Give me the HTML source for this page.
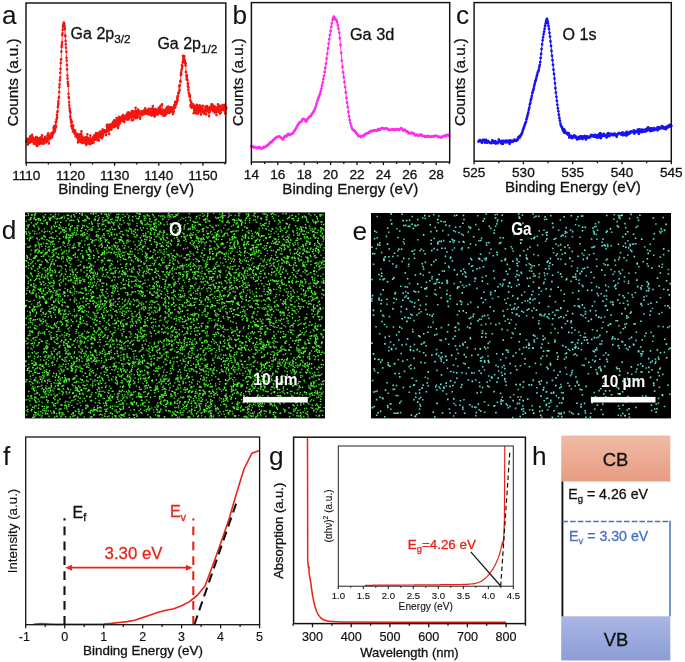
<!DOCTYPE html>
<html lang="en"><head><meta charset="utf-8"><title>Ga2O3 XPS, EDS mapping, valence band and optical band gap</title>
<style>html,body{margin:0;padding:0;background:#fff;overflow:hidden}svg{display:block}text{font-family:"Liberation Sans", Arial, Helvetica, sans-serif}</style></head><body>
<svg width="685" height="662" viewBox="0 0 685 662">
<rect width="685" height="662" fill="#fff"/>
<g id="panel-a">
<polyline points="26.3,141.3 26.5,142 26.7,140.6 27,139 27.2,140.1 27.4,138.8 27.6,141.4 27.8,144.6 28.1,140 28.3,139.7 28.5,142.4 28.7,142.1 28.9,141.5 29.2,138.9 29.4,141.1 29.6,142.9 29.8,137.8 30.1,140.1 30.3,136.4 30.5,138 30.7,136.6 30.9,140.6 31.2,138 31.4,141.8 31.6,141.6 31.8,140.7 32,134.9 32.3,139.8 32.5,141 32.7,141.4 32.9,137.3 33.1,139.9 33.4,138.7 33.6,139.1 33.8,143.7 34,139.1 34.2,141 34.5,143.3 34.7,139.6 34.9,140.8 35.1,141.3 35.4,141.2 35.6,137.9 35.8,141.2 36,144.4 36.2,137.1 36.5,143.1 36.7,141.2 36.9,139.3 37.1,145.9 37.3,142.8 37.6,137.9 37.8,141 38,142.3 38.2,140.4 38.4,142.5 38.7,140.6 38.9,142.4 39.1,144.3 39.3,139 39.5,141.2 39.8,139.5 40,141 40.2,137.7 40.4,139.1 40.6,140.1 40.9,142.8 41.1,143.4 41.3,137.2 41.5,138.5 41.8,142 42,135.4 42.2,139.2 42.4,140 42.6,143.4 42.9,141.9 43.1,139.3 43.3,139.2 43.5,139.4 43.7,143.8 44,138.9 44.2,139.2 44.4,140.7 44.6,139.5 44.8,139.2 45.1,136.9 45.3,139.6 45.5,138.4 45.7,142.4 45.9,141 46.2,139.3 46.4,140.9 46.6,138.3 46.8,141.7 47.1,139 47.3,140.3 47.5,135.6 47.7,139.5 47.9,134.4 48.2,133.4 48.4,137.6 48.6,136 48.8,138.5 49,143.5 49.3,135.8 49.5,136.1 49.7,138 49.9,138.5 50.1,136.7 50.4,136.5 50.6,138.5 50.8,137.9 51,133.8 51.2,136 51.5,136 51.7,133.1 51.9,136 52.1,133 52.3,137.1 52.6,134.9 52.8,134.3 53,132.3 53.2,133 53.5,128 53.7,129.6 53.9,132.7 54.1,126.2 54.3,132.6 54.6,125.8 54.8,131 55,126.4 55.2,129.3 55.4,126.9 55.7,122 55.9,127.3 56.1,126.5 56.3,121.7 56.5,119.8 56.8,118.5 57,115 57.2,117.8 57.4,112.2 57.6,111.2 57.9,107.3 58.1,105.3 58.3,101.4 58.5,103.8 58.8,98 59,97.1 59.2,92 59.4,87.3 59.6,84.4 59.9,80.3 60.1,77.5 60.3,72.8 60.5,68.9 60.7,63 61,59.8 61.2,59.3 61.4,51.6 61.6,46.9 61.8,44.8 62.1,42.4 62.3,35 62.5,33.3 62.7,29.8 62.9,26 63.2,26.9 63.4,24.5 63.6,23.7 63.8,22.5 64,24.1 64.3,23.9 64.5,25.9 64.7,26.8 64.9,29.1 65.2,35.2 65.4,36.2 65.6,40.9 65.8,44.3 66,47.8 66.3,51.8 66.5,57.7 66.7,60.5 66.9,65 67.1,69.4 67.4,75.5 67.6,78.6 67.8,82 68,84 68.2,86 68.5,93.8 68.7,97.1 68.9,98 69.1,102.3 69.3,105.6 69.6,108.3 69.8,111 70,110.3 70.2,116.7 70.4,112.6 70.7,119.1 70.9,120 71.1,122.4 71.3,126.1 71.6,126.6 71.8,121.8 72,121.6 72.2,128.5 72.4,125.2 72.7,128.4 72.9,131.2 73.1,126 73.3,125.6 73.5,131.9 73.8,131.9 74,131.7 74.2,132.9 74.4,131.2 74.6,130 74.9,133.7 75.1,132.1 75.3,130.8 75.5,136.3 75.7,135.2 76,136.6 76.2,133.5 76.4,134.5 76.6,133.9 76.9,134.4 77.1,137.3 77.3,135.1 77.5,138.1 77.7,138.2 78,142.5 78.2,134.3 78.4,140 78.6,137.8 78.8,138.1 79.1,134.7 79.3,137.3 79.5,140.4 79.7,138.4 79.9,139 80.2,138.2 80.4,141.8 80.6,139 80.8,133.7 81,137.6 81.3,134.5 81.5,131.4 81.7,138.2 81.9,142.9 82.1,139.8 82.4,136.8 82.6,137.5 82.8,142.7 83,140.3 83.3,140.1 83.5,139.9 83.7,140.2 83.9,142.2 84.1,141.6 84.4,140.8 84.6,137.7 84.8,141.7 85,138.7 85.2,143.2 85.5,137.4 85.7,140.2 85.9,140.6 86.1,137.3 86.3,145 86.6,144.3 86.8,139.6 87,142.7 87.2,141.7 87.4,134.3 87.7,141.4 87.9,140.6 88.1,141 88.3,138 88.6,140 88.8,140.2 89,143.6 89.2,141.4 89.4,140.5 89.7,144.2 89.9,139 90.1,139.3 90.3,135.6 90.5,144 90.8,142.4 91,142.2 91.2,141.5 91.4,140 91.6,140.1 91.9,138.8 92.1,138.8 92.3,139.4 92.5,142.9 92.7,140.4 93,138.7 93.2,137.3 93.4,137 93.6,142.5 93.8,139.6 94.1,138.3 94.3,137.2 94.5,135.1 94.7,137.6 95,139.8 95.2,136.5 95.4,136.8 95.6,136.7 95.8,137.4 96.1,133 96.3,136.3 96.5,134.6 96.7,138.8 96.9,134.6 97.2,137.8 97.4,140 97.6,135.3 97.8,134.5 98,136.3 98.3,135.7 98.5,133.1 98.7,136.6 98.9,140.4 99.1,134.5 99.4,134.5 99.6,132.3 99.8,135.6 100,131.5 100.3,131.7 100.5,137.5 100.7,131.9 100.9,136.7 101.1,137.7 101.4,134.4 101.6,135 101.8,138.3 102,132.8 102.2,131.6 102.5,129.6 102.7,132.9 102.9,136.4 103.1,134.9 103.3,130 103.6,130.1 103.8,130.8 104,132.6 104.2,131.2 104.4,132.1 104.7,132.2 104.9,130.5 105.1,131 105.3,131.5 105.5,130.6 105.8,131.9 106,135.1 106.2,131.8 106.4,130.3 106.7,125.8 106.9,130.8 107.1,124.8 107.3,126 107.5,131.5 107.8,131 108,128.7 108.2,124.7 108.4,127.9 108.6,126.9 108.9,130.1 109.1,134 109.3,128.7 109.5,126.1 109.7,125 110,127.6 110.2,127.1 110.4,124.5 110.6,127.5 110.8,124.2 111.1,129.7 111.3,129.4 111.5,129.3 111.7,125.3 112,127.6 112.2,125.8 112.4,125 112.6,124.9 112.8,122.4 113.1,121.9 113.3,127.3 113.5,124.7 113.7,125.5 113.9,127.3 114.2,120.3 114.4,122.5 114.6,124.8 114.8,125.1 115,123 115.3,126.4 115.5,124.2 115.7,120.5 115.9,121 116.1,125.2 116.4,124.2 116.6,118.1 116.8,126.1 117,124 117.2,125.8 117.5,121.3 117.7,121.3 117.9,119.1 118.1,128.1 118.4,121.2 118.6,125.5 118.8,119.7 119,121.6 119.2,116.9 119.5,120 119.7,123.2 119.9,117.5 120.1,123.2 120.3,121.2 120.6,117.6 120.8,118.8 121,118.8 121.2,119.7 121.4,118.4 121.7,117.5 121.9,118.7 122.1,116.8 122.3,116 122.5,119 122.8,121.2 123,115.1 123.2,118.8 123.4,117.1 123.7,116.2 123.9,120.6 124.1,117.1 124.3,122.1 124.5,116.3 124.8,119.1 125,117.5 125.2,116.1 125.4,119.3 125.6,117.4 125.9,119.2 126.1,117.5 126.3,114.8 126.5,117.2 126.7,117.5 127,119.6 127.2,114.9 127.4,117 127.6,112.7 127.8,118.5 128.1,114.1 128.3,112.2 128.5,116.5 128.7,119.4 128.9,112.7 129.2,113.7 129.4,114.5 129.6,113.5 129.8,117.2 130.1,114.1 130.3,114.3 130.5,117.5 130.7,114.1 130.9,117 131.2,113.4 131.4,112.7 131.6,111.1 131.8,120.3 132,114.8 132.3,116.1 132.5,115.4 132.7,115.8 132.9,115.5 133.1,120.1 133.4,112.6 133.6,111.3 133.8,112.6 134,111.8 134.2,116.9 134.5,117 134.7,112.5 134.9,111.4 135.1,114 135.4,118.3 135.6,107.7 135.8,116.1 136,112 136.2,117.3 136.5,111.9 136.7,113.9 136.9,110.8 137.1,112.1 137.3,117.9 137.6,116.5 137.8,113.4 138,112.2 138.2,109.6 138.4,113.3 138.7,114.2 138.9,114 139.1,113.9 139.3,111.3 139.5,113.9 139.8,114 140,117.3 140.2,118.7 140.4,113.6 140.6,112 140.9,113.7 141.1,112.4 141.3,112 141.5,113.7 141.8,111.2 142,115.3 142.2,113.5 142.4,114.3 142.6,113.2 142.9,111.8 143.1,111.2 143.3,113 143.5,112.2 143.7,114.1 144,113.5 144.2,110.1 144.4,113.6 144.6,110.1 144.8,111.9 145.1,112.6 145.3,108.2 145.5,113.6 145.7,113.7 145.9,112.9 146.2,112.2 146.4,112.3 146.6,110.8 146.8,112.5 147.1,111.8 147.3,113.4 147.5,110.1 147.7,113.7 147.9,113.4 148.2,112.7 148.4,111.9 148.6,114.4 148.8,108.8 149,114.1 149.3,113.5 149.5,113.6 149.7,113.8 149.9,111.2 150.1,112.1 150.4,114.4 150.6,113.8 150.8,113.2 151,108.9 151.2,114 151.5,115.6 151.7,115.1 151.9,113.2 152.1,108.7 152.3,114.9 152.6,112.1 152.8,106.1 153,113.4 153.2,108.7 153.5,109.2 153.7,110.8 153.9,115.5 154.1,111.4 154.3,113 154.6,116.6 154.8,116.2 155,111.9 155.2,111.6 155.4,109 155.7,110.4 155.9,113.2 156.1,113.1 156.3,112.3 156.5,114.5 156.8,110.1 157,111.8 157.2,113.8 157.4,113.4 157.6,114.6 157.9,112.8 158.1,111.1 158.3,112.7 158.5,109.3 158.7,107.7 159,113.2 159.2,111.6 159.4,112.4 159.6,107.4 159.9,110.7 160.1,110.1 160.3,109.4 160.5,105.9 160.7,110.7 161,113.7 161.2,112.4 161.4,109.9 161.6,111.3 161.8,113.2 162.1,104.4 162.3,111 162.5,112.6 162.7,112.9 162.9,115.4 163.2,114 163.4,111.9 163.6,111.9 163.8,113 164,109.7 164.3,110.9 164.5,113.2 164.7,115.8 164.9,110.5 165.2,110.7 165.4,111.3 165.6,114.1 165.8,110.7 166,114.4 166.3,108.3 166.5,110.2 166.7,110.1 166.9,112.5 167.1,113.1 167.4,106.7 167.6,108.1 167.8,111.2 168,108.7 168.2,106.5 168.5,112.8 168.7,111.4 168.9,111.3 169.1,108.9 169.3,112.6 169.6,109.4 169.8,112.6 170,107.6 170.2,107.7 170.4,110.2 170.7,107.9 170.9,111.3 171.1,110.2 171.3,107.2 171.6,109.5 171.8,108.4 172,111.4 172.2,107.5 172.4,107.8 172.7,111.8 172.9,114.1 173.1,113.4 173.3,108.4 173.5,108.6 173.8,111.6 174,107.3 174.2,105 174.4,107.4 174.6,107.9 174.9,104.4 175.1,102.1 175.3,102.1 175.5,106.8 175.7,102.8 176,103.8 176.2,104 176.4,104.3 176.6,101.3 176.9,102.5 177.1,98.4 177.3,98.8 177.5,96.3 177.7,100.2 178,96.4 178.2,93.6 178.4,93.2 178.6,92.2 178.8,92.9 179.1,86.2 179.3,85.9 179.5,85.8 179.7,90.4 179.9,85.2 180.2,81.1 180.4,80.9 180.6,81.8 180.8,75.1 181,72.9 181.3,74.2 181.5,70.8 181.7,69.3 181.9,65.2 182.1,68.2 182.4,66.3 182.6,62.7 182.8,61.7 183,55.7 183.3,60 183.5,58 183.7,59.1 183.9,59.7 184.1,58.2 184.4,56.3 184.6,61.1 184.8,60.1 185,62.3 185.2,63.2 185.5,65.4 185.7,63.3 185.9,72.1 186.1,72.1 186.3,75.8 186.6,79.5 186.8,77.4 187,75.4 187.2,79.2 187.4,80.3 187.7,83.6 187.9,86.5 188.1,83.6 188.3,90.3 188.6,87.6 188.8,93.1 189,93.5 189.2,94.3 189.4,96 189.7,96 189.9,96.9 190.1,95.3 190.3,100.1 190.5,105.4 190.8,106.5 191,105.6 191.2,104.8 191.4,102.1 191.6,107.8 191.9,104.7 192.1,105.1 192.3,105 192.5,106.3 192.7,105.4 193,106.6 193.2,104.4 193.4,106.4 193.6,113.2 193.8,107.7 194.1,107.5 194.3,109.6 194.5,110.2 194.7,105.9 195,108.2 195.2,111.2 195.4,109.7 195.6,109.5 195.8,113.1 196.1,107.7 196.3,109.7 196.5,108.3 196.7,113.4 196.9,104.9 197.2,108.2 197.4,108.6 197.6,111.6 197.8,111.5 198,113.6 198.3,106.2 198.5,112.1 198.7,109.5 198.9,108.6 199.1,111.7 199.4,108.1 199.6,105.3 199.8,109.5 200,106.8 200.3,108.9 200.5,111.5 200.7,111.4 200.9,114.6 201.1,110.1 201.4,106.8 201.6,108.8 201.8,108.4 202,107.6 202.2,111.8 202.5,109.1 202.7,105.7 202.9,112.4 203.1,110.4 203.3,111.5 203.6,110.9 203.8,112.2 204,110.7 204.2,113.7 204.4,111.6 204.7,111.5 204.9,111.5 205.1,106.9 205.3,110.1 205.5,109.8 205.8,110.9 206,107 206.2,114.4 206.4,110.6 206.7,107.3 206.9,106 207.1,109.5 207.3,109.9 207.5,108.3 207.8,110.3 208,108.5 208.2,111.4 208.4,108.2 208.6,109.9 208.9,112.4 209.1,116.3 209.3,107.3 209.5,108.6 209.7,107.7 210,111.7 210.2,106.8 210.4,108.4 210.6,109.5 210.8,107.1 211.1,107.2 211.3,108.3 211.5,104.2 211.7,105.8 212,108.4 212.2,109.8 212.4,108.9 212.6,104.9 212.8,108.2 213.1,111.3 213.3,110.6 213.5,109 213.7,107 213.9,110.7 214.2,107.7 214.4,106.2 214.6,107.1 214.8,112.7 215,109.6 215.3,111.9 215.5,107.8 215.7,111.3 215.9,107.4 216.1,108.5 216.4,115.1 216.6,110.7 216.8,107.5 217,108.5 217.2,109.5 217.5,111.7 217.7,107.4 217.9,104.3 218.1,107.9 218.4,108.6 218.6,108.8 218.8,111.8 219,109.3 219.2,110.5 219.5,105.7 219.7,110.6 219.9,113.6 220.1,110.3 220.3,108.9 220.6,108.7 220.8,112.7 221,105.9 221.2,107.9 221.4,109.3 221.7,110 221.9,107 222.1,108.9 222.3,107.4 222.5,108.3 222.8,107.7 223,105.1 223.2,107.9 223.4,110.1 223.7,105.5 223.9,107.3 224.1,109.5 224.3,105.1 224.5,108.3 224.8,105.1 225,110.6 225.2,113.5 225.4,112.7 225.6,107.1 225.9,109.5 226.1,107.9 226.3,107.8" fill="none" stroke="#f4150f" stroke-width="0.8" stroke-linejoin="round"/>
<path d="M26.3 141.3h0M26.5 142h0M26.7 140.6h0M27 139h0M27.2 140.1h0M27.4 138.8h0M27.6 141.4h0M27.8 144.6h0M28.1 140h0M28.3 139.7h0M28.5 142.4h0M28.7 142.1h0M28.9 141.5h0M29.2 138.9h0M29.4 141.1h0M29.6 142.9h0M29.8 137.8h0M30.1 140.1h0M30.3 136.4h0M30.5 138h0M30.7 136.6h0M30.9 140.6h0M31.2 138h0M31.4 141.8h0M31.6 141.6h0M31.8 140.7h0M32 134.9h0M32.3 139.8h0M32.5 141h0M32.7 141.4h0M32.9 137.3h0M33.1 139.9h0M33.4 138.7h0M33.6 139.1h0M33.8 143.7h0M34 139.1h0M34.2 141h0M34.5 143.3h0M34.7 139.6h0M34.9 140.8h0M35.1 141.3h0M35.4 141.2h0M35.6 137.9h0M35.8 141.2h0M36 144.4h0M36.2 137.1h0M36.5 143.1h0M36.7 141.2h0M36.9 139.3h0M37.1 145.9h0M37.3 142.8h0M37.6 137.9h0M37.8 141h0M38 142.3h0M38.2 140.4h0M38.4 142.5h0M38.7 140.6h0M38.9 142.4h0M39.1 144.3h0M39.3 139h0M39.5 141.2h0M39.8 139.5h0M40 141h0M40.2 137.7h0M40.4 139.1h0M40.6 140.1h0M40.9 142.8h0M41.1 143.4h0M41.3 137.2h0M41.5 138.5h0M41.8 142h0M42 135.4h0M42.2 139.2h0M42.4 140h0M42.6 143.4h0M42.9 141.9h0M43.1 139.3h0M43.3 139.2h0M43.5 139.4h0M43.7 143.8h0M44 138.9h0M44.2 139.2h0M44.4 140.7h0M44.6 139.5h0M44.8 139.2h0M45.1 136.9h0M45.3 139.6h0M45.5 138.4h0M45.7 142.4h0M45.9 141h0M46.2 139.3h0M46.4 140.9h0M46.6 138.3h0M46.8 141.7h0M47.1 139h0M47.3 140.3h0M47.5 135.6h0M47.7 139.5h0M47.9 134.4h0M48.2 133.4h0M48.4 137.6h0M48.6 136h0M48.8 138.5h0M49 143.5h0M49.3 135.8h0M49.5 136.1h0M49.7 138h0M49.9 138.5h0M50.1 136.7h0M50.4 136.5h0M50.6 138.5h0M50.8 137.9h0M51 133.8h0M51.2 136h0M51.5 136h0M51.7 133.1h0M51.9 136h0M52.1 133h0M52.3 137.1h0M52.6 134.9h0M52.8 134.3h0M53 132.3h0M53.2 133h0M53.5 128h0M53.7 129.6h0M53.9 132.7h0M54.1 126.2h0M54.3 132.6h0M54.6 125.8h0M54.8 131h0M55 126.4h0M55.2 129.3h0M55.4 126.9h0M55.7 122h0M55.9 127.3h0M56.1 126.5h0M56.3 121.7h0M56.5 119.8h0M56.8 118.5h0M57 115h0M57.2 117.8h0M57.4 112.2h0M57.6 111.2h0M57.9 107.3h0M58.1 105.3h0M58.3 101.4h0M58.5 103.8h0M58.8 98h0M59 97.1h0M59.2 92h0M59.4 87.3h0M59.6 84.4h0M59.9 80.3h0M60.1 77.5h0M60.3 72.8h0M60.5 68.9h0M60.7 63h0M61 59.8h0M61.2 59.3h0M61.4 51.6h0M61.6 46.9h0M61.8 44.8h0M62.1 42.4h0M62.3 35h0M62.5 33.3h0M62.7 29.8h0M62.9 26h0M63.2 26.9h0M63.4 24.5h0M63.6 23.7h0M63.8 22.5h0M64 24.1h0M64.3 23.9h0M64.5 25.9h0M64.7 26.8h0M64.9 29.1h0M65.2 35.2h0M65.4 36.2h0M65.6 40.9h0M65.8 44.3h0M66 47.8h0M66.3 51.8h0M66.5 57.7h0M66.7 60.5h0M66.9 65h0M67.1 69.4h0M67.4 75.5h0M67.6 78.6h0M67.8 82h0M68 84h0M68.2 86h0M68.5 93.8h0M68.7 97.1h0M68.9 98h0M69.1 102.3h0M69.3 105.6h0M69.6 108.3h0M69.8 111h0M70 110.3h0M70.2 116.7h0M70.4 112.6h0M70.7 119.1h0M70.9 120h0M71.1 122.4h0M71.3 126.1h0M71.6 126.6h0M71.8 121.8h0M72 121.6h0M72.2 128.5h0M72.4 125.2h0M72.7 128.4h0M72.9 131.2h0M73.1 126h0M73.3 125.6h0M73.5 131.9h0M73.8 131.9h0M74 131.7h0M74.2 132.9h0M74.4 131.2h0M74.6 130h0M74.9 133.7h0M75.1 132.1h0M75.3 130.8h0M75.5 136.3h0M75.7 135.2h0M76 136.6h0M76.2 133.5h0M76.4 134.5h0M76.6 133.9h0M76.9 134.4h0M77.1 137.3h0M77.3 135.1h0M77.5 138.1h0M77.7 138.2h0M78 142.5h0M78.2 134.3h0M78.4 140h0M78.6 137.8h0M78.8 138.1h0M79.1 134.7h0M79.3 137.3h0M79.5 140.4h0M79.7 138.4h0M79.9 139h0M80.2 138.2h0M80.4 141.8h0M80.6 139h0M80.8 133.7h0M81 137.6h0M81.3 134.5h0M81.5 131.4h0M81.7 138.2h0M81.9 142.9h0M82.1 139.8h0M82.4 136.8h0M82.6 137.5h0M82.8 142.7h0M83 140.3h0M83.3 140.1h0M83.5 139.9h0M83.7 140.2h0M83.9 142.2h0M84.1 141.6h0M84.4 140.8h0M84.6 137.7h0M84.8 141.7h0M85 138.7h0M85.2 143.2h0M85.5 137.4h0M85.7 140.2h0M85.9 140.6h0M86.1 137.3h0M86.3 145h0M86.6 144.3h0M86.8 139.6h0M87 142.7h0M87.2 141.7h0M87.4 134.3h0M87.7 141.4h0M87.9 140.6h0M88.1 141h0M88.3 138h0M88.6 140h0M88.8 140.2h0M89 143.6h0M89.2 141.4h0M89.4 140.5h0M89.7 144.2h0M89.9 139h0M90.1 139.3h0M90.3 135.6h0M90.5 144h0M90.8 142.4h0M91 142.2h0M91.2 141.5h0M91.4 140h0M91.6 140.1h0M91.9 138.8h0M92.1 138.8h0M92.3 139.4h0M92.5 142.9h0M92.7 140.4h0M93 138.7h0M93.2 137.3h0M93.4 137h0M93.6 142.5h0M93.8 139.6h0M94.1 138.3h0M94.3 137.2h0M94.5 135.1h0M94.7 137.6h0M95 139.8h0M95.2 136.5h0M95.4 136.8h0M95.6 136.7h0M95.8 137.4h0M96.1 133h0M96.3 136.3h0M96.5 134.6h0M96.7 138.8h0M96.9 134.6h0M97.2 137.8h0M97.4 140h0M97.6 135.3h0M97.8 134.5h0M98 136.3h0M98.3 135.7h0M98.5 133.1h0M98.7 136.6h0M98.9 140.4h0M99.1 134.5h0M99.4 134.5h0M99.6 132.3h0M99.8 135.6h0M100 131.5h0M100.3 131.7h0M100.5 137.5h0M100.7 131.9h0M100.9 136.7h0M101.1 137.7h0M101.4 134.4h0M101.6 135h0M101.8 138.3h0M102 132.8h0M102.2 131.6h0M102.5 129.6h0M102.7 132.9h0M102.9 136.4h0M103.1 134.9h0M103.3 130h0M103.6 130.1h0M103.8 130.8h0M104 132.6h0M104.2 131.2h0M104.4 132.1h0M104.7 132.2h0M104.9 130.5h0M105.1 131h0M105.3 131.5h0M105.5 130.6h0M105.8 131.9h0M106 135.1h0M106.2 131.8h0M106.4 130.3h0M106.7 125.8h0M106.9 130.8h0M107.1 124.8h0M107.3 126h0M107.5 131.5h0M107.8 131h0M108 128.7h0M108.2 124.7h0M108.4 127.9h0M108.6 126.9h0M108.9 130.1h0M109.1 134h0M109.3 128.7h0M109.5 126.1h0M109.7 125h0M110 127.6h0M110.2 127.1h0M110.4 124.5h0M110.6 127.5h0M110.8 124.2h0M111.1 129.7h0M111.3 129.4h0M111.5 129.3h0M111.7 125.3h0M112 127.6h0M112.2 125.8h0M112.4 125h0M112.6 124.9h0M112.8 122.4h0M113.1 121.9h0M113.3 127.3h0M113.5 124.7h0M113.7 125.5h0M113.9 127.3h0M114.2 120.3h0M114.4 122.5h0M114.6 124.8h0M114.8 125.1h0M115 123h0M115.3 126.4h0M115.5 124.2h0M115.7 120.5h0M115.9 121h0M116.1 125.2h0M116.4 124.2h0M116.6 118.1h0M116.8 126.1h0M117 124h0M117.2 125.8h0M117.5 121.3h0M117.7 121.3h0M117.9 119.1h0M118.1 128.1h0M118.4 121.2h0M118.6 125.5h0M118.8 119.7h0M119 121.6h0M119.2 116.9h0M119.5 120h0M119.7 123.2h0M119.9 117.5h0M120.1 123.2h0M120.3 121.2h0M120.6 117.6h0M120.8 118.8h0M121 118.8h0M121.2 119.7h0M121.4 118.4h0M121.7 117.5h0M121.9 118.7h0M122.1 116.8h0M122.3 116h0M122.5 119h0M122.8 121.2h0M123 115.1h0M123.2 118.8h0M123.4 117.1h0M123.7 116.2h0M123.9 120.6h0M124.1 117.1h0M124.3 122.1h0M124.5 116.3h0M124.8 119.1h0M125 117.5h0M125.2 116.1h0M125.4 119.3h0M125.6 117.4h0M125.9 119.2h0M126.1 117.5h0M126.3 114.8h0M126.5 117.2h0M126.7 117.5h0M127 119.6h0M127.2 114.9h0M127.4 117h0M127.6 112.7h0M127.8 118.5h0M128.1 114.1h0M128.3 112.2h0M128.5 116.5h0M128.7 119.4h0M128.9 112.7h0M129.2 113.7h0M129.4 114.5h0M129.6 113.5h0M129.8 117.2h0M130.1 114.1h0M130.3 114.3h0M130.5 117.5h0M130.7 114.1h0M130.9 117h0M131.2 113.4h0M131.4 112.7h0M131.6 111.1h0M131.8 120.3h0M132 114.8h0M132.3 116.1h0M132.5 115.4h0M132.7 115.8h0M132.9 115.5h0M133.1 120.1h0M133.4 112.6h0M133.6 111.3h0M133.8 112.6h0M134 111.8h0M134.2 116.9h0M134.5 117h0M134.7 112.5h0M134.9 111.4h0M135.1 114h0M135.4 118.3h0M135.6 107.7h0M135.8 116.1h0M136 112h0M136.2 117.3h0M136.5 111.9h0M136.7 113.9h0M136.9 110.8h0M137.1 112.1h0M137.3 117.9h0M137.6 116.5h0M137.8 113.4h0M138 112.2h0M138.2 109.6h0M138.4 113.3h0M138.7 114.2h0M138.9 114h0M139.1 113.9h0M139.3 111.3h0M139.5 113.9h0M139.8 114h0M140 117.3h0M140.2 118.7h0M140.4 113.6h0M140.6 112h0M140.9 113.7h0M141.1 112.4h0M141.3 112h0M141.5 113.7h0M141.8 111.2h0M142 115.3h0M142.2 113.5h0M142.4 114.3h0M142.6 113.2h0M142.9 111.8h0M143.1 111.2h0M143.3 113h0M143.5 112.2h0M143.7 114.1h0M144 113.5h0M144.2 110.1h0M144.4 113.6h0M144.6 110.1h0M144.8 111.9h0M145.1 112.6h0M145.3 108.2h0M145.5 113.6h0M145.7 113.7h0M145.9 112.9h0M146.2 112.2h0M146.4 112.3h0M146.6 110.8h0M146.8 112.5h0M147.1 111.8h0M147.3 113.4h0M147.5 110.1h0M147.7 113.7h0M147.9 113.4h0M148.2 112.7h0M148.4 111.9h0M148.6 114.4h0M148.8 108.8h0M149 114.1h0M149.3 113.5h0M149.5 113.6h0M149.7 113.8h0M149.9 111.2h0M150.1 112.1h0M150.4 114.4h0M150.6 113.8h0M150.8 113.2h0M151 108.9h0M151.2 114h0M151.5 115.6h0M151.7 115.1h0M151.9 113.2h0M152.1 108.7h0M152.3 114.9h0M152.6 112.1h0M152.8 106.1h0M153 113.4h0M153.2 108.7h0M153.5 109.2h0M153.7 110.8h0M153.9 115.5h0M154.1 111.4h0M154.3 113h0M154.6 116.6h0M154.8 116.2h0M155 111.9h0M155.2 111.6h0M155.4 109h0M155.7 110.4h0M155.9 113.2h0M156.1 113.1h0M156.3 112.3h0M156.5 114.5h0M156.8 110.1h0M157 111.8h0M157.2 113.8h0M157.4 113.4h0M157.6 114.6h0M157.9 112.8h0M158.1 111.1h0M158.3 112.7h0M158.5 109.3h0M158.7 107.7h0M159 113.2h0M159.2 111.6h0M159.4 112.4h0M159.6 107.4h0M159.9 110.7h0M160.1 110.1h0M160.3 109.4h0M160.5 105.9h0M160.7 110.7h0M161 113.7h0M161.2 112.4h0M161.4 109.9h0M161.6 111.3h0M161.8 113.2h0M162.1 104.4h0M162.3 111h0M162.5 112.6h0M162.7 112.9h0M162.9 115.4h0M163.2 114h0M163.4 111.9h0M163.6 111.9h0M163.8 113h0M164 109.7h0M164.3 110.9h0M164.5 113.2h0M164.7 115.8h0M164.9 110.5h0M165.2 110.7h0M165.4 111.3h0M165.6 114.1h0M165.8 110.7h0M166 114.4h0M166.3 108.3h0M166.5 110.2h0M166.7 110.1h0M166.9 112.5h0M167.1 113.1h0M167.4 106.7h0M167.6 108.1h0M167.8 111.2h0M168 108.7h0M168.2 106.5h0M168.5 112.8h0M168.7 111.4h0M168.9 111.3h0M169.1 108.9h0M169.3 112.6h0M169.6 109.4h0M169.8 112.6h0M170 107.6h0M170.2 107.7h0M170.4 110.2h0M170.7 107.9h0M170.9 111.3h0M171.1 110.2h0M171.3 107.2h0M171.6 109.5h0M171.8 108.4h0M172 111.4h0M172.2 107.5h0M172.4 107.8h0M172.7 111.8h0M172.9 114.1h0M173.1 113.4h0M173.3 108.4h0M173.5 108.6h0M173.8 111.6h0M174 107.3h0M174.2 105h0M174.4 107.4h0M174.6 107.9h0M174.9 104.4h0M175.1 102.1h0M175.3 102.1h0M175.5 106.8h0M175.7 102.8h0M176 103.8h0M176.2 104h0M176.4 104.3h0M176.6 101.3h0M176.9 102.5h0M177.1 98.4h0M177.3 98.8h0M177.5 96.3h0M177.7 100.2h0M178 96.4h0M178.2 93.6h0M178.4 93.2h0M178.6 92.2h0M178.8 92.9h0M179.1 86.2h0M179.3 85.9h0M179.5 85.8h0M179.7 90.4h0M179.9 85.2h0M180.2 81.1h0M180.4 80.9h0M180.6 81.8h0M180.8 75.1h0M181 72.9h0M181.3 74.2h0M181.5 70.8h0M181.7 69.3h0M181.9 65.2h0M182.1 68.2h0M182.4 66.3h0M182.6 62.7h0M182.8 61.7h0M183 55.7h0M183.3 60h0M183.5 58h0M183.7 59.1h0M183.9 59.7h0M184.1 58.2h0M184.4 56.3h0M184.6 61.1h0M184.8 60.1h0M185 62.3h0M185.2 63.2h0M185.5 65.4h0M185.7 63.3h0M185.9 72.1h0M186.1 72.1h0M186.3 75.8h0M186.6 79.5h0M186.8 77.4h0M187 75.4h0M187.2 79.2h0M187.4 80.3h0M187.7 83.6h0M187.9 86.5h0M188.1 83.6h0M188.3 90.3h0M188.6 87.6h0M188.8 93.1h0M189 93.5h0M189.2 94.3h0M189.4 96h0M189.7 96h0M189.9 96.9h0M190.1 95.3h0M190.3 100.1h0M190.5 105.4h0M190.8 106.5h0M191 105.6h0M191.2 104.8h0M191.4 102.1h0M191.6 107.8h0M191.9 104.7h0M192.1 105.1h0M192.3 105h0M192.5 106.3h0M192.7 105.4h0M193 106.6h0M193.2 104.4h0M193.4 106.4h0M193.6 113.2h0M193.8 107.7h0M194.1 107.5h0M194.3 109.6h0M194.5 110.2h0M194.7 105.9h0M195 108.2h0M195.2 111.2h0M195.4 109.7h0M195.6 109.5h0M195.8 113.1h0M196.1 107.7h0M196.3 109.7h0M196.5 108.3h0M196.7 113.4h0M196.9 104.9h0M197.2 108.2h0M197.4 108.6h0M197.6 111.6h0M197.8 111.5h0M198 113.6h0M198.3 106.2h0M198.5 112.1h0M198.7 109.5h0M198.9 108.6h0M199.1 111.7h0M199.4 108.1h0M199.6 105.3h0M199.8 109.5h0M200 106.8h0M200.3 108.9h0M200.5 111.5h0M200.7 111.4h0M200.9 114.6h0M201.1 110.1h0M201.4 106.8h0M201.6 108.8h0M201.8 108.4h0M202 107.6h0M202.2 111.8h0M202.5 109.1h0M202.7 105.7h0M202.9 112.4h0M203.1 110.4h0M203.3 111.5h0M203.6 110.9h0M203.8 112.2h0M204 110.7h0M204.2 113.7h0M204.4 111.6h0M204.7 111.5h0M204.9 111.5h0M205.1 106.9h0M205.3 110.1h0M205.5 109.8h0M205.8 110.9h0M206 107h0M206.2 114.4h0M206.4 110.6h0M206.7 107.3h0M206.9 106h0M207.1 109.5h0M207.3 109.9h0M207.5 108.3h0M207.8 110.3h0M208 108.5h0M208.2 111.4h0M208.4 108.2h0M208.6 109.9h0M208.9 112.4h0M209.1 116.3h0M209.3 107.3h0M209.5 108.6h0M209.7 107.7h0M210 111.7h0M210.2 106.8h0M210.4 108.4h0M210.6 109.5h0M210.8 107.1h0M211.1 107.2h0M211.3 108.3h0M211.5 104.2h0M211.7 105.8h0M212 108.4h0M212.2 109.8h0M212.4 108.9h0M212.6 104.9h0M212.8 108.2h0M213.1 111.3h0M213.3 110.6h0M213.5 109h0M213.7 107h0M213.9 110.7h0M214.2 107.7h0M214.4 106.2h0M214.6 107.1h0M214.8 112.7h0M215 109.6h0M215.3 111.9h0M215.5 107.8h0M215.7 111.3h0M215.9 107.4h0M216.1 108.5h0M216.4 115.1h0M216.6 110.7h0M216.8 107.5h0M217 108.5h0M217.2 109.5h0M217.5 111.7h0M217.7 107.4h0M217.9 104.3h0M218.1 107.9h0M218.4 108.6h0M218.6 108.8h0M218.8 111.8h0M219 109.3h0M219.2 110.5h0M219.5 105.7h0M219.7 110.6h0M219.9 113.6h0M220.1 110.3h0M220.3 108.9h0M220.6 108.7h0M220.8 112.7h0M221 105.9h0M221.2 107.9h0M221.4 109.3h0M221.7 110h0M221.9 107h0M222.1 108.9h0M222.3 107.4h0M222.5 108.3h0M222.8 107.7h0M223 105.1h0M223.2 107.9h0M223.4 110.1h0M223.7 105.5h0M223.9 107.3h0M224.1 109.5h0M224.3 105.1h0M224.5 108.3h0M224.8 105.1h0M225 110.6h0M225.2 113.5h0M225.4 112.7h0M225.6 107.1h0M225.9 109.5h0M226.1 107.9h0M226.3 107.8h0" stroke="#f4150f" stroke-width="2.6" stroke-linecap="round" fill="none"/>
<rect x="26" y="3" width="199.8" height="159.6" fill="none" stroke="#111" stroke-width="1.45"/>
<path d="M26.3 162.6v3.1M70.5 162.6v3.1M114.6 162.6v3.1M158.8 162.6v3.1M202.9 162.6v3.1" stroke="#111" stroke-width="1.3" fill="none"/>
<path d="M48.4 162.6v2M92.5 162.6v2M136.7 162.6v2M180.8 162.6v2M225 162.6v2" stroke="#111" stroke-width="1.3" fill="none"/>
<text x="26.3" y="179.7" font-size="13.6" text-anchor="middle" fill="#111" stroke="#111" stroke-width="0.3">1110</text>
<text x="70.5" y="179.7" font-size="13.6" text-anchor="middle" fill="#111" stroke="#111" stroke-width="0.3">1120</text>
<text x="114.6" y="179.7" font-size="13.6" text-anchor="middle" fill="#111" stroke="#111" stroke-width="0.3">1130</text>
<text x="158.8" y="179.7" font-size="13.6" text-anchor="middle" fill="#111" stroke="#111" stroke-width="0.3">1140</text>
<text x="202.9" y="179.7" font-size="13.6" text-anchor="middle" fill="#111" stroke="#111" stroke-width="0.3">1150</text>
<text x="126.2" y="193.8" font-size="15.2" text-anchor="middle" fill="#111" stroke="#111" stroke-width="0.3">Binding Energy (eV)</text>
<text transform="translate(17.8 82.3) rotate(-90)" font-size="15.2" text-anchor="middle" fill="#111" stroke="#111" stroke-width="0.3">Counts (a.u.)</text>
<text x="70.6" y="38.6" font-size="16" text-anchor="start" fill="#111" stroke="#111" stroke-width="0.3">Ga 2p<tspan font-size="11.8" dy="4.2">3/2</tspan></text>
<text x="157.4" y="49" font-size="16" text-anchor="start" fill="#111" stroke="#111" stroke-width="0.3">Ga 2p<tspan font-size="11.8" dy="4.2">1/2</tspan></text>
<text x="2.1" y="24.3" font-size="26.2" text-anchor="start" fill="#111" stroke="#111" stroke-width="0.05">a</text>
</g>
<g id="panel-b">
<polyline points="251.4,146.2 252.1,146.5 252.7,146.4 253.4,147.3 254,147.4 254.7,147.3 255.4,147.1 256,147.6 256.7,148 257.3,148 258,147.8 258.7,147.1 259.3,147.1 260,147.8 260.6,148.6 261.3,148.3 262,148.4 262.6,148.3 263.3,147.7 263.9,147 264.6,147.3 265.3,146.9 265.9,146.7 266.6,146 267.2,145.5 267.9,145 268.6,144.8 269.2,144 269.9,142.6 270.5,142.3 271.2,142.4 271.9,141.7 272.5,140.8 273.2,140.2 273.8,139.6 274.5,138.9 275.2,138.3 275.8,137.8 276.5,137.2 277.1,136.9 277.8,136.9 278.5,136.7 279.1,136.4 279.8,136.6 280.4,137 281.1,137.8 281.8,138.5 282.4,139.2 283.1,139.3 283.7,138 284.4,137 285.1,136 285.7,136.3 286.4,136.5 287,135.7 287.7,134.3 288.4,133.9 289,134.7 289.7,135.1 290.3,134.6 291,134.2 291.7,133.9 292.3,133.6 293,133.3 293.6,132.1 294.3,131.2 295,129.8 295.6,129.2 296.3,128 296.9,126.7 297.6,125.4 298.3,124.3 298.9,123.5 299.6,122.4 300.2,122.1 300.9,121.8 301.6,121.2 302.2,119.8 302.9,119.1 303.5,119 304.2,119.3 304.9,119.7 305.5,121.1 306.2,121.5 306.8,120.4 307.5,119.1 308.2,118.3 308.8,117.4 309.5,117 310.1,116.3 310.8,115.9 311.5,114.7 312.1,113.9 312.8,113 313.4,111.9 314.1,110.8 314.8,109.2 315.4,107.7 316.1,105.6 316.7,103.4 317.4,100.9 318.1,99 318.7,97.4 319.4,95.7 320,93.7 320.7,91.2 321.4,88.7 322,85.7 322.7,82.7 323.3,79.2 324,75.8 324.7,71.9 325.3,68 326,63.6 326.6,58.7 327.3,53.6 328,48.5 328.6,43.6 329.3,39.1 329.9,34.9 330.6,30.9 331.3,26.7 331.9,23.3 332.6,19.9 333.2,17.9 333.9,16.6 334.6,17.6 335.2,19.2 335.9,19.8 336.5,20.1 337.2,22.3 337.9,25.3 338.5,28.7 339.2,32.6 339.8,38.2 340.5,44.9 341.2,52.8 341.8,60.6 342.5,67 343.1,72.3 343.8,77.3 344.5,82.2 345.1,87.1 345.8,92.5 346.4,98 347.1,102.7 347.8,107.1 348.4,111.9 349.1,116.5 349.7,120.2 350.4,123.1 351.1,125.3 351.7,127.6 352.4,129.2 353,129.8 353.7,130.1 354.4,130.8 355,131.2 355.7,132.2 356.3,132.9 357,134 357.7,134.9 358.3,136.1 359,136.2 359.6,136.2 360.3,136.6 361,137 361.6,136.3 362.3,135.9 362.9,135.7 363.6,136 364.3,135.3 364.9,134.6 365.6,133.8 366.2,133.8 366.9,133.5 367.6,133.2 368.2,132.9 368.9,132.9 369.5,132 370.2,131.5 370.9,130.9 371.5,131.3 372.2,131.2 372.8,130.9 373.5,130.3 374.2,130.3 374.8,130.6 375.5,130.3 376.1,130.3 376.8,130.8 377.5,130.4 378.1,129.2 378.8,129.2 379.4,130 380.1,129.7 380.8,128.8 381.4,128.3 382.1,128.2 382.7,128.2 383.4,128.7 384.1,128.8 384.7,128.8 385.4,128.3 386,128.4 386.7,128.5 387.4,128.8 388,129.3 388.7,129.8 389.3,130 390,129.9 390.7,129.8 391.3,129.6 392,129.4 392.6,129.7 393.3,129.5 394,129.9 394.6,129.9 395.3,129.9 395.9,129.3 396.6,129.1 397.3,129.4 397.9,129.4 398.6,129.9 399.2,129.8 399.9,129.1 400.6,128.4 401.2,128.2 401.9,128.8 402.5,129.6 403.2,130.6 403.9,130.3 404.5,129.7 405.2,130.2 405.8,131.2 406.5,131.4 407.2,131.4 407.8,132.5 408.5,133.3 409.1,133.3 409.8,133 410.5,133.1 411.1,133.2 411.8,133 412.4,133 413.1,133.3 413.8,133.7 414.4,134 415.1,135.3 415.7,135.4 416.4,135.2 417.1,134.7 417.7,135.2 418.4,135.7 419,135.8 419.7,135.4 420.4,134.7 421,134.6 421.7,135.2 422.3,136 423,136.1 423.7,135.9 424.3,136.1 425,136.8 425.6,136.9 426.3,136.8 427,136.2 427.6,135.9 428.3,136.6 428.9,136.7 429.6,136.6 430.3,136.3 430.9,136.9 431.6,136.6 432.2,136.4 432.9,136.6 433.6,136.7 434.2,136.1 434.9,135.8 435.5,135.7 436.2,136 436.9,136.1 437.5,136.6 438.2,137.1 438.8,136.8 439.5,136.8 440.2,136.9 440.8,137.4 441.5,137.6 442.1,137.1 442.8,136.5 443.5,136.3 444.1,136 444.8,135.9 445.4,135.6 446.1,135.8 446.8,135.2 447.4,134.9 448.1,135 448.7,135.9 449.4,136.3" fill="none" stroke="#ff2aee" stroke-width="1.0" stroke-linejoin="round"/>
<path d="M251.4 146.2h0M252.1 146.5h0M252.7 146.4h0M253.4 147.3h0M254 147.4h0M254.7 147.3h0M255.4 147.1h0M256 147.6h0M256.7 148h0M257.3 148h0M258 147.8h0M258.7 147.1h0M259.3 147.1h0M260 147.8h0M260.6 148.6h0M261.3 148.3h0M262 148.4h0M262.6 148.3h0M263.3 147.7h0M263.9 147h0M264.6 147.3h0M265.3 146.9h0M265.9 146.7h0M266.6 146h0M267.2 145.5h0M267.9 145h0M268.6 144.8h0M269.2 144h0M269.9 142.6h0M270.5 142.3h0M271.2 142.4h0M271.9 141.7h0M272.5 140.8h0M273.2 140.2h0M273.8 139.6h0M274.5 138.9h0M275.2 138.3h0M275.8 137.8h0M276.5 137.2h0M277.1 136.9h0M277.8 136.9h0M278.5 136.7h0M279.1 136.4h0M279.8 136.6h0M280.4 137h0M281.1 137.8h0M281.8 138.5h0M282.4 139.2h0M283.1 139.3h0M283.7 138h0M284.4 137h0M285.1 136h0M285.7 136.3h0M286.4 136.5h0M287 135.7h0M287.7 134.3h0M288.4 133.9h0M289 134.7h0M289.7 135.1h0M290.3 134.6h0M291 134.2h0M291.7 133.9h0M292.3 133.6h0M293 133.3h0M293.6 132.1h0M294.3 131.2h0M295 129.8h0M295.6 129.2h0M296.3 128h0M296.9 126.7h0M297.6 125.4h0M298.3 124.3h0M298.9 123.5h0M299.6 122.4h0M300.2 122.1h0M300.9 121.8h0M301.6 121.2h0M302.2 119.8h0M302.9 119.1h0M303.5 119h0M304.2 119.3h0M304.9 119.7h0M305.5 121.1h0M306.2 121.5h0M306.8 120.4h0M307.5 119.1h0M308.2 118.3h0M308.8 117.4h0M309.5 117h0M310.1 116.3h0M310.8 115.9h0M311.5 114.7h0M312.1 113.9h0M312.8 113h0M313.4 111.9h0M314.1 110.8h0M314.8 109.2h0M315.4 107.7h0M316.1 105.6h0M316.7 103.4h0M317.4 100.9h0M318.1 99h0M318.7 97.4h0M319.4 95.7h0M320 93.7h0M320.7 91.2h0M321.4 88.7h0M322 85.7h0M322.7 82.7h0M323.3 79.2h0M324 75.8h0M324.7 71.9h0M325.3 68h0M326 63.6h0M326.6 58.7h0M327.3 53.6h0M328 48.5h0M328.6 43.6h0M329.3 39.1h0M329.9 34.9h0M330.6 30.9h0M331.3 26.7h0M331.9 23.3h0M332.6 19.9h0M333.2 17.9h0M333.9 16.6h0M334.6 17.6h0M335.2 19.2h0M335.9 19.8h0M336.5 20.1h0M337.2 22.3h0M337.9 25.3h0M338.5 28.7h0M339.2 32.6h0M339.8 38.2h0M340.5 44.9h0M341.2 52.8h0M341.8 60.6h0M342.5 67h0M343.1 72.3h0M343.8 77.3h0M344.5 82.2h0M345.1 87.1h0M345.8 92.5h0M346.4 98h0M347.1 102.7h0M347.8 107.1h0M348.4 111.9h0M349.1 116.5h0M349.7 120.2h0M350.4 123.1h0M351.1 125.3h0M351.7 127.6h0M352.4 129.2h0M353 129.8h0M353.7 130.1h0M354.4 130.8h0M355 131.2h0M355.7 132.2h0M356.3 132.9h0M357 134h0M357.7 134.9h0M358.3 136.1h0M359 136.2h0M359.6 136.2h0M360.3 136.6h0M361 137h0M361.6 136.3h0M362.3 135.9h0M362.9 135.7h0M363.6 136h0M364.3 135.3h0M364.9 134.6h0M365.6 133.8h0M366.2 133.8h0M366.9 133.5h0M367.6 133.2h0M368.2 132.9h0M368.9 132.9h0M369.5 132h0M370.2 131.5h0M370.9 130.9h0M371.5 131.3h0M372.2 131.2h0M372.8 130.9h0M373.5 130.3h0M374.2 130.3h0M374.8 130.6h0M375.5 130.3h0M376.1 130.3h0M376.8 130.8h0M377.5 130.4h0M378.1 129.2h0M378.8 129.2h0M379.4 130h0M380.1 129.7h0M380.8 128.8h0M381.4 128.3h0M382.1 128.2h0M382.7 128.2h0M383.4 128.7h0M384.1 128.8h0M384.7 128.8h0M385.4 128.3h0M386 128.4h0M386.7 128.5h0M387.4 128.8h0M388 129.3h0M388.7 129.8h0M389.3 130h0M390 129.9h0M390.7 129.8h0M391.3 129.6h0M392 129.4h0M392.6 129.7h0M393.3 129.5h0M394 129.9h0M394.6 129.9h0M395.3 129.9h0M395.9 129.3h0M396.6 129.1h0M397.3 129.4h0M397.9 129.4h0M398.6 129.9h0M399.2 129.8h0M399.9 129.1h0M400.6 128.4h0M401.2 128.2h0M401.9 128.8h0M402.5 129.6h0M403.2 130.6h0M403.9 130.3h0M404.5 129.7h0M405.2 130.2h0M405.8 131.2h0M406.5 131.4h0M407.2 131.4h0M407.8 132.5h0M408.5 133.3h0M409.1 133.3h0M409.8 133h0M410.5 133.1h0M411.1 133.2h0M411.8 133h0M412.4 133h0M413.1 133.3h0M413.8 133.7h0M414.4 134h0M415.1 135.3h0M415.7 135.4h0M416.4 135.2h0M417.1 134.7h0M417.7 135.2h0M418.4 135.7h0M419 135.8h0M419.7 135.4h0M420.4 134.7h0M421 134.6h0M421.7 135.2h0M422.3 136h0M423 136.1h0M423.7 135.9h0M424.3 136.1h0M425 136.8h0M425.6 136.9h0M426.3 136.8h0M427 136.2h0M427.6 135.9h0M428.3 136.6h0M428.9 136.7h0M429.6 136.6h0M430.3 136.3h0M430.9 136.9h0M431.6 136.6h0M432.2 136.4h0M432.9 136.6h0M433.6 136.7h0M434.2 136.1h0M434.9 135.8h0M435.5 135.7h0M436.2 136h0M436.9 136.1h0M437.5 136.6h0M438.2 137.1h0M438.8 136.8h0M439.5 136.8h0M440.2 136.9h0M440.8 137.4h0M441.5 137.6h0M442.1 137.1h0M442.8 136.5h0M443.5 136.3h0M444.1 136h0M444.8 135.9h0M445.4 135.6h0M446.1 135.8h0M446.8 135.2h0M447.4 134.9h0M448.1 135h0M448.7 135.9h0M449.4 136.3h0" stroke="#ff2aee" stroke-width="2.8" stroke-linecap="round" fill="none"/>
<rect x="251.4" y="2.6" width="198.3" height="159.4" fill="none" stroke="#111" stroke-width="1.45"/>
<path d="M251.4 162v3.1M277.8 162v3.1M304.2 162v3.1M330.6 162v3.1M357 162v3.1M383.4 162v3.1M409.8 162v3.1M436.2 162v3.1" stroke="#111" stroke-width="1.3" fill="none"/>
<path d="M264.6 162v2M291 162v2M317.4 162v2M343.8 162v2M370.2 162v2M396.6 162v2M423 162v2M449.4 162v2" stroke="#111" stroke-width="1.3" fill="none"/>
<text x="251.4" y="178.6" font-size="13.6" text-anchor="middle" fill="#111" stroke="#111" stroke-width="0.3">14</text>
<text x="277.8" y="178.6" font-size="13.6" text-anchor="middle" fill="#111" stroke="#111" stroke-width="0.3">16</text>
<text x="304.2" y="178.6" font-size="13.6" text-anchor="middle" fill="#111" stroke="#111" stroke-width="0.3">18</text>
<text x="330.6" y="178.6" font-size="13.6" text-anchor="middle" fill="#111" stroke="#111" stroke-width="0.3">20</text>
<text x="357" y="178.6" font-size="13.6" text-anchor="middle" fill="#111" stroke="#111" stroke-width="0.3">22</text>
<text x="383.4" y="178.6" font-size="13.6" text-anchor="middle" fill="#111" stroke="#111" stroke-width="0.3">24</text>
<text x="409.8" y="178.6" font-size="13.6" text-anchor="middle" fill="#111" stroke="#111" stroke-width="0.3">26</text>
<text x="436.2" y="178.6" font-size="13.6" text-anchor="middle" fill="#111" stroke="#111" stroke-width="0.3">28</text>
<text x="350.3" y="194.2" font-size="15.2" text-anchor="middle" fill="#111" stroke="#111" stroke-width="0.3">Binding Energy (eV)</text>
<text transform="translate(242.7 82) rotate(-90)" font-size="15.2" text-anchor="middle" fill="#111" stroke="#111" stroke-width="0.3">Counts (a.u.)</text>
<text x="349.9" y="40" font-size="16.3" text-anchor="start" fill="#111" stroke="#111" stroke-width="0.3">Ga 3d</text>
<text x="232.4" y="24.3" font-size="26.2" text-anchor="start" fill="#111" stroke="#111" stroke-width="0.05">b</text>
</g>
<g id="panel-c">
<polyline points="478.5,141.6 479,140.7 479.5,140.6 480,140.1 480.5,141.3 481,140.7 481.5,141.6 482,142.7 482.5,141.1 483,139.8 483.5,140.4 484,139.9 484.5,140.2 484.9,142.6 485.4,141.6 485.9,140 486.4,142.1 486.9,142.7 487.4,141.2 487.9,140.9 488.4,141.3 488.9,141.9 489.4,142.3 489.9,142.9 490.4,142.9 490.9,142.9 491.4,143.2 491.8,142.5 492.3,140.4 492.8,141.8 493.3,142.3 493.8,141.6 494.3,142.9 494.8,141.7 495.3,141.2 495.8,143.5 496.3,142.8 496.8,142.4 497.3,143.1 497.8,143.2 498.3,142.5 498.7,139.7 499.2,141.5 499.7,141.7 500.2,141.2 500.7,142.3 501.2,143.3 501.7,141.6 502.2,141 502.7,143.9 503.2,141.5 503.7,140.8 504.2,142.1 504.7,142.2 505.2,141.1 505.7,142.4 506.1,141.2 506.6,140.7 507.1,141.7 507.6,142.2 508.1,140.8 508.6,141.6 509.1,141.2 509.6,143.8 510.1,140.5 510.6,142.3 511.1,140.9 511.6,140.8 512.1,141.4 512.6,141.5 513,141.7 513.5,140.8 514,139.8 514.5,139.8 515,140.5 515.5,140.4 516,140.9 516.5,139.9 517,140.1 517.5,140.1 518,138.7 518.5,137.2 519,137 519.5,136.4 519.9,137.4 520.4,135.4 520.9,135.6 521.4,134.2 521.9,133.5 522.4,131.9 522.9,130.1 523.4,128.7 523.9,127.5 524.4,126.1 524.9,124.5 525.4,123.2 525.9,122.2 526.4,119.5 526.9,118.4 527.3,116.2 527.8,114.4 528.3,112.4 528.8,109.8 529.3,107.7 529.8,104.7 530.3,103 530.8,100.2 531.3,98.3 531.8,96.1 532.3,93.2 532.8,91.7 533.3,89.9 533.8,88.3 534.2,85.9 534.7,83.9 535.2,81.5 535.7,80.5 536.2,78.7 536.7,76.4 537.2,74.7 537.7,72.6 538.2,71.6 538.7,70.1 539.2,67.4 539.7,65.2 540.2,62.1 540.7,58 541.1,54 541.6,49.1 542.1,44.3 542.6,40.3 543.1,37.3 543.6,34.3 544.1,31.7 544.6,28.8 545.1,25.9 545.6,23.6 546.1,21.2 546.6,19.3 547.1,18.9 547.6,21.2 548,23.1 548.5,25.9 549,29 549.5,32.8 550,36.7 550.5,41.5 551,45.9 551.5,50.9 552,55.8 552.5,60.2 553,64.8 553.5,69.7 554,74 554.5,78.6 555,83.3 555.4,88.2 555.9,92.7 556.4,96.8 556.9,100.8 557.4,104.8 557.9,108.3 558.4,111.3 558.9,114.7 559.4,118 559.9,120.7 560.4,123.6 560.9,125.6 561.4,126.6 561.9,127 562.3,128.7 562.8,129.9 563.3,131 563.8,129.1 564.3,132.7 564.8,130.5 565.3,132.3 565.8,133 566.3,133.3 566.8,133.3 567.3,133 567.8,134.6 568.3,134.2 568.8,133.3 569.2,137.4 569.7,136.2 570.2,137.3 570.7,135.6 571.2,137.6 571.7,138 572.2,138.2 572.7,137.1 573.2,136.2 573.7,137.2 574.2,135.3 574.7,135.8 575.2,137.6 575.7,136.5 576.2,137.4 576.6,137.4 577.1,139.4 577.6,138.8 578.1,137.5 578.6,138.8 579.1,136.8 579.6,137.3 580.1,138.5 580.6,136.4 581.1,137.3 581.6,136.3 582.1,137.6 582.6,139.1 583.1,136.7 583.5,137.6 584,136.5 584.5,136.2 585,136.1 585.5,138.6 586,139.4 586.5,137.5 587,136.4 587.5,137.6 588,136.6 588.5,137.6 589,137.1 589.5,137 590,137.3 590.4,136.1 590.9,136.2 591.4,134.9 591.9,136.1 592.4,135.1 592.9,136.3 593.4,135.5 593.9,136.4 594.4,136.7 594.9,134.9 595.4,135.4 595.9,135.2 596.4,136.8 596.9,137.7 597.3,136.8 597.8,135.6 598.3,137.3 598.8,134.4 599.3,137.2 599.8,135.1 600.3,133.1 600.8,138.2 601.3,137.1 601.8,134.6 602.3,135.7 602.8,135.3 603.3,135.6 603.8,134 604.3,134.7 604.7,135.8 605.2,135.5 605.7,136.4 606.2,135.3 606.7,137.4 607.2,134.4 607.7,135.3 608.2,133.2 608.7,133.8 609.2,136.2 609.7,134 610.2,135.4 610.7,134.8 611.2,133.8 611.6,134.4 612.1,134.2 612.6,134.2 613.1,135.3 613.6,135.2 614.1,134 614.6,133.6 615.1,134.7 615.6,134.3 616.1,135.3 616.6,136.8 617.1,135.1 617.6,134.2 618.1,134 618.5,133.3 619,133.2 619.5,133.1 620,133.6 620.5,133.5 621,134.5 621.5,133.4 622,133.5 622.5,132.5 623,135.1 623.5,134 624,135.1 624.5,134.1 625,134.7 625.5,133 625.9,133.8 626.4,135.5 626.9,131.9 627.4,134 627.9,134.4 628.4,133.1 628.9,133.4 629.4,133.7 629.9,131.9 630.4,132.8 630.9,131.5 631.4,131.6 631.9,131.6 632.4,131.9 632.8,132.1 633.3,132.3 633.8,130.5 634.3,133.6 634.8,132.8 635.3,132.3 635.8,131.2 636.3,131.4 636.8,131.9 637.3,131.7 637.8,129.7 638.3,131.9 638.8,133.8 639.3,129.3 639.7,131.9 640.2,131.2 640.7,130.7 641.2,132 641.7,129.6 642.2,130.8 642.7,131.9 643.2,130.3 643.7,130 644.2,130.4 644.7,129.8 645.2,131.7 645.7,129.3 646.2,130.9 646.6,128.8 647.1,130.5 647.6,129.7 648.1,127.3 648.6,129.7 649.1,128.6 649.6,129.1 650.1,131 650.6,128.4 651.1,128.4 651.6,130.7 652.1,129.3 652.6,130.6 653.1,129.4 653.6,128.2 654,128.9 654.5,130 655,129.7 655.5,128.7 656,128.7 656.5,128.5 657,128 657.5,130.3 658,128.4 658.5,127.2 659,127.8 659.5,128.9 660,128.7 660.5,127.9 660.9,127.3 661.4,127.9 661.9,126.2 662.4,126.5 662.9,128.4 663.4,127.1 663.9,127.9 664.4,128.6 664.9,128 665.4,127.3 665.9,129.2 666.4,127.8 666.9,126.7 667.4,127.7 667.8,127.3 668.3,126 668.8,126.8 669.3,126.5 669.8,124.8 670.3,126.4 670.8,126.2 671.3,126" fill="none" stroke="#1712f2" stroke-width="1.0" stroke-linejoin="round"/>
<path d="M478.5 141.6h0M479 140.7h0M479.5 140.6h0M480 140.1h0M480.5 141.3h0M481 140.7h0M481.5 141.6h0M482 142.7h0M482.5 141.1h0M483 139.8h0M483.5 140.4h0M484 139.9h0M484.5 140.2h0M484.9 142.6h0M485.4 141.6h0M485.9 140h0M486.4 142.1h0M486.9 142.7h0M487.4 141.2h0M487.9 140.9h0M488.4 141.3h0M488.9 141.9h0M489.4 142.3h0M489.9 142.9h0M490.4 142.9h0M490.9 142.9h0M491.4 143.2h0M491.8 142.5h0M492.3 140.4h0M492.8 141.8h0M493.3 142.3h0M493.8 141.6h0M494.3 142.9h0M494.8 141.7h0M495.3 141.2h0M495.8 143.5h0M496.3 142.8h0M496.8 142.4h0M497.3 143.1h0M497.8 143.2h0M498.3 142.5h0M498.7 139.7h0M499.2 141.5h0M499.7 141.7h0M500.2 141.2h0M500.7 142.3h0M501.2 143.3h0M501.7 141.6h0M502.2 141h0M502.7 143.9h0M503.2 141.5h0M503.7 140.8h0M504.2 142.1h0M504.7 142.2h0M505.2 141.1h0M505.7 142.4h0M506.1 141.2h0M506.6 140.7h0M507.1 141.7h0M507.6 142.2h0M508.1 140.8h0M508.6 141.6h0M509.1 141.2h0M509.6 143.8h0M510.1 140.5h0M510.6 142.3h0M511.1 140.9h0M511.6 140.8h0M512.1 141.4h0M512.6 141.5h0M513 141.7h0M513.5 140.8h0M514 139.8h0M514.5 139.8h0M515 140.5h0M515.5 140.4h0M516 140.9h0M516.5 139.9h0M517 140.1h0M517.5 140.1h0M518 138.7h0M518.5 137.2h0M519 137h0M519.5 136.4h0M519.9 137.4h0M520.4 135.4h0M520.9 135.6h0M521.4 134.2h0M521.9 133.5h0M522.4 131.9h0M522.9 130.1h0M523.4 128.7h0M523.9 127.5h0M524.4 126.1h0M524.9 124.5h0M525.4 123.2h0M525.9 122.2h0M526.4 119.5h0M526.9 118.4h0M527.3 116.2h0M527.8 114.4h0M528.3 112.4h0M528.8 109.8h0M529.3 107.7h0M529.8 104.7h0M530.3 103h0M530.8 100.2h0M531.3 98.3h0M531.8 96.1h0M532.3 93.2h0M532.8 91.7h0M533.3 89.9h0M533.8 88.3h0M534.2 85.9h0M534.7 83.9h0M535.2 81.5h0M535.7 80.5h0M536.2 78.7h0M536.7 76.4h0M537.2 74.7h0M537.7 72.6h0M538.2 71.6h0M538.7 70.1h0M539.2 67.4h0M539.7 65.2h0M540.2 62.1h0M540.7 58h0M541.1 54h0M541.6 49.1h0M542.1 44.3h0M542.6 40.3h0M543.1 37.3h0M543.6 34.3h0M544.1 31.7h0M544.6 28.8h0M545.1 25.9h0M545.6 23.6h0M546.1 21.2h0M546.6 19.3h0M547.1 18.9h0M547.6 21.2h0M548 23.1h0M548.5 25.9h0M549 29h0M549.5 32.8h0M550 36.7h0M550.5 41.5h0M551 45.9h0M551.5 50.9h0M552 55.8h0M552.5 60.2h0M553 64.8h0M553.5 69.7h0M554 74h0M554.5 78.6h0M555 83.3h0M555.4 88.2h0M555.9 92.7h0M556.4 96.8h0M556.9 100.8h0M557.4 104.8h0M557.9 108.3h0M558.4 111.3h0M558.9 114.7h0M559.4 118h0M559.9 120.7h0M560.4 123.6h0M560.9 125.6h0M561.4 126.6h0M561.9 127h0M562.3 128.7h0M562.8 129.9h0M563.3 131h0M563.8 129.1h0M564.3 132.7h0M564.8 130.5h0M565.3 132.3h0M565.8 133h0M566.3 133.3h0M566.8 133.3h0M567.3 133h0M567.8 134.6h0M568.3 134.2h0M568.8 133.3h0M569.2 137.4h0M569.7 136.2h0M570.2 137.3h0M570.7 135.6h0M571.2 137.6h0M571.7 138h0M572.2 138.2h0M572.7 137.1h0M573.2 136.2h0M573.7 137.2h0M574.2 135.3h0M574.7 135.8h0M575.2 137.6h0M575.7 136.5h0M576.2 137.4h0M576.6 137.4h0M577.1 139.4h0M577.6 138.8h0M578.1 137.5h0M578.6 138.8h0M579.1 136.8h0M579.6 137.3h0M580.1 138.5h0M580.6 136.4h0M581.1 137.3h0M581.6 136.3h0M582.1 137.6h0M582.6 139.1h0M583.1 136.7h0M583.5 137.6h0M584 136.5h0M584.5 136.2h0M585 136.1h0M585.5 138.6h0M586 139.4h0M586.5 137.5h0M587 136.4h0M587.5 137.6h0M588 136.6h0M588.5 137.6h0M589 137.1h0M589.5 137h0M590 137.3h0M590.4 136.1h0M590.9 136.2h0M591.4 134.9h0M591.9 136.1h0M592.4 135.1h0M592.9 136.3h0M593.4 135.5h0M593.9 136.4h0M594.4 136.7h0M594.9 134.9h0M595.4 135.4h0M595.9 135.2h0M596.4 136.8h0M596.9 137.7h0M597.3 136.8h0M597.8 135.6h0M598.3 137.3h0M598.8 134.4h0M599.3 137.2h0M599.8 135.1h0M600.3 133.1h0M600.8 138.2h0M601.3 137.1h0M601.8 134.6h0M602.3 135.7h0M602.8 135.3h0M603.3 135.6h0M603.8 134h0M604.3 134.7h0M604.7 135.8h0M605.2 135.5h0M605.7 136.4h0M606.2 135.3h0M606.7 137.4h0M607.2 134.4h0M607.7 135.3h0M608.2 133.2h0M608.7 133.8h0M609.2 136.2h0M609.7 134h0M610.2 135.4h0M610.7 134.8h0M611.2 133.8h0M611.6 134.4h0M612.1 134.2h0M612.6 134.2h0M613.1 135.3h0M613.6 135.2h0M614.1 134h0M614.6 133.6h0M615.1 134.7h0M615.6 134.3h0M616.1 135.3h0M616.6 136.8h0M617.1 135.1h0M617.6 134.2h0M618.1 134h0M618.5 133.3h0M619 133.2h0M619.5 133.1h0M620 133.6h0M620.5 133.5h0M621 134.5h0M621.5 133.4h0M622 133.5h0M622.5 132.5h0M623 135.1h0M623.5 134h0M624 135.1h0M624.5 134.1h0M625 134.7h0M625.5 133h0M625.9 133.8h0M626.4 135.5h0M626.9 131.9h0M627.4 134h0M627.9 134.4h0M628.4 133.1h0M628.9 133.4h0M629.4 133.7h0M629.9 131.9h0M630.4 132.8h0M630.9 131.5h0M631.4 131.6h0M631.9 131.6h0M632.4 131.9h0M632.8 132.1h0M633.3 132.3h0M633.8 130.5h0M634.3 133.6h0M634.8 132.8h0M635.3 132.3h0M635.8 131.2h0M636.3 131.4h0M636.8 131.9h0M637.3 131.7h0M637.8 129.7h0M638.3 131.9h0M638.8 133.8h0M639.3 129.3h0M639.7 131.9h0M640.2 131.2h0M640.7 130.7h0M641.2 132h0M641.7 129.6h0M642.2 130.8h0M642.7 131.9h0M643.2 130.3h0M643.7 130h0M644.2 130.4h0M644.7 129.8h0M645.2 131.7h0M645.7 129.3h0M646.2 130.9h0M646.6 128.8h0M647.1 130.5h0M647.6 129.7h0M648.1 127.3h0M648.6 129.7h0M649.1 128.6h0M649.6 129.1h0M650.1 131h0M650.6 128.4h0M651.1 128.4h0M651.6 130.7h0M652.1 129.3h0M652.6 130.6h0M653.1 129.4h0M653.6 128.2h0M654 128.9h0M654.5 130h0M655 129.7h0M655.5 128.7h0M656 128.7h0M656.5 128.5h0M657 128h0M657.5 130.3h0M658 128.4h0M658.5 127.2h0M659 127.8h0M659.5 128.9h0M660 128.7h0M660.5 127.9h0M660.9 127.3h0M661.4 127.9h0M661.9 126.2h0M662.4 126.5h0M662.9 128.4h0M663.4 127.1h0M663.9 127.9h0M664.4 128.6h0M664.9 128h0M665.4 127.3h0M665.9 129.2h0M666.4 127.8h0M666.9 126.7h0M667.4 127.7h0M667.8 127.3h0M668.3 126h0M668.8 126.8h0M669.3 126.5h0M669.8 124.8h0M670.3 126.4h0M670.8 126.2h0M671.3 126h0" stroke="#1712f2" stroke-width="2.8" stroke-linecap="round" fill="none"/>
<rect x="474.1" y="2.6" width="197.2" height="158.6" fill="none" stroke="#111" stroke-width="1.45"/>
<path d="M474.1 161.2v3.1M523.4 161.2v3.1M572.7 161.2v3.1M622 161.2v3.1M671.3 161.2v3.1" stroke="#111" stroke-width="1.3" fill="none"/>
<path d="M498.8 161.2v2M548 161.2v2M597.4 161.2v2M646.6 161.2v2" stroke="#111" stroke-width="1.3" fill="none"/>
<text x="474.1" y="176.7" font-size="13.6" text-anchor="middle" fill="#111" stroke="#111" stroke-width="0.3">525</text>
<text x="523.4" y="176.7" font-size="13.6" text-anchor="middle" fill="#111" stroke="#111" stroke-width="0.3">530</text>
<text x="572.7" y="176.7" font-size="13.6" text-anchor="middle" fill="#111" stroke="#111" stroke-width="0.3">535</text>
<text x="622" y="176.7" font-size="13.6" text-anchor="middle" fill="#111" stroke="#111" stroke-width="0.3">540</text>
<text x="671.3" y="176.7" font-size="13.6" text-anchor="middle" fill="#111" stroke="#111" stroke-width="0.3">545</text>
<text x="572.9" y="192.2" font-size="15.2" text-anchor="middle" fill="#111" stroke="#111" stroke-width="0.3">Binding Energy (eV)</text>
<text transform="translate(465.2 82) rotate(-90)" font-size="15.2" text-anchor="middle" fill="#111" stroke="#111" stroke-width="0.3">Counts (a.u.)</text>
<text x="562.6" y="40" font-size="16" text-anchor="start" fill="#111" stroke="#111" stroke-width="0.3">O 1s</text>
<text x="455.9" y="24.3" font-size="26.2" text-anchor="start" fill="#111" stroke="#111" stroke-width="0.05">c</text>
</g>
<g id="panel-d-map">
<rect x="25" y="212.4" width="300" height="206" fill="#000"/>
<path d="M110.8 213.1h0M239.8 213.1h0M202.4 213.2h0M76.3 213.3h0M213.7 213.4h0M178.2 213.5h0M286.3 213.6h0M228.8 213.7h0M285.6 213.9h0M263 214h0M298.6 214.2h0M273.9 214.2h0M127.2 214.3h0M219.8 214.4h0M58.6 214.5h0M321.3 214.7h0M85.2 214.9h0M275.9 214.9h0M322.8 214.9h0M323 214.9h0M34.6 215h0M147.7 215h0M177.5 215.2h0M200 215.2h0M310.9 215.4h0M68.6 215.4h0M253.4 215.5h0M235.3 215.5h0M109.3 215.7h0M158.9 215.7h0M71.4 215.8h0M147.4 215.8h0M164 215.9h0M229.3 216h0M143.6 216h0M149.2 216h0M304.4 216h0M64.1 216.1h0M278.6 216.1h0M197.5 216.1h0M53.4 216.2h0M160.7 216.2h0M43.2 216.2h0M221.4 216.2h0M145 216.3h0M71.1 216.4h0M247.6 216.6h0M305.8 216.6h0M87.3 216.7h0M266 216.7h0M175.6 216.8h0M255.3 216.8h0M164.5 216.9h0M53.1 217h0M171.2 217.1h0M215.5 217.2h0M220.3 217.2h0M228.2 217.3h0M185.7 217.4h0M289.3 217.5h0M48.7 217.6h0M79.3 217.6h0M218.3 217.7h0M164.7 217.8h0M257.6 217.9h0M190.8 218h0M246.4 218h0M43.9 218.1h0M207.3 218.1h0M182.1 218.1h0M144.4 218.2h0M216.5 218.3h0M183.8 218.5h0M39.4 218.5h0M136.6 218.5h0M195.9 218.6h0M205.5 218.7h0M38.3 218.7h0M162.5 218.9h0M56.8 219.2h0M150.3 219.2h0M95.3 219.2h0M49.5 219.3h0M35.6 219.5h0M168.3 219.6h0M180.6 219.6h0M255.5 219.7h0M156 219.7h0M155.9 219.8h0M312.4 219.9h0M154.8 219.9h0M267.2 219.9h0M132.3 219.9h0M94.1 220.1h0M253.7 220.2h0M71.4 220.2h0M105 220.2h0M95.2 220.2h0M236.8 220.3h0M234.9 220.3h0M241.6 220.3h0M185.7 220.5h0M298.3 220.5h0M40.5 220.5h0M294.3 220.6h0M294.2 220.6h0M222.9 220.6h0M43.9 220.7h0M66.3 220.8h0M155.2 220.8h0M178.6 220.9h0M84.4 221h0M104.2 221h0M132.8 221.3h0M108.9 221.7h0M142.1 221.7h0M151.6 221.8h0M102.8 221.8h0M206 222h0M257 222.1h0M226.8 222.3h0M47.5 222.4h0M60.6 222.6h0M249.5 222.6h0M112.6 222.8h0M124.1 222.8h0M31.3 222.8h0M237.4 222.8h0M108.6 223.3h0M128.1 223.4h0M136.9 223.4h0M89.3 223.6h0M99.8 223.6h0M127.4 223.6h0M260.5 223.7h0M55.4 223.7h0M269.3 223.8h0M35.4 223.9h0M278.5 224h0M47.4 224.3h0M321.6 224.4h0M121.5 224.6h0M59.3 224.6h0M29.2 224.8h0M181.2 224.9h0M68.7 225.2h0M238.4 225.2h0M28.3 225.3h0M218.3 225.3h0M101.9 225.3h0M155.9 225.4h0M27.3 225.4h0M264.5 225.5h0M78.5 225.8h0M118.1 225.8h0M77.1 225.9h0M149.8 226h0M86.7 226.2h0M231.6 226.4h0M268.2 226.4h0M184.1 226.6h0M38.1 226.6h0M238 226.6h0M238.2 226.6h0M156.6 226.8h0M118.7 226.8h0M34.3 226.9h0M60.8 227.1h0M285.5 227.2h0M302.9 227.2h0M111.7 227.2h0M289 227.3h0M184.3 227.4h0M156 227.5h0M152.7 227.6h0M63.2 227.6h0M194.6 227.7h0M51.5 227.8h0M320.8 227.8h0M65.9 227.8h0M91 227.9h0M276.2 227.9h0M223.6 228.1h0M190.4 228.2h0M309.9 228.2h0M272 228.5h0M119.6 228.5h0M171.6 228.5h0M61.3 228.6h0M266 228.7h0M104.4 228.8h0M65.9 228.8h0M195.3 228.9h0M203 228.9h0M321.3 229h0M98.1 229h0M150.7 229.1h0M131 229.3h0M278 229.3h0M192.8 229.5h0M114.6 229.5h0M299.4 229.5h0M62.4 229.6h0M38.9 229.6h0M227.4 229.9h0M313.4 230h0M323.9 230h0M126 230.1h0M221.1 230.1h0M296.9 230.4h0M74.3 230.4h0M318.2 230.5h0M131.8 230.6h0M106.7 230.7h0M203.3 230.7h0M248.8 230.8h0M259.2 230.9h0M238.4 230.9h0M62.7 230.9h0M233.9 231h0M81.5 231.1h0M56.1 231.1h0M206.5 231.1h0M235.7 231.1h0M232.6 231.3h0M131.6 231.4h0M34.9 231.5h0M98.1 231.5h0M276.2 231.5h0M44.7 231.6h0M230.7 231.7h0M45.3 231.8h0M231.2 231.9h0M247.2 231.9h0M96.3 232h0M161.4 232.4h0M198.3 232.4h0M182.5 232.5h0M193.2 232.6h0M215.1 232.6h0M297.5 232.6h0M44.3 232.6h0M111.7 232.8h0M248.6 232.8h0M110.9 232.8h0M286.1 232.8h0M308.3 232.8h0M39.7 233.1h0M274.4 233.1h0M225.9 233.1h0M72.1 233.2h0M297.2 233.3h0M158 233.6h0M322.2 233.7h0M36.9 233.8h0M271 233.9h0M183.7 234.1h0M150.4 234.2h0M278.1 234.3h0M268.7 234.3h0M302.7 234.3h0M233.9 234.4h0M111.5 234.4h0M77.9 234.4h0M203.7 234.5h0M122.4 234.5h0M212.1 234.5h0M193 234.7h0M154.1 234.7h0M89.2 234.9h0M190.9 235h0M116.9 235.2h0M111.7 235.2h0M192.4 235.2h0M227.9 235.3h0M203.6 235.3h0M145.4 235.5h0M137.1 235.7h0M283.1 235.7h0M157.4 235.8h0M264.3 235.9h0M141.8 235.9h0M219.6 235.9h0M128.2 236h0M224.1 236h0M186.2 236.1h0M214 236.2h0M143.8 236.2h0M218.8 236.2h0M56.8 236.2h0M307.2 236.4h0M134.4 236.5h0M253.9 236.7h0M120.7 236.7h0M196.8 236.8h0M66.3 236.9h0M88 236.9h0M232.6 237h0M135.9 237h0M159.1 237.1h0M260.5 237.1h0M159.5 237.1h0M177 237.2h0M72.5 237.2h0M67.5 237.4h0M286 237.4h0M41.9 237.5h0M69 237.5h0M98.1 237.5h0M243.6 237.6h0M232 237.6h0M306.7 237.6h0M203 237.7h0M235.1 237.7h0M236.3 237.7h0M207.3 237.8h0M265.5 237.9h0M150.1 238.1h0M86.4 238.2h0M115.7 238.3h0M305.1 238.3h0M274.2 238.4h0M31.1 238.4h0M197.5 238.4h0M308.3 238.5h0M100.1 238.6h0M160.4 238.6h0M161 238.9h0M298.9 239.1h0M105.1 239.2h0M68.7 239.3h0M290.5 239.4h0M44 239.4h0M146.1 239.5h0M260 239.6h0M200.8 239.6h0M146.8 239.7h0M216.3 239.7h0M39.3 239.7h0M107.2 239.7h0M121.5 239.8h0M128 240h0M229.7 240h0M141.4 240h0M277 240.1h0M285 240.1h0M92.4 240.3h0M106.1 240.4h0M68.6 240.4h0M263.7 240.4h0M81.8 240.5h0M237.2 240.5h0M165.7 240.5h0M94 240.5h0M29.3 240.7h0M255.3 240.7h0M101.1 240.7h0M101.4 240.8h0M85 241h0M259.7 241h0M323.2 241.2h0M186.3 241.2h0M235 241.3h0M255.6 241.3h0M211.4 241.5h0M168.7 241.7h0M50 241.7h0M203.1 241.7h0M58.6 241.7h0M119.5 241.8h0M92.4 242h0M306.9 242.1h0M294.9 242.1h0M215.3 242.1h0M91.6 242.2h0M231 242.4h0M295.1 242.4h0M168.1 243h0M222.1 243.1h0M102 243.1h0M204.8 243.2h0M271.6 243.3h0M198.4 243.5h0M160.3 243.6h0M47.8 243.7h0M306.7 243.9h0M25.9 244h0M41.1 244h0M78.6 244.1h0M50.6 244.2h0M260.8 244.2h0M295.5 244.3h0M277.7 244.4h0M256.9 244.4h0M84.6 244.5h0M141 244.6h0M156.4 244.8h0M298 244.9h0M69.9 244.9h0M284.1 244.9h0M78.6 245h0M258.5 245h0M205.2 245.1h0M193.6 245.3h0M314.6 245.3h0M63.4 245.4h0M286.8 245.4h0M305.6 245.4h0M177.3 245.4h0M67.6 245.4h0M180.5 245.5h0M125.1 245.5h0M281.4 245.6h0M264.5 245.7h0M73.3 245.7h0M316.8 245.8h0M122.6 245.9h0M162 246h0M30.4 246.2h0M79.4 246.3h0M41.7 246.4h0M238.9 246.6h0M168.2 246.7h0M194.6 246.8h0M35.4 246.8h0M49.4 246.8h0M60.8 246.9h0M128.7 247h0M89.2 247h0M288.8 247h0M115.3 247.1h0M256.1 247.2h0M320.2 247.3h0M284.4 247.3h0M48.1 247.3h0M256.6 247.3h0M257.4 247.3h0M29.1 247.4h0M68.9 247.7h0M187.6 247.7h0M298.9 247.8h0M57.9 247.8h0M39.3 247.9h0M224.1 247.9h0M106.6 247.9h0M245.2 247.9h0M73.3 248h0M124.8 248h0M204.3 248.3h0M251.6 248.4h0M185.5 248.4h0M217.5 248.5h0M147.6 248.5h0M112 248.8h0M250.5 248.8h0M55.1 248.9h0M45.5 249h0M37.2 249.2h0M141.4 249.2h0M317.6 249.3h0M303.2 249.4h0M215.7 249.5h0M49.2 249.5h0M298 249.6h0M310.5 249.6h0M118.2 249.8h0M112.4 249.9h0M277.4 249.9h0M303.1 250h0M159.4 250h0M61.3 250h0M160.6 250.1h0M69.5 250.2h0M137.8 250.2h0M31.5 250.3h0M104 250.4h0M323.2 250.4h0M202.6 250.4h0M93.3 250.6h0M43.1 250.7h0M273.3 250.7h0M228.8 250.8h0M313.4 250.9h0M318.1 250.9h0M260.5 251.1h0M68.5 251.1h0M212.3 251.2h0M307.7 251.6h0M125.9 251.7h0M166.5 251.9h0M254.7 251.9h0M69 252h0M130.3 252h0M91.2 252h0M226.6 252.1h0M196.7 252.1h0M309.2 252.2h0M161.1 252.3h0M116.1 252.4h0M252.8 252.4h0M307.1 252.5h0M35 252.5h0M145.4 252.5h0M247.2 252.6h0M62.7 252.6h0M299.9 252.7h0M296.6 252.8h0M63.7 252.8h0M75.6 253.1h0M138.3 253.2h0M290.5 253.2h0M191 253.3h0M114.2 253.3h0M75.2 253.5h0M163 253.5h0M267.4 253.6h0M313.4 253.6h0M66.8 253.7h0M254.1 253.7h0M228.5 253.7h0M46.8 253.8h0M62.1 253.9h0M121.4 253.9h0M147.2 254h0M224.2 254h0M142.3 254.1h0M155.6 254.3h0M164.3 254.4h0M238.9 254.6h0M252.7 254.6h0M250.6 254.7h0M167.4 254.8h0M254.8 254.9h0M101 255h0M193.7 255.1h0M124.4 255.1h0M117.7 255.1h0M321 255.2h0M134.6 255.2h0M169.3 255.3h0M203.8 255.5h0M240.7 255.5h0M259.1 255.5h0M271.6 255.6h0M43.7 255.7h0M94.4 255.8h0M152.7 255.9h0M36.1 256h0M34.7 256.1h0M53.4 256.1h0M228.3 256.1h0M179.7 256.2h0M89.9 256.2h0M48.8 256.3h0M289.2 256.5h0M135.3 256.5h0M62.5 256.6h0M301.5 256.8h0M63.1 256.8h0M175.8 257h0M89.5 257h0M305.9 257.2h0M277.8 257.2h0M247.6 257.6h0M69.2 257.6h0M172.2 257.6h0M229.1 257.6h0M61.8 257.7h0M210.4 257.9h0M245.6 258h0M308 258h0M291.6 258.1h0M162.2 258.2h0M230.4 258.3h0M214 258.3h0M233.5 258.4h0M223.8 258.5h0M152.8 258.5h0M287.1 258.5h0M295.2 258.5h0M195.7 258.6h0M230.6 258.6h0M253.5 258.6h0M292.4 258.6h0M260.8 258.8h0M61.6 259.2h0M125.4 259.2h0M213.6 259.3h0M173.5 259.3h0M163.9 259.8h0M250.6 259.8h0M120.4 259.9h0M97.8 259.9h0M31.3 259.9h0M267.8 260h0M78.5 260h0M39.8 260.1h0M262.5 260.1h0M186.3 260.1h0M156.1 260.1h0M70.7 260.1h0M300.7 260.2h0M269.6 260.2h0M86.6 260.3h0M198.1 260.4h0M154.8 260.5h0M322.8 260.5h0M131.7 260.5h0M295.1 260.6h0M264.2 260.9h0M206.9 261h0M37.6 261.1h0M246.4 261.2h0M67.4 261.3h0M172.6 261.3h0M242.5 261.3h0M112.1 261.3h0M102.8 261.4h0M308.6 261.5h0M133.2 261.5h0M196.2 261.6h0M226.2 261.7h0M263.4 261.8h0M46.9 261.9h0M63.5 261.9h0M51.4 262h0M321.3 262.2h0M288.6 262.2h0M155.1 262.3h0M305.2 262.4h0M316.8 262.4h0M191 262.4h0M101.4 262.6h0M284.2 262.7h0M220.7 262.7h0M32 262.8h0M294.4 262.9h0M169.9 262.9h0M253 263h0M169.3 263.1h0M222.9 263.1h0M143.9 263.2h0M145 263.3h0M193.4 263.4h0M318.6 263.5h0M152.2 263.6h0M35.5 263.6h0M278.5 264.1h0M317.6 264.1h0M182.5 264.1h0M104.7 264.2h0M70.8 264.3h0M120.8 264.3h0M50.7 264.3h0M40.4 264.4h0M112.1 264.5h0M91.6 264.7h0M266.6 264.8h0M251.8 265h0M40.9 265.1h0M218.1 265.1h0M193.5 265.2h0M65.5 265.2h0M264.2 265.5h0M150.7 265.5h0M184.5 265.5h0M195.5 265.5h0M110.5 265.5h0M78.9 265.6h0M166.5 265.6h0M90.5 265.6h0M291.1 265.6h0M198.8 265.6h0M77.9 265.7h0M296.6 265.8h0M183 265.8h0M200.8 265.8h0M320.1 265.8h0M180.2 265.9h0M59.9 266h0M278.3 266.1h0M214.3 266.1h0M193 266.2h0M319 266.3h0M263.3 266.4h0M33.2 266.5h0M274.6 266.6h0M196.9 266.6h0M165.5 266.7h0M187 266.9h0M256.1 267.1h0M228 267.1h0M103.3 267.1h0M147.1 267.2h0M253.8 267.3h0M199.5 267.3h0M167.9 267.3h0M293.3 267.4h0M324.1 267.5h0M178 267.6h0M44.8 267.6h0M265.2 267.7h0M246.8 267.9h0M83.7 268h0M61.9 268h0M229.7 268h0M242.8 268h0M142.3 268.1h0M102.6 268.1h0M275.7 268.1h0M293.1 268.2h0M28.4 268.2h0M100.7 268.3h0M248.8 268.3h0M257.6 268.6h0M102.3 268.6h0M42.8 268.7h0M243.1 268.7h0M126.5 268.8h0M147.2 268.8h0M230.2 268.9h0M149 269.2h0M171.5 269.5h0M99.2 269.5h0M111.4 269.5h0M198.4 269.6h0M81.1 269.7h0M319.1 269.8h0M69.8 270h0M245.4 270h0M90.8 270.2h0M220.6 270.2h0M280 270.4h0M109.9 270.4h0M131.6 270.4h0M140.1 270.5h0M60.9 270.5h0M277.1 270.6h0M49.6 270.7h0M122.7 270.7h0M307 270.8h0M172.7 270.8h0M52.5 270.8h0M81 270.8h0M252.9 270.8h0M226 270.8h0M305.9 270.9h0M90.7 271h0M247.4 271h0M94.2 271.1h0M127.6 271.1h0M218.7 271.2h0M38.4 271.2h0M313.6 271.3h0M202 271.3h0M170.1 271.3h0M261 271.4h0M208.4 271.4h0M196 271.5h0M114.8 271.5h0M167.3 271.6h0M286.2 271.6h0M211.8 271.6h0M296 271.6h0M72.5 271.7h0M316.5 271.8h0M279.3 271.8h0M303.2 271.8h0M162.1 271.8h0M197.4 271.8h0M45.8 272h0M137.3 272h0M52.9 272.1h0M73.4 272.1h0M221.2 272.1h0M125.1 272.2h0M147.9 272.2h0M84.1 272.2h0M139.2 272.2h0M169.8 272.3h0M107.7 272.3h0M50.1 272.4h0M95.2 272.6h0M50 272.6h0M311 272.7h0M234 272.7h0M148.7 272.8h0M310.3 272.8h0M200.4 272.9h0M305.1 272.9h0M40 272.9h0M90.3 273.1h0M271.9 273.1h0M229.4 273.2h0M92.7 273.2h0M48.4 273.3h0M255.7 273.4h0M201.9 273.4h0M247.6 273.4h0M156.9 273.5h0M208.9 273.5h0M314.2 273.5h0M61.9 273.6h0M195.3 273.7h0M48.3 273.8h0M167.6 273.9h0M95.4 274h0M125.1 274.1h0M308.5 274.1h0M323.1 274.2h0M280 274.4h0M250 274.7h0M125.3 274.8h0M52 274.8h0M307.2 274.8h0M122.7 274.9h0M315.1 274.9h0M143.4 274.9h0M271.2 275h0M106.6 275.1h0M300.1 275.4h0M275.6 275.5h0M26.4 275.6h0M75.8 275.6h0M102.4 275.7h0M94 275.8h0M254 276h0M47.5 276h0M245.5 276.1h0M199.5 276.1h0M159.8 276.2h0M86.1 276.2h0M321 276.3h0M238.1 276.3h0M102.6 276.3h0M93.9 276.3h0M301.5 276.3h0M134 276.4h0M96.9 276.4h0M63.7 276.4h0M60.1 276.5h0M193.6 276.6h0M120.5 276.6h0M113.8 276.7h0M45.9 276.7h0M134.7 276.7h0M260.6 276.7h0M290.3 276.7h0M280.7 276.7h0M143.5 276.7h0M105.1 276.8h0M27.5 277h0M311.7 277.2h0M213 277.3h0M73.9 277.3h0M74.5 277.3h0M152.5 277.6h0M217.3 277.8h0M186.5 278h0M63.8 278.1h0M293.2 278.1h0M179.8 278.2h0M314.7 278.2h0M51.9 278.2h0M203.8 278.5h0M189.7 278.6h0M39.8 278.8h0M91.8 279h0M162.5 279.2h0M209.6 279.2h0M136.9 279.3h0M253.6 279.3h0M60.5 279.4h0M202.6 279.4h0M173.9 279.5h0M70.9 279.5h0M272.7 279.7h0M84.7 279.8h0M76.7 279.9h0M305.2 280h0M213.9 280.2h0M144.9 280.2h0M166.1 280.3h0M276.3 280.4h0M68.2 280.5h0M81.1 280.6h0M234.3 280.7h0M300.9 280.7h0M123 280.7h0M278.7 280.7h0M126.3 280.8h0M70.5 280.8h0M323.9 280.9h0M312.9 280.9h0M111.7 281.1h0M300.9 281.1h0M212.5 281.2h0M225.7 281.2h0M288.9 281.3h0M84.7 281.5h0M158 281.5h0M97.5 281.6h0M274.7 281.6h0M132 281.7h0M128.5 281.7h0M318.6 281.8h0M43 282h0M289.7 282.1h0M49.9 282.1h0M94.6 282.3h0M221.1 282.3h0M73.1 282.4h0M184.6 282.5h0M234.8 282.6h0M48.5 282.6h0M302.4 282.7h0M73.5 282.8h0M201.6 282.9h0M128.9 282.9h0M196 282.9h0M77.8 283.5h0M282 283.5h0M106.6 283.6h0M45.6 283.6h0M41.2 283.6h0M96.7 283.7h0M179.5 283.7h0M135.5 283.7h0M221.7 283.7h0M258.6 283.9h0M308.9 284h0M266 284.1h0M128.4 284.2h0M136.5 284.2h0M142.3 284.5h0M267.4 284.6h0M170.1 284.6h0M194.8 284.7h0M173.8 284.8h0M41 284.8h0M248 285h0M114.9 285h0M211.7 285h0M99.1 285.1h0M53.6 285.3h0M139.2 285.5h0M209 285.5h0M113.7 285.6h0M31.4 285.6h0M241.8 285.6h0M159.5 285.8h0M136.1 285.9h0M139.9 286h0M73.2 286h0M229.8 286h0M136.9 286.1h0M52.2 286.2h0M199.6 286.5h0M193 286.6h0M147.1 286.6h0M235.5 286.6h0M52.7 286.8h0M154.2 286.9h0M73.4 286.9h0M230.7 287h0M28.1 287h0M167.9 287.2h0M316.2 287.4h0M161.5 287.4h0M85.9 287.5h0M203.6 287.5h0M233.2 287.6h0M114.8 287.6h0M290.9 287.7h0M35.6 287.7h0M181.4 287.9h0M85 288h0M117.7 288h0M215.2 288h0M291.4 288.1h0M166 288.1h0M214.9 288.2h0M48.5 288.2h0M280.6 288.2h0M70.9 288.4h0M65.1 288.4h0M259.5 288.5h0M231.8 288.6h0M286.9 288.7h0M150.9 288.8h0M301.2 288.8h0M197.8 288.9h0M231.3 289.2h0M276.5 289.4h0M268.4 289.4h0M197.3 289.5h0M284.4 289.5h0M322.7 289.7h0M284.5 289.7h0M166.6 289.8h0M197.4 289.8h0M211.6 289.9h0M58.5 289.9h0M101 289.9h0M293.2 289.9h0M229.4 290h0M247.8 290.1h0M113.2 290.2h0M159.8 290.2h0M179.7 290.3h0M195.2 290.4h0M27.1 290.4h0M189.9 290.7h0M85.6 290.7h0M280.2 290.7h0M311.6 290.7h0M32.7 290.7h0M271.2 290.8h0M89.1 290.9h0M147.1 290.9h0M157.8 291h0M42.8 291.1h0M48.6 291.1h0M69.9 291.1h0M74.7 291.2h0M216.9 291.2h0M293.4 291.2h0M67.5 291.3h0M233.4 291.3h0M167.4 291.3h0M195.6 291.4h0M161.8 291.4h0M227.9 291.5h0M149.9 291.5h0M291 291.6h0M270.6 291.6h0M227.8 291.6h0M210.6 291.6h0M92.6 291.7h0M56.7 291.7h0M297.4 291.8h0M233.1 291.8h0M288.4 291.8h0M252.4 291.9h0M133.5 291.9h0M63.9 292.2h0M53.2 292.2h0M156.1 292.2h0M243.7 292.2h0M143.1 292.3h0M250.1 292.5h0M55.8 292.5h0M305.6 292.5h0M47 292.5h0M132.4 292.6h0M193.4 292.7h0M150.1 292.7h0M111.5 292.7h0M93.4 292.7h0M172.7 292.8h0M171.6 292.8h0M38.8 292.9h0M287.9 293h0M230.5 293.1h0M107.4 293.3h0M83.1 293.3h0M156 293.4h0M195.8 293.6h0M74.3 293.7h0M127.5 293.7h0M268.9 293.8h0M184.6 293.8h0M239.6 293.8h0M56.2 293.8h0M246.8 293.9h0M43 293.9h0M31.1 293.9h0M63.1 294h0M59.7 294h0M45.5 294.1h0M140.6 294.1h0M143.4 294.2h0M151.7 294.2h0M314.1 294.3h0M229.1 294.4h0M128.3 294.5h0M178.4 294.5h0M267.6 294.7h0M165.6 294.7h0M279.4 294.8h0M174.6 294.9h0M291.2 295.1h0M224.4 295.2h0M127.4 295.3h0M52.3 295.3h0M72.3 295.3h0M287.5 295.3h0M220 295.3h0M111.9 295.4h0M209.4 295.4h0M35.9 295.5h0M103.7 295.6h0M90.8 295.6h0M225.1 295.6h0M304.5 295.8h0M101.8 295.8h0M159.5 296h0M36 296h0M223.8 296.2h0M142.5 296.2h0M144.8 296.2h0M298.7 296.5h0M111.8 296.5h0M52.2 296.6h0M297.3 296.7h0M184 297h0M207.1 297.2h0M240.6 297.2h0M43.2 297.3h0M188.9 297.4h0M92.2 297.7h0M321.9 297.7h0M157.1 297.9h0M98.2 297.9h0M241.4 297.9h0M273.9 298h0M317.4 298h0M106.3 298.1h0M75 298.2h0M215.6 298.2h0M287.5 298.3h0M173 298.3h0M241.5 298.4h0M221.2 298.5h0M87.5 298.5h0M91 298.6h0M290.7 298.6h0M252 298.7h0M169.2 298.8h0M301.4 298.8h0M177.1 298.9h0M221.9 299h0M207.8 299.1h0M129.3 299.2h0M299.3 299.2h0M133.4 299.2h0M56 299.2h0M194.5 299.3h0M210 299.4h0M180 299.6h0M165.7 299.7h0M312.6 299.8h0M289.8 299.9h0M74.3 300h0M89.8 300h0M111 300h0M109.5 300.1h0M219.2 300.1h0M55.7 300.2h0M258.9 300.2h0M263.5 300.2h0M270.3 300.4h0M178.7 300.4h0M34.3 300.4h0M60.6 300.6h0M205.5 300.6h0M276.1 300.6h0M46.1 300.6h0M128.4 300.7h0M152.1 300.8h0M62.2 300.9h0M265.7 301h0M58.2 301h0M285.2 301.1h0M137.2 301.1h0M30.5 301.2h0M233.2 301.5h0M54.8 301.6h0M131 301.8h0M98.7 301.8h0M83 301.8h0M119.1 301.8h0M200.7 301.9h0M138.8 302h0M294.9 302h0M128 302h0M195.9 302.1h0M221.7 302.1h0M164.5 302.1h0M150.2 302.3h0M142 302.4h0M62.8 302.4h0M207.6 302.5h0M318.2 302.5h0M65.3 302.7h0M39.1 302.8h0M217.1 302.8h0M122.6 303h0M223.1 303h0M113.7 303.1h0M219.2 303.2h0M111.1 303.3h0M87.6 303.4h0M190.7 303.5h0M168.9 303.6h0M309.9 303.6h0M89 303.7h0M127.3 303.7h0M112.3 304h0M31.7 304.1h0M232.4 304.3h0M238.7 304.4h0M40.4 304.4h0M201 304.4h0M152 304.5h0M149.4 304.6h0M181.7 304.6h0M313.9 304.7h0M104.8 304.8h0M248.4 304.9h0M52.3 304.9h0M158.9 305h0M100 305h0M163.9 305.2h0M141.4 305.4h0M213.2 305.5h0M278.1 305.5h0M190.4 305.6h0M80.5 305.6h0M191.9 305.7h0M317.7 305.7h0M38.1 305.8h0M26.3 305.8h0M215.4 305.8h0M274.8 306h0M205.3 306.1h0M267.3 306.1h0M39.3 306.1h0M251.5 306.2h0M168.3 306.2h0M124 306.3h0M33.8 306.3h0M115.7 306.3h0M66.1 306.4h0M49.2 306.4h0M98.5 306.5h0M210.8 306.6h0M223.1 306.7h0M301.4 306.7h0M36.9 306.8h0M143 306.9h0M269.9 306.9h0M101.9 307.2h0M79.7 307.2h0M84.1 307.2h0M78.1 307.3h0M67.6 307.4h0M222.3 307.4h0M143.6 307.5h0M111 307.5h0M263.5 307.6h0M195.6 307.7h0M106.2 307.8h0M265.4 307.8h0M259.6 307.9h0M125.4 308h0M285.8 308h0M127.5 308h0M143.3 308h0M151 308.2h0M315.3 308.3h0M159.6 308.4h0M231.7 308.4h0M129.7 308.4h0M262.3 308.5h0M292.2 308.5h0M121.7 308.6h0M266.5 308.8h0M120.8 309h0M237.4 309.1h0M320.7 309.1h0M97.3 309.1h0M269.7 309.2h0M220.9 309.3h0M113.1 309.3h0M74.2 309.3h0M276.2 309.5h0M270 309.5h0M159.6 309.6h0M320.8 309.6h0M297.1 309.6h0M118.6 309.6h0M99 309.7h0M287.8 310h0M318.3 310h0M65.5 310h0M219.9 310.1h0M158.1 310.1h0M32.1 310.2h0M82.4 310.2h0M34.3 310.2h0M199.6 310.2h0M149.1 310.3h0M62.2 310.4h0M64.2 310.5h0M294.6 310.6h0M128.1 310.6h0M169.1 310.7h0M245.1 310.9h0M122.6 311h0M27.5 311.1h0M124.2 311.2h0M214.7 311.2h0M244.2 311.3h0M131 311.3h0M319.4 311.4h0M59.3 311.4h0M69.2 311.5h0M280.4 311.6h0M294.9 311.8h0M298.4 311.8h0M225.8 311.8h0M229.6 311.8h0M267 311.9h0M33.4 311.9h0M106.9 312h0M126.4 312h0M157.2 312h0M83 312.2h0M155.5 312.4h0M253.9 312.5h0M207.8 312.7h0M179.4 312.7h0M98.3 312.7h0M167.6 312.9h0M215.5 312.9h0M227.1 313h0M244.9 313h0M194.4 313.1h0M149.2 313.1h0M153.6 313.1h0M139 313.2h0M97.3 313.2h0M50.5 313.2h0M296.1 313.3h0M215.9 313.4h0M208.2 313.4h0M267.8 313.5h0M70.4 313.6h0M101.5 313.7h0M312.1 313.7h0M284.3 313.7h0M252.5 313.8h0M60.2 313.8h0M63.9 313.9h0M122.7 313.9h0M227.2 314h0M187.7 314.1h0M137.2 314.2h0M267.3 314.3h0M76.9 314.4h0M102 314.4h0M245.9 314.6h0M55.1 314.6h0M207.4 314.7h0M111 314.9h0M314.7 314.9h0M86.8 315h0M202.1 315h0M41.5 315.1h0M109 315.2h0M149.4 315.2h0M194.4 315.2h0M238.3 315.2h0M115.8 315.3h0M265.2 315.3h0M280.5 315.3h0M131.7 315.3h0M239.2 315.4h0M72.4 315.5h0M267.9 315.6h0M105.5 315.6h0M80.3 315.7h0M96 315.8h0M160.8 315.8h0M168.3 315.9h0M176.2 316.1h0M217.2 316.1h0M289.7 316.1h0M27.7 316.3h0M317.8 316.4h0M123.9 316.4h0M205.6 316.4h0M252.2 316.4h0M63.1 316.5h0M88.3 316.7h0M48.3 316.7h0M160.1 316.7h0M139.9 316.7h0M321.5 316.8h0M227.3 316.8h0M241.4 316.9h0M65.8 316.9h0M292.3 317.3h0M313.5 317.3h0M96.6 317.3h0M147.4 317.6h0M286.7 317.7h0M171.3 317.7h0M151.5 317.7h0M253 317.8h0M251.9 317.8h0M305.1 317.8h0M63.2 317.9h0M306.5 318h0M117.6 318.1h0M95 318.1h0M292.6 318.2h0M111.7 318.3h0M246.7 318.3h0M127.6 318.4h0M223.8 318.4h0M194 318.6h0M243.1 318.6h0M39.5 318.7h0M150.7 318.8h0M29.2 319h0M92.4 319.1h0M247.7 319.1h0M321.2 319.3h0M190.2 319.4h0M266.5 319.5h0M228.2 319.6h0M268.5 319.6h0M145.1 319.7h0M164.6 319.7h0M262.7 319.8h0M269.8 319.8h0M299.7 319.9h0M68.1 319.9h0M187.9 320h0M196.9 320.2h0M94.5 320.2h0M160.9 320.2h0M121.9 320.3h0M97.3 320.3h0M32.8 320.4h0M45.6 320.5h0M30.3 320.5h0M211.6 320.5h0M117.8 320.5h0M288.5 320.8h0M104.3 320.9h0M108.4 320.9h0M159.5 320.9h0M209.2 320.9h0M185.7 321.1h0M287.2 321.1h0M40.5 321.1h0M258.8 321.4h0M179.9 321.5h0M61.2 321.5h0M144.6 321.6h0M86.6 321.6h0M100.3 321.6h0M57.7 321.7h0M261.6 321.7h0M165.8 321.8h0M130.2 321.8h0M183.2 321.9h0M79.8 321.9h0M155.7 322h0M30.7 322.1h0M153 322.2h0M68.4 322.3h0M250.8 322.3h0M32 322.7h0M167.3 322.8h0M191 322.9h0M46.1 322.9h0M127 323h0M133.3 323h0M84.1 323.1h0M203.1 323.2h0M136.3 323.4h0M145 323.5h0M201.6 323.5h0M99.9 323.6h0M122.7 323.6h0M215.9 323.8h0M262 323.9h0M112.8 324h0M32.7 324.1h0M96.6 324.5h0M318.4 325h0M87 325h0M54.1 325h0M320.7 325.1h0M130.8 325.1h0M270 325.3h0M67.7 325.3h0M258.3 325.4h0M315.5 325.4h0M256.4 325.4h0M271.6 325.6h0M201.2 325.6h0M266.1 325.7h0M153.5 325.7h0M135.5 325.8h0M217.8 325.9h0M215.3 325.9h0M214.6 326h0M158.7 326.1h0M164.3 326.1h0M205.7 326.1h0M215.2 326.1h0M132.4 326.1h0M50.5 326.2h0M320.4 326.3h0M155.9 326.3h0M36.9 326.3h0M147.5 326.5h0M90.8 326.5h0M248.8 326.6h0M207.8 326.6h0M285.7 326.7h0M206.5 326.7h0M293.2 326.8h0M314.6 326.8h0M243.8 326.8h0M306.2 327.2h0M167.5 327.2h0M151.8 327.3h0M183.4 327.4h0M114.3 327.4h0M50.1 327.4h0M140.7 327.5h0M260.4 327.5h0M214.5 327.6h0M69.5 327.7h0M34.4 327.7h0M115.1 327.8h0M314.9 328h0M152.8 328h0M98.7 328h0M230.6 328h0M105.9 328.1h0M243.5 328.1h0M104.6 328.2h0M280.1 328.2h0M315.9 328.2h0M267.2 328.5h0M168.4 328.7h0M118.2 328.8h0M162 328.9h0M243.5 328.9h0M100.5 329.2h0M262.2 329.3h0M224.2 329.3h0M46.4 329.4h0M108.2 329.4h0M316.7 329.4h0M123.9 329.5h0M313.2 329.6h0M137.6 329.6h0M176.2 329.6h0M105.4 329.8h0M290 329.8h0M187.8 329.8h0M231.9 329.8h0M106.1 329.9h0M120.9 330h0M142.6 330.1h0M324.2 330.2h0M140.6 330.3h0M291.3 330.4h0M115.4 330.4h0M293.9 330.5h0M203.8 330.6h0M198.3 330.8h0M84.8 331.1h0M101.7 331.3h0M39.2 331.4h0M60.2 331.4h0M94.3 331.5h0M56.4 331.6h0M102.3 331.6h0M191.4 331.6h0M129.1 331.7h0M288.4 331.7h0M258.3 331.8h0M138.6 331.8h0M266.1 332h0M177.1 332.1h0M264.7 332.1h0M252.4 332.1h0M157.7 332.2h0M239.6 332.4h0M231.7 332.5h0M140.1 332.5h0M64.6 332.5h0M165.6 332.5h0M159 332.7h0M113.3 332.8h0M42.3 332.8h0M304.9 332.8h0M102.5 332.9h0M86.9 332.9h0M205.7 332.9h0M186.5 333.2h0M40.3 333.2h0M38.3 333.3h0M29.6 333.5h0M75.9 333.6h0M320.7 333.7h0M283.7 333.7h0M179 333.7h0M66.5 333.7h0M264.6 333.7h0M248.1 333.8h0M236.4 333.9h0M111.9 334h0M276.3 334.1h0M207.1 334.1h0M292.9 334.3h0M265.4 334.3h0M137.1 334.6h0M137.3 334.7h0M314.8 334.9h0M171 334.9h0M93.9 334.9h0M183.4 334.9h0M321.7 335h0M197 335.2h0M177.3 335.3h0M299.6 335.4h0M98.7 335.5h0M30.3 335.5h0M64.5 335.5h0M80.8 335.6h0M28.1 335.6h0M208.1 335.7h0M112.9 335.8h0M91.2 336h0M223.2 336h0M59.9 336h0M131.2 336.1h0M140.2 336.2h0M249.5 336.3h0M310.2 336.4h0M68.7 336.4h0M56.4 336.5h0M174.8 336.5h0M138.1 336.8h0M143.4 336.8h0M102.6 337.1h0M296.7 337.1h0M142.8 337.2h0M129.6 337.2h0M94.8 337.3h0M297.6 337.4h0M64.2 337.4h0M35.6 337.4h0M246.7 337.6h0M77.3 337.7h0M57.8 337.7h0M255.4 337.8h0M50.6 337.8h0M201.2 337.9h0M34.1 337.9h0M230.8 338.1h0M290.5 338.1h0M251.2 338.2h0M248.5 338.4h0M229.7 338.4h0M272.3 338.5h0M199.8 338.6h0M185.7 338.6h0M315.9 338.7h0M195.1 338.8h0M175.5 339h0M137.5 339h0M111.4 339.4h0M56.2 339.4h0M145.9 339.5h0M99.5 339.6h0M194.3 339.6h0M229.2 339.7h0M307.5 339.8h0M57.3 339.9h0M139.9 340h0M65.1 340h0M236.4 340.1h0M206.4 340.2h0M65.5 340.2h0M174.4 340.2h0M133.9 340.3h0M35.5 340.3h0M31.1 340.3h0M248.7 340.4h0M259.9 340.5h0M205.3 340.7h0M77.6 340.8h0M143.7 340.8h0M192.7 340.9h0M45.9 340.9h0M117 341.1h0M171.2 341.2h0M80.1 341.2h0M54.4 341.2h0M207.5 341.2h0M146.7 341.3h0M169.4 341.3h0M286.6 341.4h0M158.6 341.4h0M239.8 341.5h0M60.8 341.6h0M196.1 341.6h0M172.2 341.6h0M84.7 341.8h0M180 341.9h0M61.1 341.9h0M270.1 342.1h0M314.8 342.1h0M34.3 342.2h0M298.2 342.3h0M215.5 342.3h0M277.5 342.3h0M77 342.4h0M268.6 342.5h0M284.7 342.5h0M246 342.5h0M45.8 342.6h0M262.9 342.6h0M284.7 342.8h0M28.2 342.9h0M180 342.9h0M92.1 343h0M228.4 343.1h0M228.5 343.1h0M81.7 343.1h0M196.9 343.1h0M268.9 343.2h0M129.9 343.2h0M308.3 343.4h0M273.9 343.5h0M34.4 343.5h0M174 343.6h0M123.7 343.7h0M315.8 343.8h0M63.7 343.9h0M163.7 343.9h0M114.1 343.9h0M80.3 344h0M49.2 344.1h0M264 344.2h0M106.8 344.2h0M166.5 344.3h0M73.4 344.3h0M195.3 344.3h0M228.5 344.3h0M262 344.4h0M257.8 344.4h0M38.4 344.5h0M235.8 344.5h0M117.7 344.5h0M112.8 344.5h0M119.5 344.6h0M184.5 344.9h0M172.2 345h0M298.1 345.2h0M178.4 345.2h0M166.9 345.3h0M33 345.3h0M229.3 345.4h0M235.4 345.4h0M266.4 345.4h0M158.1 345.4h0M254.8 345.6h0M210.8 345.6h0M240.3 345.6h0M60.2 345.8h0M104.1 346h0M125.2 346.1h0M59.4 346.1h0M223 346.2h0M69.8 346.2h0M85.5 346.2h0M155.9 346.3h0M99.7 346.3h0M157.2 346.4h0M185.8 346.5h0M172 346.5h0M269.4 346.7h0M155.8 346.8h0M163.3 347h0M33.7 347h0M303.6 347.2h0M46.9 347.2h0M142.3 347.2h0M121.6 347.2h0M321.2 347.2h0M79.1 347.3h0M117.1 347.3h0M70.3 347.3h0M176.7 347.4h0M231.3 347.4h0M296.7 347.5h0M45.4 347.5h0M270.8 347.6h0M27.8 347.7h0M47.5 347.7h0M219.1 347.8h0M312.8 347.8h0M227.2 347.9h0M264.2 347.9h0M121.5 348h0M159.4 348.1h0M238.7 348.2h0M30.9 348.3h0M208.1 348.4h0M226.7 348.4h0M149.7 348.5h0M305.3 348.5h0M193.6 348.6h0M239.1 348.6h0M159.7 348.7h0M121 348.7h0M281.1 348.7h0M80.9 348.8h0M143.2 348.8h0M165 348.9h0M298.8 349h0M146.5 349.1h0M316.2 349.2h0M65.9 349.3h0M184.4 349.3h0M239.8 349.3h0M181 349.3h0M56 349.3h0M179.5 349.4h0M55.2 349.4h0M32 349.4h0M251.6 349.5h0M163.5 349.6h0M263.9 349.8h0M284.6 349.8h0M261.1 349.9h0M299.4 349.9h0M54.4 350.1h0M95.6 350.2h0M197.4 350.2h0M241.3 350.3h0M104.1 350.3h0M300.4 350.3h0M191.8 350.3h0M277.2 350.4h0M152.5 350.5h0M216.5 350.6h0M147.2 350.7h0M298.7 350.7h0M297.2 350.8h0M174.8 351h0M117.2 351h0M230.3 351h0M148.8 351h0M209 351.2h0M156.4 351.3h0M314.8 351.4h0M45.2 351.4h0M273.4 351.6h0M167.4 351.6h0M34.6 351.8h0M74.4 351.8h0M278.8 352.1h0M121 352.1h0M166.5 352.1h0M299 352.2h0M105 352.2h0M95.9 352.3h0M165.5 352.3h0M215.8 352.4h0M111.5 352.5h0M58 352.5h0M234.8 352.6h0M241.1 352.7h0M157.4 352.7h0M43.8 352.7h0M96.1 352.8h0M188.7 352.9h0M109.4 352.9h0M206.1 353.1h0M85.5 353.2h0M28.5 353.2h0M74.3 353.3h0M160.3 353.4h0M59.5 353.4h0M51.6 353.6h0M81.3 353.6h0M188.2 353.7h0M211.8 353.7h0M276.3 353.8h0M253.6 353.9h0M160.3 353.9h0M148.6 353.9h0M133.6 354h0M182.4 354h0M267 354.1h0M84.9 354.1h0M109.5 354.3h0M68 354.3h0M205.7 354.3h0M166.1 354.5h0M124.3 354.5h0M220.8 354.5h0M52.3 354.5h0M299.4 354.5h0M57.3 354.7h0M99.3 354.8h0M200.4 354.8h0M143.7 354.9h0M188.7 355h0M86.4 355h0M48.1 355.1h0M143.9 355.1h0M127 355.5h0M88.5 355.5h0M241.4 355.7h0M50.5 355.7h0M191.5 355.7h0M229.8 355.7h0M141.5 355.7h0M45.9 355.9h0M184.5 356h0M48.7 356h0M117.9 356h0M38.4 356h0M34.7 356.2h0M149.4 356.2h0M30.2 356.2h0M136.4 356.2h0M79.6 356.3h0M198 356.3h0M218.7 356.4h0M252.7 356.6h0M300.2 356.7h0M309.3 356.8h0M196.4 356.9h0M74.3 357h0M233.4 357h0M197.9 357.1h0M168.5 357.3h0M215.2 357.3h0M71.3 357.4h0M294.1 357.5h0M174.5 357.5h0M261.7 357.5h0M190.8 357.6h0M299.4 357.6h0M28.9 357.6h0M190.9 357.7h0M223.3 357.7h0M254 357.7h0M177.2 357.7h0M270.4 357.8h0M297 357.8h0M97 357.8h0M120.6 357.9h0M123.3 357.9h0M86.8 358h0M190.1 358.1h0M226.8 358.2h0M249.6 358.3h0M293.9 358.4h0M82.1 358.6h0M112 358.6h0M34.5 358.7h0M114.6 358.9h0M91.3 358.9h0M165.7 359h0M213.1 359h0M183 359.1h0M282.4 359.3h0M62.2 359.4h0M46.6 359.4h0M108.5 359.6h0M287.4 359.7h0M139.1 359.7h0M196.3 359.8h0M249 359.9h0M65.4 359.9h0M164.9 359.9h0M40.6 360h0M240.1 360.1h0M87.9 360.1h0M89.3 360.2h0M63.7 360.3h0M204 360.3h0M212.7 360.3h0M227.4 360.4h0M255.4 360.4h0M198.4 360.6h0M167.2 360.6h0M48.6 360.6h0M76.9 360.7h0M101.6 360.8h0M213.4 360.8h0M26.1 360.8h0M190.2 360.9h0M66.7 361.2h0M86.6 361.2h0M302.7 361.3h0M64.7 361.4h0M225.1 361.5h0M229.5 361.5h0M73.6 361.7h0M140.7 361.7h0M76 361.7h0M52.8 361.8h0M34.1 362h0M116 362.2h0M163.6 362.3h0M235 362.5h0M237.4 362.7h0M119 362.7h0M101 362.9h0M134.4 362.9h0M288 363h0M169.8 363h0M238 363h0M52.7 363.1h0M309.6 363.4h0M289.7 363.4h0M31.7 363.5h0M202 363.5h0M182 363.6h0M148.9 363.7h0M130.1 363.8h0M260.5 364h0M129.3 364h0M123.6 364.1h0M125.1 364.1h0M36.6 364.2h0M46.1 364.2h0M272 364.2h0M138.3 364.2h0M140 364.3h0M173.3 364.3h0M134 364.3h0M305.4 364.3h0M241.8 364.4h0M289.5 364.4h0M197.9 364.4h0M36.4 364.6h0M227.9 364.7h0M150.6 364.8h0M291.9 364.8h0M86.7 364.9h0M165.6 364.9h0M151 364.9h0M249.1 364.9h0M114.4 364.9h0M59.4 364.9h0M290.9 365.1h0M261.6 365.3h0M33.8 365.4h0M187.4 365.5h0M306.7 365.6h0M42.5 365.6h0M302.7 365.7h0M104.5 365.7h0M296 365.7h0M228.6 365.8h0M306.2 365.8h0M103 365.8h0M299 365.9h0M145.1 365.9h0M178.3 365.9h0M76.6 366h0M26 366.2h0M278.8 366.2h0M48.9 366.3h0M114 366.3h0M284.4 366.3h0M252 366.3h0M288.8 366.4h0M134.8 366.4h0M185.2 366.8h0M305.3 367h0M71 367h0M196 367.1h0M32.7 367.1h0M285.1 367.1h0M29.1 367.1h0M314.6 367.2h0M297.7 367.3h0M107.1 367.4h0M78.8 367.5h0M247.1 367.5h0M115.9 367.6h0M247 367.7h0M319.7 367.7h0M148.8 367.8h0M147.7 368h0M155.8 368.2h0M244.8 368.3h0M118.2 368.5h0M311.5 368.6h0M120.5 368.7h0M138.5 368.7h0M191.2 368.7h0M203.6 369h0M158.5 369h0M209 369h0M82.9 369h0M76.5 369.1h0M115.7 369.1h0M106.6 369.3h0M193.4 369.4h0M202.3 369.5h0M64.1 369.7h0M238.1 369.7h0M257.1 369.7h0M127.2 369.9h0M164.3 369.9h0M75.9 370h0M269.7 370.4h0M44.4 370.4h0M153.8 370.4h0M89.4 370.4h0M127.2 370.5h0M80.4 370.7h0M130.8 370.7h0M264.9 370.7h0M76 370.8h0M290.4 370.9h0M190.9 370.9h0M293 370.9h0M139.9 370.9h0M58.9 371h0M193.7 371h0M284.9 371.1h0M296.3 371.1h0M45.8 371.1h0M155.1 371.2h0M140.5 371.2h0M131.5 371.2h0M189.4 371.3h0M136.9 371.3h0M72 371.3h0M91.1 371.5h0M259.5 371.5h0M263 371.7h0M275.9 371.7h0M121.6 371.7h0M223.3 371.9h0M307.7 372h0M204.4 372h0M318.5 372.1h0M296.9 372.1h0M212.9 372.2h0M62.2 372.2h0M277.5 372.3h0M91.9 372.4h0M314.8 372.4h0M196.8 372.7h0M291.7 372.8h0M257.3 372.8h0M29.1 373h0M312.8 373.1h0M226.7 373.3h0M262 373.3h0M257.2 373.3h0M170.1 373.7h0M295 373.7h0M237 373.8h0M32.8 373.9h0M60 374h0M153.6 374.1h0M131.6 374.1h0M314.8 374.1h0M232 374.1h0M247.2 374.1h0M294.6 374.3h0M96.3 374.5h0M148.1 374.6h0M254.9 374.7h0M134.3 374.7h0M144.7 374.9h0M129.9 374.9h0M180.6 375h0M44.2 375.1h0M90.1 375.3h0M163 375.3h0M47.4 375.3h0M242.9 375.4h0M107.9 375.5h0M177.5 375.5h0M316.9 375.7h0M269.7 375.7h0M83.3 375.8h0M158.6 375.8h0M302.5 376h0M76.8 376h0M165.1 376.1h0M264.4 376.2h0M271.4 376.3h0M129.6 376.7h0M215.7 376.7h0M113.1 376.9h0M265.6 377.1h0M140.7 377.1h0M115.6 377.1h0M313.7 377.1h0M203.7 377.1h0M108.5 377.2h0M98.9 377.2h0M255.7 377.3h0M229.3 377.4h0M101.5 377.7h0M135.1 378h0M146.9 378.1h0M254.4 378.1h0M43.6 378.3h0M185.5 378.3h0M231 378.3h0M74.4 378.4h0M270.9 378.5h0M245.9 378.5h0M73.4 378.6h0M30.7 378.9h0M318.5 378.9h0M160.9 379h0M184 379h0M59.2 379.1h0M276.4 379.1h0M90.8 379.2h0M163.9 379.3h0M49.2 379.4h0M90.2 379.4h0M255.1 379.6h0M94.9 379.6h0M211.8 379.6h0M228.6 379.8h0M235.7 379.9h0M26.3 380h0M111.7 380h0M41.9 380.1h0M282.6 380.1h0M160.6 380.2h0M60.6 380.4h0M266.5 380.5h0M82.4 380.5h0M225.9 380.5h0M274.6 380.8h0M209.4 380.8h0M102.9 380.8h0M164.7 380.9h0M69.2 381h0M161.1 381h0M95 381h0M177.7 381.1h0M29.9 381.2h0M197.8 381.2h0M248.5 381.2h0M76.6 381.3h0M265.5 381.4h0M144.4 381.4h0M63.7 381.6h0M247.4 381.6h0M262.6 381.6h0M299.5 381.6h0M233.6 381.8h0M266.4 381.8h0M265.9 381.9h0M279.8 381.9h0M304.8 381.9h0M152.5 381.9h0M78.8 382h0M263.6 382h0M134.9 382h0M159.6 382.1h0M117.3 382.2h0M31.9 382.2h0M191.6 382.3h0M64.1 382.4h0M183.2 382.5h0M81.3 382.6h0M280.1 382.7h0M310.8 382.7h0M185.8 382.7h0M39.4 382.9h0M254.5 382.9h0M60.5 383h0M105.6 383h0M100.1 383h0M115.3 383h0M161.7 383h0M192 383h0M134.7 383.2h0M204.2 383.3h0M146.5 383.4h0M226.8 383.5h0M105.2 383.6h0M143 383.6h0M157.2 383.6h0M117 383.6h0M128.9 383.7h0M133.5 383.9h0M266.3 384h0M241 384.2h0M205.6 384.3h0M219.4 384.3h0M280 384.4h0M273.8 384.5h0M208.4 384.5h0M72.3 384.5h0M252.4 384.6h0M286.5 384.7h0M130.3 384.7h0M189.6 384.7h0M280.4 384.8h0M295 384.8h0M90.6 384.9h0M30.8 384.9h0M251.6 385h0M242.6 385.1h0M42 385.3h0M293.9 385.4h0M85.6 385.6h0M155.8 385.7h0M251.4 385.8h0M145.1 385.8h0M129 385.9h0M163.5 386h0M46 386h0M41 386.1h0M199.7 386.2h0M75.3 386.2h0M194 386.2h0M231 386.3h0M109.4 386.3h0M204.7 386.4h0M212.1 386.4h0M261.5 386.4h0M38.9 386.6h0M273 386.7h0M209.9 386.8h0M240.9 386.8h0M232 386.8h0M209.9 386.9h0M314.5 386.9h0M92.5 387h0M149.6 387.1h0M271.5 387.2h0M199.3 387.3h0M156.3 387.4h0M180.6 387.8h0M298.9 388h0M309.8 388.1h0M32 388.3h0M49.9 388.3h0M165.1 388.5h0M178.6 388.7h0M42 388.8h0M85.5 389h0M186.5 389.1h0M320.5 389.2h0M187.2 389.2h0M231.2 389.2h0M278.9 389.2h0M99.5 389.2h0M157.7 389.3h0M287.3 389.3h0M44.2 389.4h0M186 389.4h0M297.9 389.6h0M162.3 389.7h0M223.3 389.8h0M88.8 389.8h0M297.5 389.9h0M212.6 389.9h0M196.1 389.9h0M252.8 389.9h0M51.9 390.1h0M283.6 390.3h0M75.2 390.4h0M226 390.5h0M108.4 390.5h0M109.3 390.6h0M263.8 390.8h0M185.8 390.8h0M36.3 390.9h0M251.3 390.9h0M48.1 391h0M53.4 391h0M113.2 391.1h0M171.6 391.1h0M119.8 391.2h0M290.3 391.2h0M209.6 391.2h0M103.1 391.3h0M101.1 391.4h0M50.5 391.4h0M257.6 391.5h0M188.6 391.6h0M282.2 391.6h0M124.1 391.6h0M267.1 391.7h0M121.2 391.8h0M231.6 391.9h0M189.4 391.9h0M237.4 391.9h0M323.1 392h0M304.7 392h0M192 392.2h0M283 392.3h0M104.7 392.3h0M280 392.4h0M92.1 392.5h0M44.2 392.5h0M69.3 392.7h0M107.9 392.8h0M49.4 392.8h0M139.5 392.9h0M214.1 393h0M127.9 393h0M138.5 393h0M277.7 393.1h0M165.2 393.2h0M211.4 393.2h0M82.5 393.2h0M317.7 393.2h0M297.3 393.2h0M205.1 393.3h0M99 393.3h0M63 393.4h0M195.2 393.4h0M59.4 393.4h0M236.8 393.5h0M36.6 393.5h0M177.9 393.6h0M243.6 393.6h0M310.6 393.7h0M66.9 393.7h0M46.7 394h0M306.7 394.1h0M233.2 394.1h0M114.5 394.1h0M290.8 394.1h0M240.9 394.2h0M98.7 394.2h0M140.9 394.2h0M54 394.2h0M299.7 394.3h0M99.7 394.3h0M164 394.5h0M133 394.6h0M240.1 394.6h0M122.4 394.6h0M214.7 394.6h0M140.6 394.6h0M317.8 394.8h0M124.8 394.8h0M62.4 394.8h0M198.8 394.9h0M175.3 395h0M130.5 395.2h0M76.7 395.2h0M262.8 395.3h0M162.1 395.5h0M75.9 395.6h0M279.1 395.7h0M118.4 395.7h0M107.5 396h0M122.6 396.1h0M260 396.2h0M187.7 396.2h0M310.1 396.3h0M198.8 396.3h0M244.3 396.3h0M109.9 396.4h0M257.1 396.4h0M41.9 396.6h0M190.5 396.8h0M31.2 396.9h0M129.9 397.1h0M244.6 397.2h0M41.4 397.2h0M140.4 397.3h0M40.9 397.5h0M214.2 397.6h0M42.9 397.6h0M182.3 397.8h0M308.6 397.8h0M219.5 397.8h0M262.6 398.2h0M30.2 398.5h0M179 398.5h0M103.3 398.6h0M198.9 398.6h0M226.8 398.6h0M221.4 398.7h0M290.7 398.7h0M231.1 398.8h0M267 398.9h0M231.2 398.9h0M247 399h0M110 399.2h0M75.3 399.5h0M284.2 399.5h0M28 399.6h0M34.4 399.6h0M311.7 399.8h0M206.2 400h0M293.3 400.1h0M199.2 400.1h0M219.5 400.1h0M73.2 400.3h0M164.3 400.3h0M142.2 400.4h0M246.9 400.4h0M306.9 400.4h0M90.4 400.4h0M313.7 400.5h0M90.7 400.7h0M71.6 400.7h0M107.2 400.7h0M197.5 400.9h0M124.8 401h0M223.4 401h0M177.3 401h0M167.7 401.2h0M39.1 401.2h0M191.9 401.2h0M82.5 401.2h0M200.6 401.2h0M106 401.2h0M65.9 401.3h0M299.1 401.3h0M39.3 401.5h0M179.6 401.5h0M210.8 401.6h0M68 401.8h0M184.6 401.8h0M58.5 402h0M242.7 402.1h0M249.3 402.1h0M42.2 402.5h0M170.7 402.5h0M131.4 402.5h0M279.4 402.5h0M98.5 402.6h0M307.6 402.7h0M239.6 402.8h0M79.9 402.8h0M95.4 402.8h0M303.6 403h0M175 403h0M278.8 403.1h0M143.3 403.1h0M257.8 403.2h0M232.3 403.2h0M269.9 403.2h0M103.5 403.3h0M179.4 403.3h0M196 403.3h0M122.3 403.3h0M132.4 403.5h0M201.1 403.6h0M210.9 403.8h0M264.4 403.8h0M53.4 404h0M126.7 404h0M303.7 404h0M77.2 404h0M271.5 404.2h0M170.7 404.3h0M223.7 404.3h0M161.6 404.3h0M119.8 404.3h0M236.5 404.4h0M187.5 404.5h0M270.8 404.8h0M132.9 404.8h0M274.3 404.8h0M270 405h0M140.7 405h0M220.6 405h0M30.6 405h0M255.8 405.1h0M249.2 405.1h0M163.6 405.2h0M315.6 405.2h0M260.7 405.3h0M53.8 405.4h0M237.8 405.4h0M62.2 405.4h0M71.9 405.4h0M209.9 405.6h0M80.7 405.6h0M252 405.9h0M226.9 406.1h0M34.5 406.2h0M110.7 406.2h0M191.6 406.3h0M114.9 406.3h0M263.2 406.4h0M117.1 406.5h0M211.1 406.5h0M118.1 406.5h0M165.3 406.6h0M233.4 406.7h0M259.2 406.7h0M46.6 406.8h0M236.9 406.9h0M200 407h0M226.2 407h0M234.6 407.3h0M318.3 407.3h0M323.8 407.4h0M86.1 407.4h0M176.8 407.4h0M238.3 407.5h0M252.3 407.6h0M209.6 407.7h0M123.3 407.7h0M183.6 407.8h0M178.7 407.8h0M311 407.8h0M66.8 407.8h0M194.9 407.9h0M238 408h0M151.8 408h0M215.6 408.2h0M306.6 408.2h0M318.6 408.2h0M304.5 408.4h0M86.1 408.4h0M107.7 408.4h0M295.6 408.6h0M46.8 408.7h0M216.5 408.8h0M149.9 408.8h0M59.8 409h0M140.7 409.3h0M293.6 409.3h0M31.4 409.3h0M237.1 409.3h0M78.2 409.3h0M122 409.4h0M259.5 409.4h0M66.9 409.4h0M149.5 409.5h0M96.6 409.6h0M59 409.7h0M146.3 409.8h0M300 409.9h0M153.5 409.9h0M285.6 410.1h0M227.2 410.1h0M205.6 410.1h0M130.6 410.1h0M304.7 410.1h0M227.7 410.2h0M261.5 410.2h0M295.1 410.3h0M144.3 410.4h0M96.7 410.4h0M225.7 410.4h0M180.1 410.4h0M242.8 410.5h0M203.9 410.5h0M243.7 410.6h0M199.7 410.6h0M189.7 410.7h0M48.4 410.7h0M210.6 410.8h0M216 410.8h0M265.1 410.8h0M211.8 410.9h0M323 411h0M206.6 411h0M50.7 411.2h0M99.2 411.3h0M204.4 411.3h0M146.3 411.4h0M320.1 411.5h0M232.2 411.5h0M75.9 411.6h0M191.5 411.7h0M78.3 411.8h0M316.3 411.8h0M274.5 412h0M248.7 412h0M154 412.1h0M60 412.3h0M180.7 412.3h0M88.6 412.3h0M187.7 412.4h0M110.8 412.6h0M53.6 412.7h0M247.3 412.7h0M54.5 412.8h0M250.3 413.1h0M281 413.1h0M141.9 413.2h0M51.6 413.3h0M63 413.3h0M201.1 413.3h0M110.2 413.3h0M297.2 413.4h0M253.7 413.5h0M45.5 413.6h0M73.3 413.8h0M264.4 413.9h0M221.2 413.9h0M136.5 414.1h0M71.5 414.2h0M100.4 414.2h0M228.9 414.3h0M100.9 414.4h0M136 414.6h0M93.9 414.8h0M63.9 414.8h0M40.7 414.9h0M99.5 414.9h0M248.7 414.9h0M293.1 414.9h0M60.1 415h0M102.3 415h0M213.5 415.1h0M181.3 415.1h0M36 415.1h0M75.3 415.1h0M158.4 415.2h0M210.6 415.3h0M316.1 415.5h0M238.6 415.6h0M159.4 415.6h0M296.7 415.7h0M250.3 415.8h0M260.9 415.8h0M300.5 416.2h0M56.3 416.2h0M137.1 416.2h0M245.8 416.2h0M124.3 416.3h0M274.7 416.3h0M104.7 416.4h0M159.1 416.7h0M164.5 416.7h0M244.3 416.8h0M179.5 416.9h0M211.7 417h0M91.7 417h0M112.4 417h0M307.9 417h0M84.3 417h0M41.3 417.1h0M247.7 417.1h0M90.2 417.3h0M301.4 417.4h0M189.8 417.5h0M151 417.6h0M102.3 417.6h0" stroke="#38c422" stroke-width="1.4" stroke-linecap="square" fill="none"/>
<path d="M137.7 213.2h0M137.1 213.3h0M96 213.5h0M207.7 213.5h0M28.3 213.6h0M90.9 213.6h0M254.5 213.6h0M79.7 213.8h0M238.9 213.8h0M189.4 213.9h0M283 213.9h0M309.2 214h0M93.3 214h0M139.4 214.2h0M246.4 214.2h0M108.8 214.2h0M266 214.2h0M93.4 214.3h0M118.6 214.3h0M123.2 214.4h0M106.4 214.4h0M116.8 214.6h0M32.2 214.6h0M50.9 214.6h0M147.2 214.7h0M176 214.8h0M315 214.8h0M169.6 214.9h0M222.3 214.9h0M35.1 214.9h0M204.2 215h0M168.2 215.2h0M230.9 215.2h0M28.5 215.3h0M68.3 215.3h0M67.1 215.3h0M168.2 215.4h0M153.4 215.6h0M223.2 215.6h0M254 215.9h0M162.2 216h0M248.3 216h0M135.7 216.1h0M86.6 216.1h0M289.8 216.1h0M295.7 216.2h0M107.6 216.4h0M202.9 216.4h0M302.7 216.6h0M95.7 216.6h0M272.3 216.6h0M132.6 216.6h0M132.9 216.8h0M167.9 216.9h0M118.3 217h0M71.3 217.1h0M222.4 217.1h0M34.5 217.2h0M188.8 217.3h0M117.9 217.5h0M266.9 217.6h0M118.1 217.6h0M122.7 217.6h0M306.2 217.6h0M288.8 217.8h0M302.4 217.8h0M61.6 217.9h0M64.5 217.9h0M139 217.9h0M145.8 218h0M87.2 218.1h0M199.5 218.1h0M246.5 218.1h0M54.9 218.1h0M169.8 218.1h0M222.7 218.5h0M67.8 218.5h0M38.2 218.6h0M149.5 218.6h0M287.5 218.7h0M118 218.8h0M298.5 218.8h0M238.5 218.9h0M120.6 218.9h0M68.6 218.9h0M94.8 218.9h0M50.1 219.2h0M30.7 219.3h0M163 219.5h0M232.4 219.6h0M35.8 219.6h0M102.5 219.7h0M98.5 219.8h0M205.1 220h0M207.9 220.1h0M144.2 220.1h0M219.9 220.2h0M50.1 220.2h0M129.5 220.2h0M144.8 220.3h0M239.7 220.3h0M107 220.4h0M73.8 220.5h0M249.5 220.5h0M312.8 220.6h0M78.6 220.7h0M117.2 220.7h0M227.9 220.7h0M306.8 220.8h0M26.3 221.1h0M209.5 221.2h0M149.6 221.3h0M193.1 221.4h0M279.9 221.4h0M221.9 221.4h0M158.6 221.5h0M321.1 221.7h0M269.3 221.8h0M91.5 221.9h0M167 221.9h0M111.6 222h0M256 222.1h0M57.6 222.1h0M205.7 222.1h0M107.9 222.2h0M234.5 222.3h0M114.5 222.4h0M46.6 222.5h0M194.2 222.5h0M280.1 222.6h0M147.5 222.9h0M229.3 222.9h0M245.4 223h0M266.2 223.1h0M154.2 223.3h0M91.9 223.3h0M236.9 223.4h0M286.4 223.4h0M113.7 223.5h0M42.7 223.6h0M241.7 223.7h0M46.8 223.8h0M130 223.9h0M69 224h0M119.7 224.1h0M102.5 224.2h0M198.7 224.2h0M36.4 224.2h0M92.3 224.3h0M198.6 224.3h0M147.1 224.3h0M103.6 224.3h0M170.2 224.4h0M148.8 224.4h0M289.6 224.5h0M145.2 224.7h0M263.3 224.7h0M262.9 224.7h0M154.2 224.7h0M200.6 224.7h0M164.1 224.8h0M113.7 224.9h0M241.5 225.2h0M233.4 225.2h0M33.5 225.3h0M195.2 225.4h0M82.6 225.4h0M263.8 225.4h0M216 225.5h0M34.4 225.6h0M53.9 225.6h0M261.3 225.7h0M28.2 225.8h0M60.2 225.9h0M216.2 225.9h0M98.3 226h0M295.7 226h0M288.6 226.1h0M192.3 226.1h0M309.6 226.2h0M178.2 226.3h0M194 226.6h0M51.5 226.8h0M300.6 226.8h0M237.3 226.9h0M212.1 226.9h0M192.3 227.1h0M238.4 227.3h0M176 227.6h0M77.3 227.6h0M175.8 227.6h0M288.5 227.7h0M207.9 227.8h0M143.4 227.8h0M192.9 227.9h0M119.3 228h0M246.6 228h0M140.4 228h0M151 228h0M247.5 228h0M77.2 228.1h0M262.8 228.1h0M297.2 228.2h0M315.4 228.3h0M301.3 228.3h0M129.4 228.3h0M284.8 228.5h0M284.2 228.5h0M147.3 228.6h0M77.4 228.9h0M188.5 228.9h0M92 228.9h0M51.8 229h0M299.3 229.1h0M266.4 229.1h0M150.2 229.1h0M130.2 229.2h0M280.8 229.3h0M272.7 229.3h0M99.7 229.3h0M155.2 229.5h0M89.4 229.5h0M214 229.6h0M85.8 229.6h0M155.3 229.7h0M102.7 229.8h0M91.1 229.9h0M173.9 230.2h0M141.7 230.2h0M242.5 230.3h0M310.9 230.4h0M197.1 230.4h0M156.4 230.4h0M321 230.5h0M301.8 230.5h0M151.4 230.5h0M126.7 230.5h0M282.4 230.6h0M302.4 230.7h0M64.2 230.7h0M170.8 230.8h0M80.8 230.8h0M32.8 230.9h0M42 231h0M251.4 231h0M109.1 231h0M47.5 231.1h0M87.7 231.1h0M280.3 231.2h0M160.2 231.3h0M271.2 231.3h0M301.2 231.5h0M122.1 231.6h0M231.7 231.8h0M180 231.9h0M221.5 232h0M159.6 232h0M28.7 232h0M306.9 232.1h0M255.3 232.2h0M286.1 232.4h0M154.5 232.7h0M150.4 232.8h0M178.1 232.9h0M26.3 232.9h0M210.6 232.9h0M257.9 233h0M76.2 233h0M322.3 233.1h0M145.8 233.2h0M30 233.3h0M249 233.3h0M87 233.4h0M299.8 233.4h0M190.9 233.4h0M83.2 233.4h0M207.2 233.4h0M50.9 233.5h0M59.6 233.5h0M108.3 233.5h0M227.2 233.5h0M208.5 233.5h0M258.9 233.6h0M252.3 233.6h0M34.6 233.7h0M72.4 233.8h0M143.3 233.8h0M256.6 233.9h0M207.6 233.9h0M305.3 234.1h0M133.8 234.1h0M159.4 234.1h0M150.8 234.3h0M217.8 234.4h0M303.5 234.5h0M114.4 234.5h0M134 234.6h0M81.7 234.7h0M68.6 234.7h0M195.9 234.7h0M73.5 234.8h0M84.9 234.8h0M216.5 234.8h0M123.4 234.8h0M136.9 234.8h0M29.1 234.9h0M66.6 234.9h0M80.7 234.9h0M289.3 234.9h0M76.1 235h0M68.6 235h0M293.8 235.1h0M127.3 235.1h0M297.7 235.1h0M145.5 235.2h0M104.3 235.2h0M163.2 235.2h0M320.5 235.4h0M84.3 235.4h0M98.7 235.5h0M216.3 235.6h0M263.2 235.7h0M71.9 235.8h0M245.5 235.8h0M252 235.8h0M143.6 235.9h0M82.7 235.9h0M321.1 235.9h0M97.2 236h0M109.4 236h0M222.9 236.1h0M222.6 236.3h0M96.2 236.3h0M278.6 236.6h0M181.5 236.7h0M197 236.7h0M63.5 236.7h0M232.5 236.7h0M234.6 236.7h0M149.5 236.8h0M270.5 236.8h0M282.2 236.8h0M146.1 236.9h0M206.6 236.9h0M208.9 236.9h0M216.8 236.9h0M307.3 237h0M162.8 237h0M45.3 237h0M32.8 237.1h0M248.3 237.1h0M65.7 237.3h0M214.7 237.4h0M86.8 237.4h0M167 237.4h0M176.7 237.5h0M101 237.6h0M185 237.7h0M30.1 237.7h0M51.9 237.8h0M207.8 237.8h0M49.8 237.8h0M36.8 237.9h0M214 237.9h0M315.1 238h0M167.5 238h0M251.8 238.1h0M174.4 238.1h0M196.7 238.1h0M196.6 238.1h0M198.8 238.2h0M310.6 238.2h0M100 238.4h0M55.4 238.4h0M252.1 238.5h0M233 238.7h0M203.5 238.7h0M114 238.7h0M37.2 238.8h0M216.2 238.8h0M229.9 238.9h0M87.8 238.9h0M323.7 239h0M87.3 239.1h0M185.7 239.3h0M204.2 239.4h0M274.9 239.4h0M278.5 239.4h0M201.8 239.5h0M163.9 239.8h0M287.6 239.8h0M120.4 239.8h0M119.5 240h0M242.1 240h0M105.9 240.2h0M297.5 240.3h0M290.9 240.4h0M296.1 240.4h0M196.1 240.6h0M256 240.8h0M122.3 240.8h0M210.2 240.8h0M69.5 240.8h0M130.1 240.9h0M138.7 240.9h0M200.9 241.1h0M214.3 241.2h0M100.1 241.4h0M145.2 241.6h0M63.5 241.7h0M154.9 241.7h0M123.2 241.7h0M279 241.8h0M154.6 241.9h0M133.9 241.9h0M68.9 241.9h0M194.3 242h0M38.1 242h0M199.5 242h0M247.4 242h0M108.2 242.2h0M275.8 242.3h0M227.3 242.4h0M162.8 242.5h0M297.7 242.9h0M275.1 243h0M109.3 243h0M126.6 243h0M117 243h0M274.8 243h0M230.3 243h0M267.7 243h0M43.3 243.1h0M273.7 243.2h0M145.4 243.4h0M159.7 243.4h0M46.5 243.4h0M68.2 243.5h0M80.1 243.5h0M305.8 243.7h0M178.4 243.7h0M309.9 243.7h0M157.4 243.8h0M223.4 243.9h0M38.7 243.9h0M79.3 244.1h0M282.6 244.1h0M319.7 244.1h0M39 244.2h0M89.3 244.3h0M248.7 244.3h0M74.2 244.3h0M54.1 244.3h0M276.1 244.3h0M101.6 244.3h0M321.9 244.3h0M222.7 244.4h0M192 244.6h0M177.9 244.7h0M284.6 244.7h0M221.1 244.9h0M178.2 244.9h0M35.4 245h0M171.2 245h0M253.6 245.1h0M139 245.2h0M156.7 245.2h0M234.2 245.4h0M36.2 245.5h0M284.5 245.5h0M283 245.5h0M266.6 245.6h0M303.2 245.7h0M99.2 245.7h0M244 245.7h0M115.4 246h0M229.9 246h0M143.2 246.2h0M163.3 246.4h0M30.2 246.5h0M45.6 246.5h0M65.3 246.6h0M301.3 246.6h0M137.1 246.8h0M256.5 247h0M27.3 247.1h0M117.3 247.1h0M28.1 247.1h0M225.2 247.1h0M253.3 247.2h0M156.5 247.3h0M101.9 247.3h0M75.2 247.4h0M235 247.4h0M255.2 247.4h0M142.6 247.5h0M60.2 247.5h0M262.9 247.7h0M324.2 247.9h0M195.4 248.1h0M108.9 248.1h0M316.3 248.2h0M239.7 248.3h0M307.4 248.3h0M245.2 248.4h0M285.2 248.6h0M131.3 248.6h0M300.1 248.8h0M96.4 248.9h0M253.7 248.9h0M183.4 249h0M295.7 249.1h0M304.3 249.2h0M294.8 249.2h0M135.1 249.2h0M256.2 249.5h0M78.7 249.6h0M106.7 249.6h0M277.7 249.7h0M279.1 250h0M35.2 250h0M259 250.2h0M36.4 250.2h0M38.9 250.2h0M258.7 250.2h0M78 250.4h0M271.3 250.5h0M155.1 250.6h0M66.3 250.8h0M289.8 250.9h0M306.4 250.9h0M245.3 250.9h0M130.2 251h0M35.8 251h0M53.6 251h0M35.2 251h0M253.8 251h0M281.5 251.1h0M232.1 251.2h0M304.7 251.2h0M319.2 251.2h0M64.2 251.3h0M256.7 251.3h0M120.1 251.5h0M132 251.6h0M276.3 251.6h0M209.7 251.7h0M39.2 251.9h0M164.3 251.9h0M108.7 252h0M306.9 252h0M118 252.1h0M122.8 252.1h0M158 252.1h0M197.5 252.2h0M219.8 252.2h0M86.9 252.2h0M47.2 252.3h0M241 252.4h0M256.2 252.5h0M42.3 252.6h0M124.2 252.6h0M45.7 252.6h0M41.1 252.7h0M38 252.7h0M52.3 252.7h0M201.6 252.8h0M221.7 252.9h0M218.2 253h0M98.4 253h0M40.8 253h0M303.4 253.1h0M202 253.1h0M222.4 253.2h0M260.9 253.2h0M201.9 253.3h0M56.1 253.3h0M102.2 253.4h0M248.9 253.6h0M255 253.6h0M212.5 253.7h0M80.6 253.7h0M62.1 253.8h0M45.6 253.8h0M171.2 253.8h0M299.2 253.9h0M118.6 253.9h0M280.4 253.9h0M193.2 253.9h0M102.4 254h0M130 254.1h0M53.6 254.2h0M58.4 254.3h0M44.6 254.3h0M104.2 254.4h0M30.7 254.5h0M87.5 254.6h0M115.8 254.7h0M101.7 254.7h0M119.8 254.8h0M186.6 255.2h0M315.1 255.5h0M244.5 255.7h0M233.9 255.7h0M265.4 255.7h0M181.4 255.9h0M36.8 256.1h0M43.2 256.2h0M225.2 256.2h0M35.8 256.3h0M41.3 256.4h0M119.7 256.4h0M134.3 256.4h0M52.3 256.4h0M258.1 256.4h0M310.8 256.5h0M82.9 256.7h0M98.8 256.8h0M169.3 256.9h0M287.4 256.9h0M164.9 257h0M159.2 257.1h0M75.3 257.2h0M292.4 257.2h0M283.9 257.2h0M77.6 257.3h0M120.7 257.3h0M316.7 257.4h0M35.3 257.4h0M50.8 257.5h0M271.3 257.6h0M130.8 257.6h0M202.9 257.6h0M128.7 257.7h0M323.7 257.7h0M307.5 257.9h0M315.3 257.9h0M150.5 258h0M285.2 258.1h0M220.2 258.1h0M63.4 258.1h0M33.6 258.1h0M27.2 258.2h0M146.1 258.2h0M294.9 258.5h0M212.7 258.8h0M135.4 258.8h0M232.2 259.1h0M66.7 259.1h0M308 259.1h0M29.6 259.2h0M264.6 259.2h0M125.1 259.4h0M52.9 259.5h0M193.4 259.6h0M125.9 259.6h0M45.5 259.6h0M66.8 259.7h0M275.1 259.8h0M187.4 259.8h0M203 259.9h0M301.5 260h0M244.4 260h0M110.1 260h0M282.2 260h0M108.3 260.1h0M147.1 260.1h0M186.4 260.1h0M102.6 260.2h0M138.1 260.3h0M137.4 260.3h0M26 260.6h0M55.8 260.7h0M283.4 260.8h0M269.7 261h0M146.2 261.1h0M177.7 261.2h0M32.9 261.3h0M231.5 261.3h0M287 261.3h0M324.2 261.3h0M248.5 261.5h0M117.7 261.5h0M198.5 261.5h0M81 261.7h0M41.9 261.7h0M239.7 261.8h0M307.4 261.9h0M319.8 261.9h0M284.9 262h0M95.1 262h0M266.2 262.1h0M206.6 262.4h0M322.8 262.5h0M48.1 262.6h0M274.1 262.8h0M178.8 263h0M53.9 263.1h0M282.1 263.2h0M88.8 263.3h0M230.3 263.3h0M270.3 263.4h0M240.9 263.4h0M314.8 263.4h0M111.4 263.8h0M273.3 263.8h0M51.7 263.8h0M30.6 263.8h0M159.4 263.9h0M54 264h0M267.2 264.2h0M289.3 264.2h0M144.1 264.3h0M247.9 264.4h0M186.4 264.5h0M54.3 264.5h0M310.9 264.6h0M306.6 264.6h0M80.3 264.7h0M303.5 264.8h0M206.3 264.9h0M194.3 264.9h0M160.7 265.2h0M289.6 265.2h0M169.6 265.2h0M259.5 265.3h0M168.2 265.4h0M296.1 265.5h0M249.4 265.5h0M110.4 265.6h0M33.2 265.7h0M223.9 265.7h0M258.5 265.7h0M66.2 265.8h0M50.5 265.8h0M181.4 265.8h0M91.8 265.9h0M235.1 266h0M219.1 266h0M57.6 266h0M138.3 266h0M93.6 266.1h0M239.1 266.3h0M303.8 266.3h0M125.8 266.3h0M281.5 266.3h0M217.1 266.4h0M270.1 266.4h0M89.6 266.4h0M230.8 266.5h0M254.1 266.6h0M190.4 266.6h0M319.4 266.7h0M70.3 266.7h0M109.4 266.9h0M166.4 266.9h0M305.2 266.9h0M177.6 267h0M280.3 267.2h0M86.7 267.2h0M205.2 267.3h0M182.9 267.5h0M49.6 267.5h0M103.1 267.5h0M321.9 267.6h0M215.3 267.6h0M314.7 267.7h0M115.3 267.8h0M39.6 267.8h0M31.2 268.1h0M113.3 268.1h0M91.2 268.2h0M215.2 268.2h0M283.6 268.2h0M256.6 268.3h0M172.4 268.4h0M91.4 268.4h0M167.1 268.5h0M50.3 268.5h0M198.7 268.6h0M125.8 268.6h0M229.4 268.8h0M131.9 268.8h0M280.5 268.9h0M155.4 268.9h0M76 269h0M31.8 269h0M238 269h0M176.3 269.1h0M183.1 269.3h0M47.7 269.3h0M72.1 269.4h0M139.1 269.4h0M65.5 269.5h0M129.7 269.5h0M249.3 269.5h0M283.2 269.6h0M102.1 269.6h0M191 269.7h0M50.4 269.8h0M305 269.8h0M299.4 269.9h0M152.3 269.9h0M206.9 270h0M276.7 270h0M263 270.3h0M87 270.4h0M52.2 270.6h0M102.7 270.6h0M47 270.7h0M314 270.7h0M115.8 270.7h0M247.4 270.7h0M156.2 270.8h0M72.2 270.9h0M210.1 271h0M298.3 271.1h0M306.6 271.2h0M122.7 271.3h0M186.4 271.4h0M274.6 271.4h0M55.4 271.4h0M188 271.5h0M215.2 271.5h0M66.4 271.6h0M229.1 271.8h0M184.2 271.9h0M252.6 272h0M198.6 272h0M132.7 272h0M273.7 272.3h0M155.2 272.3h0M166.5 272.4h0M59.5 272.4h0M244.5 272.4h0M186.4 272.5h0M239.9 272.6h0M55.2 272.6h0M278.7 272.6h0M292.3 272.6h0M93.1 272.7h0M180 272.7h0M169.1 272.7h0M143.3 272.8h0M115.2 272.8h0M235.4 272.9h0M30.7 272.9h0M119 272.9h0M228.8 273.1h0M297.2 273.4h0M229.8 273.4h0M260.9 273.6h0M47.6 273.7h0M195.4 273.7h0M138.3 273.8h0M38.4 273.8h0M149.9 273.9h0M31.4 273.9h0M241.8 273.9h0M276.5 274h0M241.8 274.1h0M42.2 274.1h0M42.2 274.2h0M205.4 274.2h0M31.1 274.3h0M103.3 274.3h0M70.5 274.3h0M97.2 274.6h0M186.7 274.7h0M45.7 274.9h0M168.7 275h0M50.5 275.2h0M158.5 275.3h0M243.1 275.3h0M247.9 275.4h0M219.6 275.4h0M39.1 275.8h0M56.6 275.9h0M41.5 276h0M130.5 276h0M201.7 276.1h0M173.5 276.1h0M280.6 276.4h0M50.9 276.4h0M166.2 276.5h0M131.7 276.6h0M90.4 276.7h0M182.8 276.8h0M67.6 276.8h0M76.6 276.9h0M115.3 277h0M212.6 277h0M258.3 277.2h0M136 277.3h0M220.3 277.3h0M284.9 277.4h0M251.1 277.5h0M296.1 277.5h0M166.8 277.5h0M195.3 277.6h0M80 277.7h0M244.1 277.8h0M246.3 277.8h0M44.8 278h0M263.7 278h0M192.9 278.2h0M47.7 278.2h0M28.4 278.2h0M289 278.3h0M74.7 278.3h0M77.9 278.5h0M211.2 278.5h0M65.4 278.7h0M76.7 278.8h0M323 278.8h0M153.2 278.8h0M65.9 278.8h0M200.3 278.9h0M123.3 278.9h0M196.7 279h0M304.5 279.2h0M211.4 279.2h0M83 279.2h0M312.6 279.2h0M98.1 279.3h0M163.7 279.4h0M228.9 279.4h0M152.9 279.5h0M100.4 279.7h0M237.6 279.8h0M148.2 279.9h0M114.7 279.9h0M63.2 279.9h0M228.5 279.9h0M71.4 280h0M165.9 280.1h0M112.3 280.2h0M79.6 280.2h0M236.7 280.2h0M183.6 280.2h0M270.7 280.3h0M242.4 280.4h0M292.6 280.4h0M314.7 280.5h0M256.9 280.6h0M68.8 280.7h0M261 280.7h0M138.5 280.9h0M80.9 280.9h0M77 281h0M317.4 281.1h0M205.2 281.1h0M229.7 281.1h0M136.2 281.1h0M178.2 281.2h0M296.6 281.2h0M83.7 281.2h0M268.3 281.3h0M207 281.4h0M239.6 281.4h0M276 281.5h0M277.7 281.5h0M140.7 281.5h0M28.6 281.5h0M131.3 281.5h0M188.7 281.6h0M318.1 281.6h0M305.9 281.7h0M156.3 281.7h0M201.1 281.8h0M302.1 281.9h0M43.7 282h0M203.3 282h0M321.5 282.1h0M288.6 282.2h0M175.2 282.3h0M90.6 282.4h0M231.4 282.6h0M51.9 282.6h0M88.6 282.7h0M207.3 282.7h0M227 282.8h0M324.2 282.9h0M248.1 282.9h0M317.3 283h0M323.3 283h0M219.6 283h0M145.3 283.1h0M310.6 283.1h0M154.4 283.2h0M174 283.2h0M103.7 283.3h0M316 283.3h0M244.3 283.3h0M102 283.3h0M75.3 283.4h0M175.9 283.5h0M284.2 284h0M117.3 284h0M276.6 284.1h0M156.3 284.2h0M243.3 284.2h0M213.3 284.2h0M300.2 284.3h0M65.7 284.3h0M168.5 284.5h0M315.9 284.6h0M170 284.6h0M204.9 284.8h0M43.9 284.8h0M31.1 284.8h0M106.7 284.8h0M31 285.3h0M302.2 285.4h0M36 285.5h0M47.9 285.6h0M153.3 285.7h0M113.1 285.9h0M129.5 285.9h0M138.4 286h0M110.9 286h0M173.9 286.1h0M33.4 286.1h0M134.6 286.1h0M88.8 286.1h0M182.6 286.2h0M303.4 286.3h0M242.5 286.3h0M154.1 286.4h0M51 286.4h0M153 286.5h0M310.1 286.6h0M159.3 286.7h0M140.6 286.7h0M215.1 286.8h0M236 286.8h0M236 286.8h0M222.3 286.9h0M113.1 286.9h0M309.2 287.2h0M225.8 287.2h0M247.3 287.3h0M91.9 287.3h0M114.6 287.4h0M229.5 287.7h0M45.8 287.7h0M34.2 287.8h0M208.7 287.8h0M224.7 287.9h0M142.2 288h0M154.4 288h0M96.8 288.1h0M193.6 288.1h0M233.5 288.2h0M198.9 288.3h0M210.5 288.3h0M310.6 288.4h0M190.4 288.4h0M309.2 288.4h0M223.8 288.5h0M182.8 288.5h0M218 288.5h0M164.3 288.5h0M112.9 288.5h0M85.2 288.6h0M125.2 288.6h0M40.6 288.7h0M201.9 288.8h0M43.6 288.9h0M74.7 289h0M85.8 289.1h0M157.7 289.2h0M273.7 289.3h0M225.2 289.3h0M243.2 289.5h0M303.4 289.8h0M270.4 289.9h0M100.7 289.9h0M86.4 290h0M103 290h0M39.7 290h0M115.3 290.1h0M39.7 290.2h0M308.3 290.2h0M269.8 290.3h0M323.8 290.4h0M181.1 290.7h0M29.5 290.8h0M34.8 290.9h0M141.1 291h0M207.4 291.1h0M167.6 291.1h0M51.3 291.2h0M40.8 291.3h0M175.2 291.4h0M139.5 291.5h0M70.2 291.5h0M311.4 291.5h0M105.9 291.6h0M263.9 291.6h0M135.3 291.7h0M214.9 291.7h0M286.1 291.8h0M64.1 291.8h0M76.9 291.8h0M314.7 292h0M268.6 292h0M235.2 292h0M101.8 292.2h0M29.9 292.2h0M256.2 292.3h0M102.3 292.5h0M311.6 292.6h0M125.7 292.6h0M294.4 292.7h0M32.8 292.8h0M65.1 292.9h0M72 292.9h0M41.8 293.3h0M200.1 293.3h0M82.5 293.4h0M88.2 293.5h0M113.2 293.6h0M26.5 293.7h0M161.1 293.7h0M305.3 293.8h0M197.3 293.9h0M290.9 294h0M253.1 294.1h0M190.8 294.3h0M36.3 294.3h0M102.8 294.4h0M276.3 294.4h0M212.2 294.4h0M58.4 294.8h0M190.2 294.9h0M200.3 295h0M55.9 295.2h0M99.6 295.5h0M174 295.6h0M283.2 295.6h0M145.2 295.6h0M184.8 295.6h0M256.7 295.7h0M68 295.7h0M235.8 295.8h0M157.9 295.9h0M108.1 296.1h0M311.5 296.1h0M180.5 296.2h0M240.5 296.2h0M167.4 296.2h0M293.6 296.4h0M214.5 296.4h0M227.8 296.6h0M242 296.6h0M292.4 296.6h0M310.4 296.6h0M206.7 296.7h0M158.3 296.9h0M36.5 297h0M308.5 297.1h0M245.9 297.1h0M156.1 297.2h0M51.9 297.3h0M165.5 297.6h0M200.5 297.6h0M312.8 297.7h0M92.4 297.9h0M100.4 297.9h0M212.8 297.9h0M105.7 297.9h0M206.7 297.9h0M316.5 298h0M97.2 298.1h0M39.9 298.1h0M269.2 298.1h0M43.4 298.2h0M83.3 298.3h0M298.6 298.3h0M315 298.4h0M190.6 298.6h0M80.8 298.7h0M86.1 298.8h0M164.5 298.8h0M58.3 298.9h0M267.1 298.9h0M48.3 298.9h0M50.6 299h0M44.6 299.1h0M122.4 299.2h0M269.6 299.4h0M187 299.6h0M125.5 299.7h0M137.7 299.8h0M280.7 299.8h0M208.6 299.8h0M173.5 299.8h0M219.6 299.9h0M136.3 300.1h0M217.5 300.1h0M296.8 300.1h0M186.9 300.2h0M101 300.2h0M100.9 300.4h0M257.8 300.4h0M246.3 300.5h0M249.9 300.6h0M134.5 300.8h0M256.1 300.9h0M291 301h0M110.2 301h0M261.3 301.1h0M92.7 301.2h0M187.4 301.2h0M90.7 301.2h0M124.6 301.2h0M283.6 301.2h0M248.4 301.3h0M104.7 301.3h0M303.2 301.3h0M165.3 301.4h0M257.5 301.5h0M153 301.5h0M28.8 301.6h0M115.4 301.7h0M146.2 301.7h0M74.3 301.7h0M241.7 301.8h0M45.3 301.9h0M274.6 302h0M210.4 302h0M155.2 302.1h0M285.6 302.1h0M106.3 302.2h0M94.8 302.2h0M274.2 302.2h0M153.1 302.3h0M222.8 302.3h0M194.1 302.4h0M45.7 302.8h0M201.1 302.8h0M79.5 302.9h0M236.5 303.1h0M237.8 303.1h0M285.1 303.2h0M173.7 303.2h0M46.4 303.4h0M282.4 303.4h0M298.8 303.5h0M129.7 303.6h0M255.6 303.8h0M102.7 303.8h0M222 303.9h0M76.6 303.9h0M100.6 303.9h0M237.5 304h0M143.6 304h0M37.3 304.1h0M157.9 304.1h0M190.5 304.2h0M311.1 304.3h0M203.3 304.4h0M98.1 304.4h0M265 304.4h0M285.9 304.4h0M290.4 304.5h0M179.8 304.5h0M199.4 304.6h0M277.1 304.6h0M258.4 304.7h0M191 304.8h0M258.1 304.8h0M239.1 305.2h0M189.8 305.2h0M187.7 305.4h0M207.4 305.4h0M214.6 305.6h0M317.2 305.7h0M224.5 305.9h0M226.1 305.9h0M166 305.9h0M278.6 306h0M277.1 306.1h0M55.1 306.1h0M83.5 306.2h0M95.3 306.2h0M67.7 306.2h0M298.5 306.3h0M77.6 306.4h0M165.5 306.4h0M99.5 306.5h0M207.2 306.5h0M268.4 306.7h0M136.6 306.7h0M299.8 306.7h0M294.9 306.7h0M145.2 306.8h0M119.8 306.8h0M159.9 306.9h0M122.6 307h0M53.8 307.1h0M29.6 307.1h0M178.9 307.1h0M271.4 307.1h0M89.3 307.2h0M68.5 307.3h0M307.8 307.4h0M95.6 307.4h0M222.6 307.7h0M34.4 307.7h0M210.6 307.9h0M127.1 308h0M156.2 308h0M53.2 308.1h0M323.2 308.1h0M141.5 308.3h0M205.2 308.5h0M104.8 308.5h0M59.3 308.6h0M225.7 308.7h0M42 308.8h0M141.8 308.8h0M230.3 308.9h0M272 309h0M320.2 309.2h0M218.3 309.3h0M168.9 309.3h0M204.9 309.4h0M169.5 309.4h0M58.6 309.5h0M55.3 309.7h0M271.7 309.7h0M35.1 309.7h0M243.5 309.9h0M139.6 309.9h0M53.9 309.9h0M233.4 310h0M60 310.1h0M103.9 310.1h0M292.4 310.4h0M270.4 310.5h0M79.4 310.5h0M58.7 310.5h0M106.6 310.6h0M116.4 310.6h0M293.6 310.8h0M96.8 310.9h0M204 311h0M74.4 311.1h0M128.8 311.1h0M48.4 311.3h0M267.7 311.3h0M114.8 311.3h0M58.9 311.3h0M32.6 311.4h0M273.7 311.5h0M86.7 311.6h0M180.5 311.6h0M82.9 311.8h0M116.5 311.9h0M253.9 311.9h0M88.7 312h0M151.9 312.1h0M93 312.1h0M283 312.2h0M83.6 312.3h0M103.9 312.3h0M139.4 312.3h0M117 312.4h0M53.6 312.5h0M202.6 312.6h0M283.3 312.7h0M227.1 312.7h0M122 312.8h0M284 312.8h0M289.2 313h0M93.9 313.1h0M178.7 313.1h0M253.7 313.2h0M170.5 313.7h0M94.9 313.8h0M43.3 313.8h0M150.2 314h0M217.2 314h0M306.9 314.1h0M195.3 314.1h0M191 314.6h0M198.5 314.6h0M63.8 314.7h0M237 314.8h0M218.7 314.9h0M257 314.9h0M205 314.9h0M192.3 315h0M198.7 315h0M284.2 315.2h0M136.3 315.7h0M74.8 315.7h0M76.7 315.7h0M244.5 315.7h0M94.7 315.9h0M35.3 316h0M245.1 316.4h0M169 316.5h0M223.4 316.5h0M252.1 316.6h0M66.7 316.6h0M145.4 316.6h0M132.5 316.6h0M82.5 316.7h0M318.8 316.8h0M133.8 316.9h0M313.1 316.9h0M223.1 316.9h0M140.1 317h0M271 317h0M75 317.1h0M180.7 317.3h0M187.7 317.4h0M322.4 317.5h0M99.8 317.6h0M80.6 317.8h0M164.5 317.9h0M275.4 318h0M164.8 318.1h0M30.6 318.2h0M26.3 318.2h0M104.4 318.3h0M174.7 318.4h0M80.7 318.6h0M287.1 318.6h0M132 318.7h0M196.7 319h0M267.8 319h0M260.2 319h0M174.1 319h0M269.4 319.1h0M43.1 319.2h0M283.6 319.2h0M197.2 319.3h0M95.3 319.4h0M92.8 319.4h0M305.1 319.6h0M242.4 319.7h0M33.7 319.7h0M270.4 319.7h0M124.2 319.9h0M246.8 320h0M39.9 320h0M109 320h0M214.5 320h0M278.6 320.1h0M131.9 320.1h0M276.3 320.5h0M298 320.6h0M247.4 320.7h0M176.7 320.9h0M168 320.9h0M176.4 320.9h0M41.4 321h0M45.2 321h0M246.9 321.1h0M253.3 321.3h0M67 321.5h0M99.6 321.5h0M184.7 321.7h0M269.4 321.7h0M132.4 321.8h0M116.2 321.9h0M182.5 321.9h0M309.9 322h0M145.1 322.2h0M80.3 322.2h0M275.8 322.2h0M120.6 322.2h0M233 322.2h0M140.5 322.3h0M106.8 322.5h0M136.6 322.5h0M61.9 322.6h0M116.3 322.6h0M28.8 322.6h0M93.8 322.7h0M236.2 323.2h0M273 323.2h0M263 323.3h0M288.2 323.3h0M81.8 323.4h0M270 323.4h0M293.9 323.5h0M315.4 323.6h0M186.8 323.7h0M274 323.7h0M281.8 323.8h0M80.2 323.9h0M85.7 323.9h0M47.6 323.9h0M125.9 324.1h0M62.6 324.2h0M87.6 324.2h0M175.8 324.2h0M304.3 324.3h0M299.2 324.4h0M54.8 324.4h0M254.8 324.7h0M26.1 324.7h0M312.1 324.8h0M78.6 324.8h0M39.7 325h0M163 325.1h0M311.3 325.1h0M146.5 325.4h0M248.8 325.4h0M61.5 325.4h0M298 325.4h0M46.4 325.5h0M257.4 325.5h0M35.2 325.6h0M254.9 325.6h0M55.7 325.6h0M143.7 325.6h0M278.4 325.6h0M118.3 325.7h0M255.5 325.7h0M55.7 325.8h0M159.3 325.8h0M265.2 325.9h0M223.4 325.9h0M124 325.9h0M317.5 326.2h0M48.3 326.2h0M273.2 326.4h0M257.1 326.6h0M189.9 326.7h0M315.2 326.7h0M220.9 326.8h0M290 326.9h0M56.6 327h0M130.7 327h0M195.8 327.2h0M106.1 327.3h0M277 327.4h0M199.4 327.5h0M28.3 327.5h0M51.7 327.6h0M197 327.8h0M141.9 327.9h0M184.8 328h0M53.5 328h0M166.1 328h0M99.3 328.1h0M93.5 328.1h0M206.1 328.3h0M170.5 328.4h0M194.6 328.6h0M68.1 328.7h0M122.7 329.1h0M174.5 329.2h0M47.1 329.4h0M219.1 329.4h0M58.6 329.5h0M227.8 329.6h0M76.7 329.8h0M179.4 329.8h0M225.8 329.9h0M237.2 329.9h0M323.4 330h0M291.9 330.1h0M94.3 330.5h0M143.1 330.7h0M197.1 330.7h0M144.8 330.7h0M202.2 330.9h0M300.4 331h0M97.4 331h0M235.4 331.1h0M69 331.1h0M202.2 331.2h0M159 331.2h0M240 331.4h0M278.2 331.5h0M172.1 331.5h0M223.6 331.6h0M110.4 331.7h0M31.3 331.7h0M76.2 331.7h0M207.3 331.8h0M130.5 331.9h0M161.9 332.1h0M290.6 332.2h0M310.5 332.3h0M114.7 332.5h0M239.3 332.5h0M140.6 332.5h0M96.3 332.6h0M302.3 332.6h0M215.8 332.8h0M38.6 332.9h0M250.8 333h0M205.4 333h0M43.1 333.1h0M261.2 333.3h0M82.6 333.4h0M155.7 333.6h0M122 333.8h0M67.8 333.8h0M199.5 333.9h0M167.9 334h0M141.6 334h0M112.5 334.1h0M98.9 334.2h0M321.7 334.3h0M82.1 334.4h0M221.6 334.6h0M285.8 334.8h0M69.6 334.8h0M146.2 334.8h0M214.4 334.8h0M299.2 334.8h0M62.1 334.8h0M265.4 334.9h0M100.6 335h0M29.1 335.3h0M233.2 335.5h0M237.7 335.6h0M143.2 335.7h0M79.2 335.8h0M206.5 335.9h0M51 335.9h0M311.5 336h0M315.9 336h0M229 336.3h0M246.3 336.3h0M82 336.4h0M274.3 336.4h0M144 336.4h0M282.7 336.8h0M103.6 336.8h0M177.5 336.8h0M317.4 336.9h0M82.6 336.9h0M175 337h0M84.3 337.3h0M126.7 337.5h0M323.1 337.5h0M107.4 337.5h0M185 337.6h0M85.1 338.2h0M33.3 338.3h0M272.6 338.3h0M290.6 338.4h0M57.4 338.4h0M141.6 338.4h0M275 338.5h0M28.4 339.1h0M116.4 339.2h0M315.9 339.2h0M261.1 339.2h0M190.2 339.3h0M234.7 339.4h0M237.6 339.4h0M299.2 339.4h0M231.5 339.5h0M249.7 339.5h0M300.6 339.7h0M168 339.8h0M224.6 339.9h0M296.9 340h0M200 340h0M94.9 340.2h0M80.9 340.2h0M120.1 340.4h0M116.8 340.5h0M166.8 340.5h0M74.6 340.7h0M169.1 340.8h0M292.7 340.8h0M143.6 340.9h0M168.8 340.9h0M295.8 340.9h0M47.4 340.9h0M127.6 340.9h0M214 341h0M295.5 341h0M41.4 341.2h0M163.8 341.2h0M105.7 341.4h0M109 341.5h0M249.6 341.5h0M171.9 341.5h0M126.1 341.6h0M220.4 341.6h0M68.5 341.7h0M261.3 341.8h0M120 341.8h0M275.8 341.8h0M211.6 341.8h0M82 341.8h0M112 341.9h0M63.6 341.9h0M158.5 341.9h0M68.3 342h0M304.9 342h0M121.8 342.2h0M64.1 342.3h0M321.6 342.4h0M273 342.4h0M100.2 342.4h0M130.6 342.4h0M285.2 342.5h0M191.9 342.6h0M216.5 342.6h0M242.9 342.7h0M308.8 342.7h0M253.2 342.8h0M124.7 342.8h0M158.5 342.8h0M220.3 342.9h0M202.4 342.9h0M149.9 342.9h0M314.6 343h0M196.5 343h0M285.7 343.2h0M220.6 343.3h0M228.7 343.3h0M46.9 343.4h0M242.1 343.4h0M58 343.5h0M294.6 343.6h0M214.2 343.6h0M67 343.8h0M191.8 344.2h0M107.7 344.3h0M189.5 344.4h0M289.3 344.6h0M186.8 344.7h0M171.7 344.8h0M217.5 344.8h0M209 345.1h0M245.3 345.1h0M121.4 345.1h0M298.4 345.1h0M63.8 345.3h0M228.7 345.3h0M46.7 345.4h0M240.3 345.4h0M229.7 345.7h0M202.4 345.7h0M265.1 345.7h0M127.9 345.8h0M46.2 346.2h0M219.3 346.3h0M263.5 346.6h0M155 346.7h0M183.8 346.7h0M313.2 346.8h0M156.2 346.9h0M207.7 346.9h0M289.9 347.1h0M254.8 347.2h0M319.5 347.2h0M91.5 347.2h0M109.6 347.2h0M241.5 347.2h0M256.9 347.3h0M59.1 347.3h0M302.8 347.5h0M280.7 347.5h0M192.4 347.7h0M180.5 347.7h0M121.2 347.8h0M91.4 347.9h0M306.6 347.9h0M122.7 348h0M260.8 348h0M87.6 348h0M114.4 348h0M244.6 348.2h0M303.5 348.2h0M47.2 348.3h0M190.8 348.3h0M210 348.3h0M301.9 348.4h0M129.4 348.4h0M192.2 348.4h0M200.8 348.6h0M206.7 348.6h0M241.3 348.8h0M46.6 348.8h0M172.6 348.8h0M149 348.8h0M44.1 348.8h0M200.3 348.9h0M44.6 349h0M238.8 349h0M103.3 349h0M245.8 349.1h0M255.4 349.1h0M284 349.3h0M152.6 349.3h0M171.2 349.4h0M282.2 349.4h0M248.5 349.5h0M122.9 349.6h0M141.6 349.6h0M82.1 349.6h0M317.2 349.8h0M180.6 350.1h0M94.7 350.1h0M245.7 350.3h0M157.4 350.3h0M259.1 350.4h0M68.1 350.4h0M157.3 350.5h0M192.2 350.5h0M210.6 350.5h0M231.3 350.5h0M249.8 350.6h0M316.3 350.7h0M135.5 350.7h0M319.1 350.8h0M311.5 350.9h0M95.7 351h0M140.5 351h0M279.4 351.1h0M82.3 351.3h0M219.5 351.3h0M54.2 351.4h0M109.9 351.4h0M86.3 351.5h0M117.3 351.5h0M45.6 351.6h0M66.7 351.8h0M59.6 351.8h0M304 351.8h0M304.8 351.8h0M272.1 351.9h0M90.4 351.9h0M139.1 351.9h0M79 352h0M99.7 352.1h0M319.5 352.3h0M317.6 352.3h0M322 352.4h0M167.9 352.4h0M38.2 352.6h0M309.9 352.6h0M274.4 352.9h0M277.5 352.9h0M256 353.1h0M324.3 353.1h0M180.1 353.2h0M192.1 353.2h0M83.9 353.3h0M301.5 353.4h0M102.5 353.5h0M65.7 353.6h0M102.3 353.6h0M285.6 353.7h0M290.9 353.7h0M70.4 353.9h0M309.8 353.9h0M36.8 353.9h0M164 353.9h0M127 354h0M105.9 354.2h0M198.6 354.2h0M255.1 354.2h0M52.1 354.2h0M270.7 354.4h0M92.5 354.6h0M264.5 354.7h0M274.3 354.8h0M69 354.9h0M90.8 354.9h0M277.6 354.9h0M121.1 355.1h0M215.7 355.1h0M96.8 355.1h0M273.5 355.5h0M197.4 355.7h0M273.7 355.9h0M118.6 355.9h0M162.2 355.9h0M60.2 356h0M231.1 356.1h0M152.4 356.1h0M84.6 356.2h0M141.7 356.3h0M118.4 356.3h0M71.1 356.4h0M230.6 356.5h0M44.8 356.5h0M166.7 356.5h0M104.9 356.6h0M309.4 356.6h0M40.4 356.6h0M134.1 356.8h0M49.2 356.8h0M315.7 356.8h0M124.1 356.9h0M303.3 356.9h0M196.1 357h0M307.5 357h0M263 357.1h0M128 357.1h0M188.2 357.2h0M177.6 357.3h0M81.3 357.3h0M45.1 357.4h0M161 357.5h0M76.7 357.7h0M77.1 358h0M217.6 358h0M130.4 358h0M204.5 358.1h0M234.6 358.1h0M219.3 358.2h0M172.5 358.2h0M95.2 358.2h0M101.6 358.2h0M72.1 358.2h0M91.2 358.3h0M275.8 358.3h0M185.9 358.4h0M154.4 358.5h0M57.5 358.8h0M309.3 358.8h0M124.2 358.9h0M221.2 358.9h0M134.4 358.9h0M202.1 359.1h0M165.2 359.2h0M137 359.3h0M221.3 359.3h0M62.1 359.5h0M205.7 359.7h0M86.9 359.8h0M234.9 359.8h0M183.8 359.9h0M94.7 359.9h0M157.4 360h0M43.9 360.2h0M96.8 360.2h0M292.5 360.2h0M128.8 360.2h0M144.4 360.3h0M31.8 360.6h0M87.7 360.8h0M106.2 360.8h0M272 360.8h0M139.5 360.9h0M235.2 361h0M144.6 361h0M170.3 361h0M79.2 361h0M56.8 361h0M273.4 361.1h0M96.7 361.1h0M245.2 361.2h0M283.5 361.3h0M183.2 361.3h0M225.1 361.4h0M197.7 361.5h0M185 361.5h0M293.4 361.5h0M92 361.7h0M151.4 361.8h0M97 361.8h0M177.1 361.8h0M135.4 361.9h0M138.3 361.9h0M174 362h0M279.9 362.1h0M289.9 362.3h0M135.7 362.4h0M302.7 362.4h0M104.3 362.5h0M257.6 362.5h0M139.4 362.6h0M170.4 362.7h0M133.3 362.8h0M296 362.8h0M307.3 362.9h0M282.3 363h0M261.2 363h0M214.3 363.2h0M266.9 363.3h0M142.7 363.3h0M147.4 363.3h0M285.4 363.5h0M88.2 363.5h0M71.6 363.5h0M305.4 363.5h0M113.8 363.6h0M114.4 363.7h0M68.3 363.9h0M277.8 363.9h0M95.3 363.9h0M150.9 364h0M151.1 364.1h0M48.3 364.1h0M207.6 364.2h0M242 364.2h0M166.5 364.2h0M224.8 364.3h0M250.9 364.3h0M65.8 364.3h0M122.2 364.3h0M28.7 364.4h0M265.3 364.5h0M261.9 364.6h0M224.4 364.6h0M263.2 364.7h0M153.8 364.7h0M284.9 364.8h0M196 364.8h0M73.3 364.8h0M307.7 364.9h0M34.4 364.9h0M206.3 364.9h0M185.8 364.9h0M39.6 365h0M35.1 365h0M196 365.1h0M42.7 365.3h0M190.9 365.4h0M151.3 365.7h0M233.4 365.8h0M268.9 365.9h0M238.9 366h0M62.1 366.1h0M115 366.2h0M269.9 366.3h0M207.3 366.3h0M123.2 366.3h0M42 366.3h0M206.2 366.5h0M261.3 366.7h0M172.7 366.9h0M77.8 366.9h0M232.6 367h0M65.6 367h0M162.2 367h0M59 367.1h0M110 367.2h0M205.2 367.4h0M214.6 367.4h0M86.5 367.4h0M132.4 367.4h0M105.7 367.4h0M88.8 367.5h0M37.5 367.5h0M227.1 367.6h0M184.6 367.7h0M43.8 367.8h0M226.8 367.8h0M80.8 368h0M37.3 368h0M308.5 368.1h0M157.1 368.3h0M159.9 368.3h0M231.5 368.3h0M207.2 368.4h0M28.5 368.4h0M311.6 368.5h0M210.7 368.6h0M97.5 368.6h0M172.5 368.6h0M261.8 368.6h0M35.7 368.7h0M105.7 368.7h0M67.1 368.7h0M199.6 368.8h0M71.7 368.8h0M81.7 368.8h0M188.9 368.9h0M256.3 368.9h0M90.8 369.3h0M131.7 369.3h0M317 369.3h0M301.8 369.4h0M137.5 369.4h0M46.6 369.6h0M107.6 369.6h0M210.7 369.6h0M173.2 369.6h0M248.2 369.6h0M124.6 369.7h0M292.7 369.8h0M201.5 369.8h0M120.5 369.8h0M235.9 369.9h0M261.3 369.9h0M121.4 370h0M241.1 370.1h0M72.5 370.2h0M294.4 370.3h0M307.9 370.4h0M233.9 370.4h0M212.2 370.6h0M156.7 370.6h0M92.7 370.7h0M228.6 370.7h0M49.5 370.7h0M170.7 370.9h0M80.5 370.9h0M195.4 371.1h0M156 371.1h0M221.9 371.2h0M141.9 371.3h0M157.7 371.3h0M63.6 371.3h0M125.5 371.4h0M104.2 371.7h0M46.6 371.7h0M82.2 371.8h0M180.6 372.2h0M163.6 372.2h0M125.8 372.2h0M44.5 372.2h0M35.8 372.3h0M75.2 372.3h0M105.9 372.4h0M167.2 372.4h0M300.8 372.4h0M42.5 372.4h0M300.2 372.5h0M35.8 372.6h0M295.5 372.7h0M148.3 372.7h0M47.9 372.7h0M309.9 372.7h0M93.6 373h0M147.2 373h0M306.3 373.1h0M48.9 373.1h0M89.7 373.3h0M229.9 373.3h0M199.8 373.3h0M171.6 373.3h0M110.4 373.4h0M239.7 373.4h0M273.2 373.6h0M187.7 373.6h0M230.8 373.8h0M321.6 374.3h0M206.2 374.3h0M159.3 374.4h0M263.8 374.5h0M255.6 374.5h0M137.6 374.6h0M118.2 374.8h0M122.7 374.8h0M140 374.8h0M89.4 375h0M272.6 375h0M313.6 375.1h0M143 375.2h0M42.9 375.2h0M166.1 375.2h0M318 375.2h0M33 375.4h0M143.1 375.4h0M320.2 375.4h0M229.2 375.5h0M211.8 375.5h0M138.9 375.5h0M95.4 375.7h0M121.5 375.8h0M201.4 375.8h0M287 375.8h0M258.5 375.8h0M76.1 375.8h0M283.9 376h0M252.9 376.1h0M52.8 376.2h0M99.8 376.3h0M261.7 376.4h0M263 376.5h0M86.8 376.6h0M127.2 376.6h0M43.9 376.6h0M246.8 376.7h0M39.9 376.8h0M192.1 376.9h0M121.6 376.9h0M162.3 376.9h0M127.5 376.9h0M288.6 377h0M189 377.2h0M116.3 377.3h0M300.7 377.4h0M256.9 377.5h0M64.9 377.6h0M97.7 377.7h0M250.3 377.7h0M74.9 377.8h0M206.6 377.8h0M130.2 377.9h0M263.6 377.9h0M35.7 377.9h0M116.3 378h0M292.1 378h0M245.7 378.2h0M188.2 378.3h0M102.3 378.4h0M65.7 378.5h0M123.9 378.7h0M163.8 378.8h0M181 378.8h0M125 378.8h0M295.7 378.9h0M60.5 378.9h0M204.4 378.9h0M111.5 378.9h0M229.8 379h0M130.8 379h0M200.7 379h0M80.5 379h0M42.2 379.1h0M72.5 379.1h0M68 379.1h0M169.2 379.2h0M165.4 379.2h0M218.1 379.2h0M34.7 379.4h0M115.7 379.5h0M271.8 379.5h0M156.3 379.7h0M178 379.7h0M232.8 379.7h0M276.7 379.7h0M69.4 379.8h0M145.2 379.9h0M260 379.9h0M204.2 379.9h0M82.1 380h0M202.7 380.1h0M126.2 380.1h0M66.1 380.2h0M243.1 380.4h0M34.7 380.4h0M258.9 380.5h0M34.1 380.5h0M133.3 380.6h0M271.8 380.6h0M290.1 380.7h0M35.7 380.8h0M206.1 380.8h0M66.7 380.8h0M47.8 380.9h0M316.2 380.9h0M44.7 381h0M128.9 381h0M286.1 381.1h0M37.9 381.1h0M183 381.2h0M162.7 381.3h0M45.2 381.3h0M167.8 381.4h0M164.1 381.5h0M88.1 381.5h0M300.1 381.7h0M269.9 381.7h0M189.5 381.8h0M26 381.8h0M281.9 381.8h0M127.4 381.8h0M29.4 381.9h0M64.5 382h0M246.9 382h0M138.4 382h0M41.7 382h0M158.8 382.1h0M283.4 382.1h0M314.3 382.3h0M74.2 382.6h0M121.1 382.6h0M147 382.6h0M260.7 382.9h0M286.6 382.9h0M174.8 382.9h0M92.9 383.1h0M56 383.1h0M292.2 383.1h0M239 383.2h0M98.4 383.3h0M58.1 383.3h0M101.6 383.4h0M59 383.7h0M210.7 383.7h0M233.6 383.7h0M288.6 383.7h0M273.5 383.7h0M59.4 383.8h0M161.2 384h0M323.3 384.1h0M128.8 384.2h0M204.2 384.3h0M225.5 384.3h0M236.1 384.4h0M318.9 384.5h0M98.8 384.5h0M321.7 384.5h0M87 384.5h0M178.7 384.6h0M237.4 384.7h0M95.5 385h0M310.9 385h0M83.2 385h0M297 385.1h0M58.1 385.2h0M242.3 385.2h0M63.7 385.4h0M129.2 385.6h0M73.2 385.6h0M312.8 385.7h0M264 385.7h0M51.3 385.8h0M215.6 385.9h0M173.4 386h0M237.8 386h0M293 386.1h0M255.4 386.1h0M236.7 386.1h0M136.5 386.1h0M61.9 386.3h0M55.4 386.3h0M33 386.4h0M191.2 386.4h0M120.3 386.6h0M200.7 386.8h0M145.1 386.8h0M210.8 386.8h0M177.6 387.1h0M51.6 387.1h0M271.9 387.2h0M300.1 387.3h0M105.5 387.3h0M35.1 387.5h0M79.9 387.5h0M150 387.5h0M309.1 387.7h0M98.5 387.8h0M254.8 387.9h0M155.3 387.9h0M218.9 387.9h0M231.6 387.9h0M321.4 388h0M75.4 388h0M42.5 388.1h0M157.9 388.1h0M33.3 388.1h0M157 388.2h0M110.9 388.2h0M254.2 388.2h0M48.2 388.3h0M283.2 388.4h0M59 388.4h0M86.4 388.4h0M54.3 388.5h0M58.7 388.8h0M33.6 388.8h0M277.3 388.9h0M145.2 388.9h0M250.4 389.1h0M219.9 389.2h0M177 389.3h0M166 389.4h0M46.8 389.6h0M279.6 389.6h0M277.5 389.6h0M81.3 389.6h0M59.8 389.7h0M176 389.9h0M70.5 389.9h0M76.4 390h0M88.7 390h0M81.1 390.1h0M169.3 390.1h0M154.5 390.2h0M155.7 390.2h0M151 390.3h0M190.1 390.4h0M128.6 390.5h0M34.4 390.7h0M315.4 390.9h0M317.2 391.1h0M97.9 391.1h0M265.8 391.2h0M43.5 391.2h0M192.8 391.2h0M78.2 391.3h0M291.8 391.4h0M231.7 391.4h0M268.1 391.5h0M248.2 391.5h0M99.7 391.6h0M135.5 391.6h0M129.4 391.7h0M126.5 391.7h0M145.2 391.7h0M209.6 391.7h0M249.2 391.8h0M191.4 392h0M213.2 392h0M216.8 392.1h0M143.7 392.1h0M237.2 392.2h0M188.4 392.2h0M174.2 392.2h0M133.7 392.2h0M63.1 392.2h0M69.5 392.3h0M319.9 392.4h0M185.1 392.4h0M274.4 392.6h0M300.5 392.6h0M241.3 392.6h0M314.7 392.6h0M73.3 392.7h0M175.3 392.8h0M131 392.9h0M37.7 393h0M148.7 393.2h0M197 393.2h0M322 393.3h0M119.1 393.3h0M316.2 393.3h0M311.3 393.4h0M271.3 393.5h0M174.6 393.5h0M199.6 393.5h0M210.6 393.6h0M138.9 393.6h0M284.5 393.8h0M79.8 394h0M321.5 394h0M226.1 394.1h0M205 394.1h0M309.5 394.3h0M91.3 394.5h0M138.7 394.5h0M39.5 394.7h0M258.1 394.7h0M128.1 394.9h0M241 395h0M101 395h0M312.4 395h0M162.3 395h0M48.5 395h0M130.6 395.1h0M319.9 395.1h0M302.6 395.1h0M110.7 395.1h0M213.8 395.2h0M164.7 395.3h0M314.2 395.4h0M225 395.4h0M277.2 395.6h0M278.1 395.6h0M195.3 395.8h0M257.7 395.8h0M172.1 395.8h0M57 395.9h0M31.6 395.9h0M209.1 396h0M226.5 396h0M55.2 396h0M189.4 396h0M75.9 396.1h0M98.2 396.2h0M281 396.3h0M74.3 396.3h0M170.9 396.3h0M211.1 396.4h0M46 396.4h0M90.6 396.5h0M321.1 396.6h0M139.2 396.7h0M112.7 396.8h0M55.1 396.8h0M35 396.9h0M293.2 396.9h0M183.1 396.9h0M145.1 396.9h0M126.4 396.9h0M278.8 396.9h0M318.6 397h0M136.9 397h0M188.1 397.1h0M162 397.2h0M44.1 397.3h0M117.6 397.3h0M163.4 397.4h0M190.9 397.4h0M73.8 397.4h0M316.9 397.5h0M183.7 397.6h0M36 397.7h0M263.9 397.7h0M112.4 397.9h0M127.2 397.9h0M245.9 398.2h0M261.9 398.3h0M290.9 398.3h0M104.3 398.4h0M225.9 398.5h0M95.5 398.5h0M84.4 398.5h0M292.3 398.5h0M193.5 398.5h0M122.7 398.7h0M132.7 398.9h0M38.1 399.1h0M307 399.1h0M231 399.1h0M189.4 399.2h0M117.7 399.2h0M294 399.2h0M255.9 399.3h0M54.9 399.5h0M202.6 399.5h0M226.9 399.8h0M255.1 399.9h0M46.7 400h0M146.7 400.1h0M141.4 400.2h0M267.4 400.3h0M110.8 400.4h0M91.6 400.4h0M225.3 400.4h0M99.2 400.5h0M30 400.7h0M91.3 400.8h0M85.5 400.9h0M78.1 400.9h0M163.6 401.1h0M272.6 401.1h0M161 401.2h0M310.4 401.3h0M223.8 401.4h0M180.1 401.8h0M285.3 401.8h0M134.4 401.9h0M36.7 402.1h0M35.8 402.2h0M149 402.3h0M70.2 402.4h0M188.3 402.5h0M144.9 402.5h0M65.2 402.5h0M167.8 402.6h0M243.7 402.6h0M105.7 402.7h0M295.7 402.7h0M122.8 402.7h0M130.9 402.8h0M195 402.8h0M57 403h0M166.5 403.1h0M237.8 403.3h0M199 403.5h0M201.1 403.6h0M271.2 403.6h0M105.6 403.7h0M195.8 403.8h0M206.1 403.9h0M316.7 404h0M280.2 404h0M123.2 404.2h0M131.5 404.2h0M224.7 404.2h0M170.5 404.3h0M259.1 404.3h0M250 404.4h0M121 404.4h0M253.7 404.5h0M320.9 404.6h0M199.3 405.1h0M199.2 405.3h0M156.9 405.3h0M186.3 405.4h0M64.6 405.5h0M85.8 405.5h0M196.9 405.7h0M97.5 405.7h0M258.4 405.7h0M272.6 405.7h0M178.7 405.8h0M88.1 405.9h0M53.7 405.9h0M55.2 405.9h0M112.6 406.1h0M199.9 406.1h0M66.6 406.4h0M249.3 406.5h0M184.7 406.6h0M199.8 406.6h0M44.3 406.6h0M87.7 406.7h0M27 406.8h0M166 406.8h0M247.6 406.9h0M48.2 407h0M155 407.1h0M320.4 407.1h0M318.7 407.1h0M276.7 407.2h0M319.3 407.2h0M129.1 407.3h0M73.8 407.4h0M233.2 407.4h0M245.9 407.4h0M174.9 407.5h0M94.3 407.5h0M98 407.6h0M217.5 407.7h0M209.2 407.8h0M240.7 407.8h0M34.3 407.9h0M276.8 408.1h0M64.8 408.1h0M312.5 408.2h0M206.4 408.2h0M56 408.5h0M86 408.5h0M234.6 408.6h0M44.2 408.6h0M181.9 408.7h0M207.3 408.7h0M186.2 408.7h0M123.4 408.8h0M112.3 408.8h0M247.7 409h0M283.8 409.2h0M236.6 409.3h0M277.5 409.3h0M160.8 409.3h0M242.7 409.4h0M105 409.4h0M244 409.4h0M147.4 409.4h0M32.1 409.6h0M82.5 409.8h0M204.4 409.9h0M191.6 410h0M247.4 410.1h0M43 410.2h0M94.5 410.2h0M165.8 410.2h0M251.3 410.3h0M149.1 410.3h0M92 410.3h0M157.4 410.3h0M90.8 410.4h0M284.9 410.4h0M26.5 410.6h0M166.1 410.6h0M46.1 410.7h0M31.4 410.7h0M270 410.8h0M229.8 410.8h0M160.4 410.9h0M100.3 410.9h0M114.9 410.9h0M189.2 410.9h0M101.2 411h0M209.5 411h0M240.7 411h0M97.3 411h0M230.3 411h0M75.3 411h0M106.8 411.3h0M266.2 411.5h0M170.3 411.5h0M223.4 411.6h0M40.8 411.7h0M307.5 411.7h0M261.3 411.7h0M198 411.7h0M159 411.8h0M270 411.9h0M38.6 411.9h0M254.4 411.9h0M260.6 412h0M81.9 412h0M90.1 412h0M204.5 412.2h0M172.8 412.3h0M303.2 412.3h0M157.5 412.4h0M59.3 412.5h0M297.2 412.6h0M300.5 412.7h0M259.3 412.7h0M289 412.7h0M117.4 412.9h0M45.5 412.9h0M191.1 412.9h0M82.5 413h0M125.3 413h0M305.7 413.1h0M82.8 413.1h0M218.3 413.2h0M280.1 413.3h0M290.7 413.3h0M42.7 413.3h0M211.1 413.3h0M73 413.4h0M79.1 413.5h0M301.1 413.6h0M56.6 413.6h0M233 413.7h0M47.7 413.7h0M210.7 413.7h0M105.1 413.8h0M257.6 413.9h0M124.2 414.1h0M174.2 414.1h0M45.9 414.1h0M306.9 414.1h0M35.4 414.1h0M192.1 414.2h0M260.3 414.3h0M224.2 414.4h0M133.4 414.6h0M62 414.8h0M183.1 414.9h0M80.4 414.9h0M129.2 415h0M121.7 415h0M176.2 415.4h0M219.2 415.7h0M42.3 415.9h0M201.5 415.9h0M298.3 416h0M298.6 416h0M193.5 416h0M253.2 416h0M115.8 416h0M104.7 416.1h0M72.8 416.1h0M35.1 416.1h0M57.2 416.2h0M49 416.2h0M235.3 416.3h0M244.3 416.4h0M303.8 416.5h0M256.1 416.5h0M107.3 416.6h0M213.4 416.6h0M275.8 416.7h0M197.8 416.7h0M225.5 416.7h0M65.5 416.7h0M164.5 416.7h0M205.3 416.9h0M189.4 416.9h0M210.1 416.9h0M115.9 417.1h0M134.4 417.6h0M189 417.6h0M255.7 417.7h0" stroke="#46ea2b" stroke-width="1.4" stroke-linecap="square" fill="none"/>
<path d="M93.5 213.1h0M272.5 213.3h0M222.5 213.3h0M168.5 213.4h0M35.4 213.5h0M254.9 213.6h0M101.5 213.8h0M82.2 213.8h0M248.3 213.9h0M264.4 213.9h0M140.3 214h0M55.5 214.1h0M105 214.2h0M271.3 214.2h0M152.6 214.4h0M45.3 214.6h0M73.8 214.8h0M172.1 214.8h0M320 214.8h0M176.6 214.9h0M31.6 215h0M207.7 215.1h0M292.2 215.2h0M82.1 215.3h0M248.6 215.3h0M267.5 215.5h0M26.1 215.6h0M225 215.6h0M98.1 215.6h0M238.9 215.8h0M106.8 215.9h0M129.1 216h0M320.3 216h0M55 216.1h0M170 216.3h0M207.4 216.3h0M125.2 216.3h0M174.6 216.4h0M257.9 216.5h0M139.5 216.5h0M74.8 216.5h0M53 216.6h0M196.4 216.7h0M316.7 216.8h0M173.5 217h0M116 217.1h0M305.1 217.1h0M154.6 217.1h0M62.2 217.2h0M222.8 217.2h0M44.2 217.3h0M103.1 217.6h0M218.1 217.7h0M87.8 217.8h0M128.5 217.8h0M61.2 217.8h0M30.6 217.8h0M31.1 217.9h0M99.2 217.9h0M51 218h0M108 218h0M260.9 218.2h0M273.4 218.5h0M57.5 218.5h0M317.4 218.5h0M292.2 218.6h0M249.7 218.6h0M59.9 218.6h0M293.4 218.7h0M89.2 218.8h0M138.2 218.8h0M34 218.8h0M317.4 218.8h0M49.7 218.8h0M261.5 218.8h0M112 219h0M205.7 219.1h0M156.5 219.3h0M49.8 219.3h0M306.6 219.3h0M77.6 219.4h0M233.8 219.5h0M266.2 219.5h0M29.1 219.7h0M203.9 219.7h0M35.9 219.7h0M84.9 219.8h0M40.5 219.8h0M110.6 219.9h0M38.6 220h0M45.6 220h0M105.8 220.1h0M240.3 220.1h0M115.7 220.1h0M245.4 220.2h0M120.2 220.2h0M190.4 220.2h0M239.3 220.3h0M71.9 220.3h0M234.3 220.3h0M278.7 220.3h0M282.8 220.4h0M86 220.5h0M70 220.6h0M123.3 220.6h0M83 220.7h0M97.8 220.8h0M141 220.8h0M297.4 220.8h0M274.7 220.9h0M318 221.2h0M209.5 221.2h0M240.8 221.4h0M78.7 221.7h0M315.5 221.9h0M140.6 221.9h0M321.9 222h0M222.7 222.1h0M316.6 222.1h0M197.7 222.1h0M194.9 222.2h0M227.9 222.2h0M313.8 222.2h0M308.1 222.3h0M242.1 222.3h0M55.6 222.3h0M61 222.4h0M195.8 222.6h0M47.1 222.7h0M37.5 222.7h0M160.4 222.8h0M141.4 222.9h0M109.9 223h0M156 223h0M41.2 223.1h0M141.7 223.3h0M286.4 223.5h0M315.6 223.5h0M187.6 223.6h0M170.8 223.6h0M264.8 223.6h0M160.9 223.7h0M287 223.8h0M97.8 223.8h0M236 224h0M153.8 224h0M142.4 224h0M167.3 224.1h0M287.2 224.1h0M323.7 224.5h0M199.9 224.5h0M305.5 224.6h0M192.4 224.6h0M158.8 224.9h0M150.9 224.9h0M184.8 225h0M128.8 225h0M225.2 225.1h0M210.1 225.5h0M137.1 225.7h0M84.3 225.8h0M72.1 225.8h0M105.6 226.1h0M56.7 226.4h0M92.9 226.6h0M154.5 226.7h0M70.7 226.7h0M54.6 226.7h0M28.1 227h0M244.8 227h0M280.1 227h0M206.4 227.1h0M82.5 227.2h0M87.9 227.4h0M213.1 227.5h0M305.6 227.5h0M321 227.8h0M58.8 227.9h0M306.2 228h0M74.8 228.2h0M59.4 228.2h0M39 228.4h0M259.2 228.5h0M81.6 228.5h0M203.6 228.5h0M152.4 228.5h0M322.8 228.7h0M69.7 228.7h0M184.1 228.9h0M44.5 228.9h0M315 228.9h0M312.2 228.9h0M26.6 229h0M70.3 229.1h0M228.8 229.1h0M110.2 229.2h0M190 229.2h0M153.7 229.3h0M301.4 229.3h0M202.4 229.3h0M112.6 229.3h0M115 229.4h0M135.2 229.5h0M188.3 229.5h0M137.6 229.7h0M63.9 229.8h0M177.7 229.8h0M92.2 230h0M268.9 230.4h0M218.6 230.6h0M107.9 230.8h0M77.3 230.8h0M163.9 230.8h0M292.8 230.8h0M236.7 230.9h0M70 230.9h0M55.7 231h0M128.3 231h0M199.1 231h0M287.1 231h0M133.9 231.2h0M304.2 231.2h0M66 231.3h0M211 231.4h0M121 231.4h0M313.9 231.5h0M25.9 231.6h0M49.6 231.6h0M202.9 231.6h0M312.6 231.7h0M148.1 231.7h0M217.6 231.8h0M320.7 231.9h0M293.5 232.1h0M61 232.1h0M177.4 232.2h0M164.5 232.3h0M52.8 232.4h0M64.2 232.4h0M135.5 232.5h0M315.1 232.6h0M317.1 232.7h0M84.4 232.7h0M257.3 232.8h0M74.1 232.8h0M163.3 233.1h0M119.9 233.2h0M131.8 233.3h0M224.8 233.5h0M208 233.6h0M103.7 233.7h0M183.8 233.7h0M177.2 233.8h0M216.8 233.9h0M26.6 234h0M234.3 234h0M116.8 234.1h0M82.5 234.1h0M66.5 234.2h0M167 234.2h0M258.5 234.4h0M158.1 234.4h0M245.4 234.5h0M111.5 234.5h0M170.7 234.5h0M224.1 234.6h0M96.8 234.7h0M245.7 234.8h0M216.3 234.9h0M217.4 234.9h0M314.3 235h0M245.2 235.1h0M70.4 235.1h0M313.5 235.1h0M299.2 235.2h0M189.7 235.3h0M187.4 235.5h0M262 235.8h0M258.9 235.8h0M102.4 235.9h0M66.4 235.9h0M70.1 236h0M43.9 236h0M44.2 236.2h0M261.6 236.3h0M242.6 236.3h0M323.7 236.3h0M184.4 236.5h0M287.8 236.5h0M313.8 236.6h0M304.5 236.8h0M184 236.8h0M245.6 236.8h0M156.1 236.8h0M51.3 236.9h0M213.8 237h0M30.8 237.1h0M147.3 237.2h0M269.5 237.2h0M190.5 237.3h0M322.7 237.4h0M234.3 237.5h0M212.7 237.6h0M316 237.6h0M323 237.6h0M103.9 237.6h0M151.3 237.7h0M288.7 237.7h0M70.1 237.8h0M140.4 237.8h0M266.1 237.8h0M121.5 237.8h0M191.3 238h0M245.2 238.1h0M66.2 238.2h0M318.2 238.2h0M53.1 238.2h0M297.2 238.3h0M266.4 238.3h0M249 238.4h0M163.2 238.4h0M201.1 238.4h0M59.8 238.5h0M42.3 238.6h0M41.4 238.6h0M27.5 238.6h0M300.8 238.7h0M59.5 238.9h0M241.8 238.9h0M100.7 239h0M29.7 239h0M198 239h0M275.6 239h0M257.8 239.1h0M283.6 239.3h0M177.9 239.3h0M221.7 239.4h0M118.9 239.4h0M144.7 239.4h0M90.8 239.4h0M154.4 239.6h0M286.8 239.6h0M218.2 239.6h0M46.9 239.8h0M161 239.8h0M96 239.8h0M232.1 239.8h0M120.7 239.9h0M98.5 240.1h0M149.7 240.2h0M171.4 240.3h0M256.3 240.3h0M184 240.4h0M127 240.5h0M192.1 240.7h0M92.6 240.7h0M141.7 240.8h0M150.3 240.8h0M48.8 240.8h0M317.6 240.8h0M306.8 241h0M179.2 241h0M272.7 241.1h0M53.3 241.1h0M171.7 241.1h0M198.4 241.2h0M177.9 241.3h0M288.3 241.3h0M105.4 241.5h0M52.2 241.5h0M128.2 241.6h0M248.4 241.6h0M276.6 241.6h0M237.8 241.6h0M288.1 241.7h0M52.5 241.9h0M308.3 241.9h0M286.2 242h0M244.4 242h0M279.6 242.1h0M140.5 242.2h0M206.2 242.3h0M255 242.4h0M156.6 242.4h0M317.7 242.4h0M310.1 242.4h0M167 242.5h0M51.2 242.5h0M115.6 242.5h0M310.1 242.6h0M234.5 242.6h0M289.8 242.7h0M238 242.7h0M78.3 242.9h0M79.8 242.9h0M267.4 242.9h0M201.6 242.9h0M63.1 242.9h0M92 242.9h0M64.3 243h0M190.3 243h0M267.5 243.2h0M193.4 243.2h0M222.4 243.3h0M170.4 243.4h0M247 243.4h0M318.9 243.4h0M123.9 243.5h0M221.5 243.6h0M314.8 243.7h0M46.3 243.7h0M237.8 244h0M260.8 244h0M140.2 244h0M292.9 244h0M52.8 244.1h0M277.8 244.1h0M233.9 244.2h0M244.3 244.3h0M309.5 244.3h0M151.3 244.4h0M243.5 244.4h0M216.8 244.5h0M246.2 244.5h0M258.6 244.6h0M41.1 244.6h0M87.9 244.7h0M101.1 244.7h0M302.9 244.7h0M135.2 244.9h0M113.8 244.9h0M161.6 245.1h0M289.7 245.1h0M166.7 245.3h0M107.3 245.3h0M252.3 245.3h0M95 245.5h0M293.8 245.6h0M320.4 245.6h0M161.4 245.7h0M209.9 245.7h0M114.8 245.8h0M102.5 245.9h0M144.9 245.9h0M118 245.9h0M112 246.1h0M199.5 246.1h0M196.5 246.1h0M107.5 246.1h0M39.3 246.1h0M168.7 246.2h0M217.9 246.2h0M161.2 246.5h0M270.5 246.6h0M234.5 246.7h0M287.8 246.8h0M303.5 246.8h0M53.8 246.8h0M232.2 246.9h0M318.1 246.9h0M143 247.2h0M218.9 247.2h0M197 247.2h0M73.8 247.3h0M82.4 247.4h0M269.6 247.4h0M109.2 247.4h0M253.4 247.7h0M104.8 247.8h0M279.9 247.8h0M110 247.8h0M197.5 247.8h0M72.2 247.9h0M235.1 247.9h0M109.8 247.9h0M89 248h0M214.4 248h0M124.2 248.1h0M266 248.2h0M310.8 248.2h0M245 248.2h0M231.2 248.2h0M211.3 248.4h0M230 248.5h0M204.6 248.6h0M166.4 248.7h0M148.1 248.7h0M232.9 248.7h0M281.5 248.7h0M139.7 248.8h0M315.4 248.9h0M119.1 248.9h0M57 248.9h0M116.6 249h0M88.8 249.2h0M209.4 249.2h0M55.6 249.3h0M210.8 249.3h0M264.5 249.4h0M313.2 249.4h0M290.2 249.5h0M164.1 249.6h0M197.9 249.6h0M318.6 249.7h0M209.4 249.7h0M284.1 249.7h0M250.5 249.7h0M154.1 249.7h0M251.2 249.7h0M54.1 249.8h0M119.8 249.9h0M90.2 250h0M48.5 250.2h0M52.8 250.4h0M174 250.5h0M81.9 250.7h0M86.3 250.9h0M267.3 250.9h0M315.7 251h0M97.5 251h0M49.5 251h0M239.7 251.1h0M39.3 251.1h0M142.4 251.1h0M89.9 251.2h0M150.5 251.4h0M219.1 251.4h0M297.6 251.5h0M190.1 251.6h0M312.4 251.7h0M104.6 251.8h0M244.7 251.8h0M114.3 252h0M258.5 252h0M237.4 252.1h0M220.7 252.1h0M153.6 252.1h0M276.1 252.6h0M111.4 252.7h0M318.5 252.8h0M102.8 252.8h0M110.9 252.8h0M244.8 252.9h0M230.8 253h0M106.9 253h0M104.3 253.1h0M209.9 253.2h0M296.1 253.4h0M216.8 253.5h0M294.3 253.7h0M302.9 253.7h0M146 253.8h0M226.1 253.8h0M127.7 253.8h0M213.2 253.9h0M282 254h0M176.6 254h0M131.9 254.1h0M224.3 254.2h0M239.9 254.3h0M252.2 254.3h0M89.2 254.4h0M188.6 254.5h0M128.7 254.5h0M298 254.6h0M187.1 254.6h0M216.6 254.7h0M75 254.7h0M168.5 254.7h0M204.4 254.8h0M204.7 254.9h0M275.6 255h0M177.8 255h0M250.8 255.2h0M93.5 255.2h0M73.3 255.2h0M88.6 255.3h0M146.7 255.3h0M53.9 255.4h0M310.2 255.4h0M82.7 255.5h0M172.9 255.5h0M26.9 255.8h0M216.2 255.8h0M122.7 255.8h0M299.4 255.8h0M172.4 255.9h0M314.4 256h0M200.9 256.1h0M145 256.1h0M287.3 256.3h0M189.8 256.3h0M68.1 256.4h0M174.6 256.5h0M145.7 256.6h0M57.1 256.7h0M129.2 256.7h0M117.4 256.9h0M288.1 256.9h0M210.4 257h0M83 257h0M98.8 257.3h0M208 257.3h0M152.4 257.3h0M27.5 257.3h0M307.2 257.3h0M151.4 257.4h0M147.4 257.4h0M294.3 257.5h0M276.7 257.5h0M57.8 257.6h0M185.5 257.6h0M136.5 257.6h0M35.3 257.7h0M157.3 257.7h0M184.1 257.9h0M288.2 258h0M70.1 258h0M59.1 258h0M93.6 258h0M251.5 258.1h0M297.9 258.2h0M33.8 258.2h0M104.5 258.3h0M68.8 258.3h0M149.4 258.3h0M88.6 258.4h0M82.9 258.4h0M287.1 258.5h0M150.3 258.5h0M71.7 258.5h0M173.3 258.6h0M138 258.7h0M90 258.7h0M123.4 258.8h0M189.2 259h0M270.4 259h0M239.5 259h0M281.6 259h0M273.4 259h0M207.4 259.1h0M225.3 259.2h0M196.8 259.4h0M298.8 259.4h0M210.2 259.4h0M209.5 259.5h0M228.3 259.6h0M49.6 259.6h0M234.5 259.8h0M139.9 259.9h0M161.4 259.9h0M175.1 260.1h0M131.2 260.1h0M240.4 260.2h0M170 260.3h0M45.9 260.3h0M69.9 260.4h0M161.7 260.5h0M101.5 260.5h0M109.1 260.5h0M278.9 260.5h0M38.2 260.5h0M107.7 260.6h0M307.9 260.6h0M109.7 260.8h0M246.5 260.8h0M204.1 260.9h0M26.7 261h0M299.1 261h0M52.4 261.1h0M138.3 261.1h0M310.9 261.2h0M199.2 261.3h0M47.2 261.3h0M141.3 261.4h0M277.2 261.5h0M233.8 261.6h0M287.1 261.7h0M140.9 261.8h0M303.2 262.1h0M217 262.2h0M164 262.6h0M162.7 262.7h0M28.3 262.9h0M169.8 262.9h0M69 263h0M295.5 263h0M315.8 263.2h0M286.6 263.3h0M173.1 263.4h0M154.3 263.6h0M260.1 263.6h0M126.8 263.7h0M321.6 263.8h0M302.8 263.9h0M205.7 263.9h0M130.4 263.9h0M215.9 264h0M90.5 264h0M190.2 264h0M126.1 264.1h0M173.7 264.2h0M126.1 264.3h0M207.6 264.5h0M158.9 264.5h0M324 264.6h0M130.5 264.6h0M41.2 264.7h0M39.8 264.8h0M293.8 265h0M271.5 265.1h0M304.3 265.1h0M153.8 265.1h0M188.7 265.3h0M316.5 265.4h0M28.8 265.5h0M139.9 265.6h0M149.4 265.6h0M316.5 265.7h0M182.3 265.8h0M302.6 265.9h0M146.6 265.9h0M181.3 265.9h0M261.9 266h0M273.8 266h0M83.8 266.2h0M206.3 266.2h0M233.1 266.4h0M61 266.4h0M26.2 266.5h0M39.1 266.6h0M227.6 267h0M258.2 267.1h0M133.4 267.2h0M89.4 267.3h0M172.8 267.3h0M84.8 267.6h0M121.9 267.7h0M179.9 267.7h0M87.7 267.9h0M250.4 268.1h0M202.1 268.1h0M277.4 268.3h0M258.3 268.3h0M243.2 268.3h0M214.1 268.3h0M118.1 268.4h0M194.5 268.4h0M320.2 268.5h0M110.2 268.6h0M208.9 268.6h0M155.7 268.7h0M166.8 268.8h0M37.7 268.9h0M91.8 269h0M272.1 269h0M174.6 269.1h0M47.5 269.2h0M149.6 269.3h0M257.8 269.3h0M232.4 269.3h0M134 269.3h0M251.2 269.4h0M134 269.4h0M191.2 269.4h0M151.3 269.4h0M106.1 269.4h0M249.6 269.4h0M91.5 269.4h0M213.2 269.5h0M190.4 269.8h0M294.1 269.9h0M236.2 269.9h0M253.5 270h0M148.4 270h0M75 270.1h0M54.9 270.1h0M45.1 270.1h0M286 270.1h0M105.5 270.1h0M293.6 270.3h0M298.3 270.6h0M34.9 270.6h0M89.7 270.8h0M144.2 271.2h0M158.1 271.2h0M219.2 271.2h0M122.5 271.2h0M210.9 271.3h0M314.4 271.3h0M146.6 271.3h0M244.8 271.3h0M119.6 271.4h0M260.9 271.4h0M163.4 271.7h0M209 271.8h0M131.3 271.9h0M192.4 272.1h0M271.7 272.2h0M194.1 272.2h0M59.2 272.3h0M220.3 272.3h0M195 272.3h0M282.5 272.3h0M236.3 272.4h0M154.8 272.4h0M123.4 272.5h0M91.2 272.5h0M77.2 272.5h0M107.1 272.7h0M73.2 272.8h0M178.8 273h0M259.5 273.1h0M124.7 273.1h0M97.5 273.2h0M264.9 273.3h0M112.8 273.3h0M111.2 273.3h0M176.1 273.3h0M146 273.4h0M244.6 273.5h0M213 273.6h0M113.4 273.7h0M268.7 273.7h0M204.5 273.8h0M214.5 273.8h0M253.2 273.8h0M287.6 273.9h0M187.6 273.9h0M87.1 273.9h0M172.2 273.9h0M125.9 274h0M121.9 274h0M239 274h0M280.4 274.1h0M281.2 274.1h0M65.4 274.2h0M264.9 274.2h0M180.4 274.3h0M124.6 274.3h0M238.4 274.3h0M230 274.4h0M182.9 274.4h0M168.9 274.5h0M75.7 274.6h0M255.3 274.6h0M256.5 274.7h0M61.3 274.7h0M293.6 274.7h0M164.9 274.7h0M73.1 274.8h0M194.1 274.8h0M230.8 274.9h0M227.4 275h0M86.9 275.1h0M139.1 275.1h0M219.7 275.3h0M93.5 275.3h0M183.6 275.4h0M51.6 275.5h0M89.5 275.6h0M142.4 275.7h0M318.1 275.8h0M197.9 275.8h0M231.1 275.8h0M239.2 275.8h0M37.3 275.9h0M127.8 276h0M187.1 276h0M32.3 276.2h0M295.4 276.2h0M243.6 276.2h0M217.5 276.3h0M36.9 276.3h0M69.9 276.6h0M206.5 276.7h0M186.9 276.8h0M108.2 277h0M312.6 277.1h0M44.1 277.1h0M234.1 277.1h0M88.2 277.1h0M266.2 277.2h0M156.1 277.2h0M226.6 277.3h0M41.6 277.3h0M118.5 277.3h0M209.7 277.4h0M211.2 277.5h0M226 277.6h0M93.2 277.6h0M253.3 277.7h0M88.3 277.7h0M285.3 277.8h0M172.4 277.8h0M109.8 277.9h0M230.4 278h0M241.2 278h0M236.2 278.1h0M159.8 278.1h0M203.3 278.2h0M36.7 278.4h0M234.3 278.6h0M195.5 278.7h0M39.2 278.9h0M94.4 279h0M178.7 279h0M258.7 279.1h0M91 279.1h0M244.2 279.3h0M188.9 279.4h0M35.7 279.5h0M128.7 279.6h0M30.5 279.6h0M189.7 279.8h0M91.1 279.8h0M281.8 279.9h0M48.3 279.9h0M123.3 279.9h0M135.5 280.2h0M30.6 280.3h0M100 280.3h0M53.5 280.4h0M274.8 280.6h0M34.4 280.6h0M59.1 280.6h0M225.1 280.7h0M273.1 280.8h0M75.2 280.8h0M257.2 280.8h0M323.4 281h0M63.2 281.1h0M281.2 281.1h0M255.4 281.2h0M100.1 281.3h0M133.9 281.4h0M291.6 281.5h0M139.9 281.6h0M298.2 281.6h0M289 281.6h0M165.4 281.7h0M54.1 281.9h0M242.9 282h0M79.6 282.1h0M295.9 282.1h0M301 282.2h0M157.8 282.2h0M40.1 282.3h0M80 282.3h0M219 282.3h0M282 282.5h0M61.1 282.5h0M292.5 282.7h0M230.1 282.8h0M313.7 282.9h0M121.3 282.9h0M323.5 282.9h0M245.5 283.1h0M92.6 283.1h0M80.1 283.1h0M75.4 283.1h0M305.4 283.1h0M208.3 283.1h0M53.9 283.3h0M216.2 283.3h0M314.8 283.3h0M269.5 283.5h0M143.6 283.5h0M49.9 283.5h0M28.2 283.6h0M277.9 283.6h0M262 283.8h0M75.6 283.9h0M33.7 284h0M90 284.1h0M41.5 284.1h0M59.4 284.3h0M165.2 284.3h0M125 284.3h0M282.7 284.4h0M269.5 284.7h0M174.7 284.8h0M123.5 284.8h0M128.2 285h0M245.9 285.1h0M286.1 285.3h0M93.5 285.3h0M210.2 285.3h0M231.7 285.4h0M279.7 285.5h0M249.3 285.5h0M149.6 285.5h0M95.7 285.6h0M190.4 285.6h0M169.2 285.6h0M192.2 285.6h0M213.9 285.7h0M60 285.7h0M128.7 285.7h0M157.2 285.8h0M313.6 285.9h0M289.5 285.9h0M299.6 286h0M116.5 286.3h0M263.9 286.3h0M102.5 286.3h0M34.2 286.4h0M191.2 286.6h0M165 286.6h0M88.9 286.6h0M92.5 286.6h0M239.8 286.7h0M218.3 286.8h0M320 287h0M219.5 287h0M278.7 287.1h0M246.4 287.1h0M171.4 287.2h0M73.6 287.2h0M215.1 287.3h0M139.5 287.3h0M131.9 287.5h0M124.7 287.5h0M237.3 287.6h0M268.7 287.7h0M245 287.9h0M123.1 288h0M280.3 288.1h0M307.7 288.2h0M27.1 288.4h0M115.5 288.4h0M256.3 288.5h0M53.2 288.5h0M152.8 288.6h0M82 288.6h0M237.2 288.7h0M121 288.8h0M206.9 288.9h0M106.9 289.2h0M38.3 289.3h0M264.2 289.3h0M40.1 289.4h0M40.1 289.6h0M33.5 289.7h0M67.5 289.7h0M90.7 289.7h0M49.7 289.7h0M102.4 289.8h0M60 289.8h0M269.7 289.8h0M322.6 289.9h0M173.8 290h0M270.4 290h0M249.9 290.1h0M269.9 290.1h0M217.1 290.4h0M54.6 290.5h0M218.6 290.5h0M222.3 290.6h0M138.1 290.7h0M303.5 290.7h0M43.5 290.8h0M183.4 290.9h0M197.9 290.9h0M57 291h0M305.9 291.1h0M243.4 291.1h0M117.7 291.2h0M140.9 291.4h0M141.7 291.6h0M267.3 291.7h0M173.5 291.8h0M92.5 291.8h0M50.3 291.8h0M188.6 291.9h0M114.3 291.9h0M132 291.9h0M154.3 291.9h0M142.4 292h0M220 292.1h0M80.2 292.1h0M112.4 292.3h0M141.8 292.5h0M241.4 292.5h0M70.5 292.6h0M127.5 292.6h0M81.1 292.7h0M32.3 292.7h0M78.7 292.9h0M149.8 293h0M230 293h0M64.5 293h0M157.3 293h0M167.8 293.1h0M33.2 293.1h0M47.2 293.1h0M270.7 293.3h0M139 293.4h0M315.9 293.5h0M91.2 293.5h0M312.8 293.7h0M240.1 293.8h0M161.3 293.9h0M322.1 293.9h0M303.8 294.1h0M301.2 294.1h0M57.6 294.1h0M118.9 294.1h0M86.2 294.3h0M220.2 294.3h0M265.2 294.4h0M315.1 294.5h0M131.1 294.5h0M180.3 294.6h0M44.9 294.7h0M210.7 294.8h0M323.7 295h0M158 295h0M306 295.2h0M153.2 295.2h0M191.2 295.2h0M152.3 295.3h0M228.6 295.3h0M142.1 295.5h0M223.5 295.6h0M246.2 295.6h0M64.9 295.7h0M261.7 296h0M259.7 296h0M64.6 296h0M182.6 296h0M39.3 296.1h0M58.3 296.1h0M227.6 296.1h0M60.3 296.1h0M254.6 296.2h0M221.4 296.2h0M288.6 296.4h0M275.7 296.5h0M100 296.5h0M92.3 296.6h0M41.8 296.6h0M175.4 296.6h0M256.6 296.6h0M217.5 296.6h0M93.7 296.7h0M43.5 296.8h0M181.5 297h0M42.7 297h0M180 297h0M91.7 297.1h0M219.5 297.1h0M317.4 297.1h0M234.3 297.1h0M249.8 297.3h0M104.9 297.3h0M168.9 297.3h0M83.7 297.3h0M40 297.5h0M51.1 297.5h0M40 297.5h0M52.2 297.6h0M168.7 297.7h0M291.3 297.7h0M268.2 297.7h0M208.4 297.7h0M171.9 297.8h0M83.7 297.8h0M235 297.8h0M161.6 298h0M192.7 298.2h0M195.2 298.2h0M119.3 298.2h0M234.3 298.5h0M87.2 298.6h0M195.3 298.7h0M197 298.8h0M268.8 298.8h0M118 299h0M242.7 299.1h0M235 299.1h0M222.4 299.2h0M205.3 299.3h0M62.6 299.3h0M113.4 299.3h0M313.6 299.6h0M70.3 299.7h0M302.3 299.7h0M246.3 299.8h0M285.7 299.8h0M256.1 299.9h0M199.7 300h0M264.3 300.1h0M76.2 300.3h0M26.9 300.4h0M217 300.6h0M93.6 300.7h0M254 300.7h0M105 300.8h0M304.8 300.8h0M311.5 300.9h0M151.3 300.9h0M308.8 301.1h0M257.5 301.1h0M319.3 301.2h0M231.4 301.2h0M201.7 301.3h0M86 301.3h0M90.2 301.3h0M232.8 301.3h0M53.6 301.3h0M107 301.4h0M156.9 301.4h0M188.9 301.5h0M226.5 301.5h0M39.6 301.6h0M227.9 301.6h0M100.8 301.7h0M228.8 301.7h0M230.3 301.8h0M46.3 301.9h0M58.7 301.9h0M233.1 302.1h0M46.9 302.1h0M64.6 302.1h0M238.2 302.3h0M46.4 302.3h0M109.8 302.3h0M53.8 302.4h0M173.7 302.5h0M154.9 302.6h0M184.6 302.7h0M168.6 302.7h0M186.6 302.8h0M37.8 302.9h0M306.4 302.9h0M96.4 303h0M165.5 303h0M285 303.1h0M284.2 303.2h0M224.7 303.2h0M46.1 303.3h0M59 303.3h0M139.9 303.5h0M309.9 303.6h0M105.2 303.6h0M257 303.8h0M93.3 303.8h0M308.3 303.9h0M238.2 304h0M141.6 304.1h0M130.2 304.1h0M110.4 304.1h0M117.7 304.2h0M163.3 304.2h0M130.3 304.4h0M102.4 304.4h0M172.4 304.4h0M319.7 304.5h0M283.2 304.6h0M211.8 304.7h0M51.9 304.7h0M133.6 304.7h0M212.1 304.8h0M292 304.8h0M86.1 304.8h0M194.6 304.8h0M124.8 304.9h0M268.8 304.9h0M61.8 304.9h0M171.5 305h0M291.8 305h0M175.9 305.1h0M125.5 305.1h0M40.5 305.2h0M110.7 305.2h0M182.9 305.2h0M97.3 305.3h0M113.5 305.3h0M138.4 305.3h0M111.5 305.4h0M193.9 305.4h0M189.3 305.4h0M62.3 305.5h0M25.7 305.5h0M82.4 305.9h0M103.9 306h0M208.2 306.1h0M137.9 306.1h0M212.2 306.2h0M313.4 306.2h0M109.7 306.2h0M96 306.3h0M182.6 306.3h0M174.4 306.4h0M294.2 306.5h0M249.9 306.5h0M80 306.6h0M25.7 306.6h0M34.9 306.7h0M244.1 306.7h0M185.3 306.9h0M241.9 307h0M250.3 307h0M303.5 307h0M274.8 307.1h0M288.8 307.1h0M286 307.1h0M151.1 307.1h0M154.5 307.2h0M56.6 307.3h0M29.7 307.3h0M252.3 307.4h0M258 307.5h0M313.8 307.6h0M99.1 307.6h0M149.2 307.7h0M320.2 307.7h0M179.4 307.7h0M165.8 307.9h0M53.8 307.9h0M238.1 308h0M78.7 308h0M81.1 308.1h0M51.6 308.2h0M145.6 308.3h0M82 308.3h0M159.7 308.5h0M254.9 308.6h0M300.1 308.7h0M320.4 308.8h0M33.2 308.9h0M100.8 308.9h0M230.6 309h0M313.9 309h0M49.6 309.1h0M264.3 309.3h0M80.2 309.3h0M180.1 309.3h0M247.3 309.4h0M174.8 309.6h0M234.4 309.7h0M144 309.7h0M288.4 309.7h0M311.9 309.8h0M40.9 309.9h0M32.4 310h0M278.3 310.2h0M188 310.2h0M187.3 310.3h0M110.5 310.4h0M159.4 310.5h0M214.6 310.6h0M84.9 310.6h0M155 310.8h0M78.5 310.8h0M182.2 310.9h0M205.2 311h0M168.8 311.1h0M220.2 311.2h0M313.4 311.2h0M182.3 311.3h0M231.4 311.3h0M220 311.4h0M40.6 311.4h0M64.7 311.5h0M318 311.5h0M60 311.5h0M134.9 311.5h0M81.9 311.6h0M242.6 311.6h0M107.9 311.6h0M257.8 311.8h0M50.7 311.8h0M165.2 311.8h0M49.6 311.8h0M280.5 311.8h0M178.1 311.8h0M120 311.9h0M29.8 311.9h0M126.2 312.1h0M240.4 312.2h0M282.7 312.2h0M36.6 312.2h0M317.9 312.4h0M43.2 312.4h0M280.1 312.5h0M170.7 312.7h0M58.7 312.8h0M172.3 312.9h0M30.3 313h0M281.5 313.1h0M166 313.1h0M147.7 313.4h0M46.3 313.5h0M132.2 313.5h0M196.8 313.6h0M232.9 313.8h0M65.9 313.9h0M36.4 313.9h0M317.2 314h0M61 314.1h0M65.2 314.1h0M192.8 314.1h0M194.9 314.3h0M292.2 314.3h0M124.9 314.3h0M45.3 314.4h0M68.2 314.5h0M235.5 314.6h0M271.9 314.7h0M168.8 314.9h0M139.8 314.9h0M215.2 314.9h0M265.9 315.1h0M122.3 315.2h0M237.9 315.3h0M269 315.3h0M30.1 315.3h0M287.9 315.4h0M216.1 315.6h0M51 315.6h0M102.7 315.7h0M194.1 315.8h0M242.5 316h0M112 316.3h0M184.4 316.3h0M45.1 316.4h0M206.8 316.6h0M318.7 316.7h0M111.9 316.7h0M233.8 316.7h0M299.2 316.8h0M198.7 316.9h0M102.4 317.1h0M51.5 317.1h0M55.6 317.2h0M128.7 317.4h0M165.7 317.5h0M178.9 317.5h0M229.8 317.5h0M90.5 317.7h0M228.3 317.8h0M138.9 317.8h0M306.7 317.9h0M246.7 317.9h0M180.6 318h0M103.4 318.3h0M65 318.4h0M190.6 318.5h0M147.1 318.5h0M209.1 318.5h0M210.6 318.6h0M141.2 318.7h0M80.1 318.7h0M188.6 318.7h0M176.4 318.7h0M30.9 318.8h0M218.7 318.8h0M268.4 319h0M62.7 319.1h0M255.9 319.1h0M153.7 319.1h0M182.5 319.2h0M281.4 319.2h0M37.4 319.4h0M155.4 319.4h0M193.5 319.5h0M80.5 319.6h0M179 319.7h0M319.4 319.7h0M35.2 319.8h0M138 319.9h0M71.1 320h0M114.8 320.2h0M185.9 320.2h0M139.6 320.2h0M65.9 320.6h0M147.7 320.6h0M194.1 320.7h0M83.4 320.7h0M67.1 320.7h0M96.9 320.7h0M218.2 320.7h0M295.2 320.8h0M280.2 320.8h0M261.1 321.1h0M230.7 321.2h0M118.8 321.2h0M76.6 321.2h0M136 321.3h0M257.6 321.3h0M221 321.4h0M60.2 321.5h0M72.9 321.7h0M43.4 321.8h0M121 321.9h0M191.8 322h0M270.9 322.2h0M254.7 322.6h0M151.4 322.7h0M207.9 322.9h0M56.7 323.1h0M116.4 323.2h0M305.6 323.2h0M54.7 323.5h0M42.2 323.5h0M301 323.6h0M198.4 323.6h0M120.7 323.7h0M115 323.8h0M303.8 323.9h0M126.1 323.9h0M108.6 324h0M66.7 324.3h0M126.9 324.5h0M217.4 324.5h0M95.4 324.8h0M193.7 324.8h0M256.1 324.8h0M293.2 324.9h0M256.3 324.9h0M123.4 324.9h0M96 325h0M109.6 325.2h0M215.8 325.3h0M292 325.3h0M132 325.4h0M220.1 325.4h0M309.1 325.4h0M132.7 325.4h0M144.9 325.5h0M284 325.6h0M183 325.6h0M291.2 325.6h0M71.3 325.8h0M145.3 326h0M143.7 326h0M66.1 326h0M121.8 326.1h0M102.8 326.1h0M207.6 326.1h0M258.5 326.3h0M262 326.4h0M78 326.4h0M262.7 326.4h0M201.6 326.5h0M123.4 326.5h0M191.1 326.5h0M172.3 326.5h0M252.3 326.8h0M207.7 327h0M30.3 327.1h0M274.5 327.1h0M78.3 327.1h0M274.8 327.1h0M236.8 327.2h0M171.5 327.2h0M223.2 327.4h0M187.4 327.6h0M174.7 327.7h0M58.8 327.8h0M52.1 328.1h0M261.2 328.1h0M222.2 328.1h0M190.9 328.3h0M267.4 328.3h0M34.8 328.3h0M248.4 328.3h0M281.6 328.3h0M188 328.5h0M303.6 328.5h0M140.9 328.7h0M267.8 328.7h0M36 328.9h0M260.3 329.2h0M161.8 329.2h0M217.7 329.3h0M237 329.3h0M317.6 329.5h0M316.7 329.5h0M270.3 329.6h0M99 329.7h0M154.5 330.8h0M314 330.9h0M204 330.9h0M173.3 330.9h0M29.6 331.1h0M234 331.1h0M57.8 331.1h0M30.3 331.1h0M306.4 331.2h0M194.7 331.3h0M32.1 331.3h0M49 331.5h0M182.3 331.5h0M283.2 331.6h0M260 331.6h0M252.3 331.6h0M87.6 331.6h0M123.9 331.6h0M172.3 331.7h0M186.9 331.7h0M164.3 331.9h0M273.7 331.9h0M150 331.9h0M94.9 331.9h0M44.6 332h0M280.9 332h0M232.6 332h0M265.3 332h0M217.8 332.2h0M32.5 332.2h0M175.8 332.2h0M254.5 332.4h0M51.1 332.4h0M88.7 332.6h0M176.5 332.7h0M291.5 332.7h0M231.8 332.8h0M100.8 332.9h0M78.5 332.9h0M167.9 333.1h0M163.7 333.1h0M151 333.2h0M187.6 333.4h0M218.8 333.5h0M131 333.8h0M253.4 333.8h0M44.7 334h0M190.6 334h0M199.6 334h0M135.7 334h0M185 334.1h0M301.1 334.1h0M49.7 334.1h0M213.2 334.1h0M216.1 334.4h0M300.1 334.5h0M92.7 334.5h0M144.5 334.5h0M56.8 334.7h0M195.5 334.7h0M304 334.7h0M179.4 334.9h0M81.5 334.9h0M105 334.9h0M316.5 334.9h0M38.2 335.1h0M66.5 335.3h0M237.6 335.5h0M104.8 335.5h0M273.9 335.5h0M172.5 335.5h0M311.5 335.6h0M239.3 335.7h0M260.4 335.7h0M220.7 335.7h0M137.6 335.8h0M122.4 335.8h0M298.2 335.8h0M108.1 335.9h0M314 336h0M151.3 336.1h0M242.8 336.1h0M88.5 336.2h0M214.6 336.4h0M285.3 336.6h0M223.9 336.6h0M126.2 336.6h0M141.8 336.6h0M87.3 336.9h0M176 336.9h0M283.9 337h0M323.3 337h0M126 337h0M37 337.1h0M170.8 337.1h0M99.6 337.4h0M135.1 337.4h0M137.1 337.5h0M91.6 337.5h0M184.7 337.5h0M53.9 337.6h0M92.8 337.7h0M137.2 337.8h0M280.5 337.8h0M80.1 337.9h0M111.7 337.9h0M52 337.9h0M315.3 338h0M27.2 338.2h0M86 338.4h0M107.2 338.4h0M256.7 338.4h0M310.5 338.6h0M188.4 338.6h0M166.3 338.7h0M317.7 338.8h0M94.3 338.8h0M33.4 338.8h0M238.7 338.9h0M85.6 338.9h0M90.9 339h0M70.1 339.1h0M259.9 339.2h0M51.3 339.2h0M212.7 339.3h0M39.9 339.4h0M75.5 339.4h0M71 339.5h0M65.8 339.5h0M91 339.5h0M94.9 339.6h0M184.3 339.6h0M99.9 339.6h0M179.5 339.7h0M300.5 339.8h0M235.3 339.9h0M110.2 340h0M164.3 340h0M171.9 340.1h0M112.7 340.1h0M61.7 340.2h0M227.7 340.2h0M236 340.3h0M298.7 340.4h0M113.1 340.5h0M308.6 340.5h0M315.6 340.5h0M204.8 340.5h0M137.4 340.6h0M88 340.7h0M128.2 340.9h0M138.9 341h0M131.8 341h0M274 341h0M267.7 341h0M25.8 341.1h0M73.8 341.1h0M295.6 341.1h0M160.3 341.1h0M286.3 341.1h0M113.8 341.1h0M42.1 341.2h0M184.1 341.2h0M120.6 341.4h0M223.8 341.4h0M245.9 341.6h0M189.9 341.7h0M240.1 341.8h0M316.1 342h0M322.3 342.1h0M316.4 342.1h0M80.3 342.1h0M204.4 342.1h0M176.6 342.2h0M267.3 342.2h0M256.8 342.2h0M206.8 342.3h0M154.5 342.4h0M97.9 342.4h0M161.8 342.5h0M187.2 342.5h0M55.1 342.6h0M38.7 342.6h0M39.4 342.7h0M241.9 342.7h0M201.8 342.8h0M84.1 342.8h0M178.3 343h0M181.7 343h0M32.4 343.2h0M224.8 343.2h0M184.4 343.3h0M309.6 343.3h0M169.5 343.4h0M65.9 343.4h0M260.6 343.5h0M253.2 343.5h0M321.6 343.5h0M56.7 343.6h0M305 343.7h0M91.3 343.8h0M27 343.8h0M93 343.8h0M259.6 343.9h0M31.1 343.9h0M92 343.9h0M154.3 344h0M306 344.1h0M145.3 344.1h0M255.7 344.2h0M133.5 344.2h0M169.1 344.2h0M315.8 344.3h0M193 344.3h0M266.6 344.6h0M106.3 344.6h0M268.9 344.8h0M67.1 344.9h0M208.5 344.9h0M142.3 345h0M132.6 345h0M187 345.1h0M72.2 345.1h0M263.9 345.2h0M110.5 345.2h0M37.2 345.6h0M318.8 345.7h0M318 345.7h0M78.8 345.7h0M247 345.8h0M67.6 345.8h0M148.5 345.8h0M181.4 345.9h0M164 346h0M262.7 346.1h0M273.4 346.1h0M69 346.2h0M263.1 346.2h0M224.3 346.2h0M281.9 346.3h0M316.5 346.3h0M235.7 346.4h0M193.9 346.4h0M151.6 346.6h0M110.8 346.8h0M230.1 346.8h0M270.8 346.9h0M47.8 346.9h0M68 347h0M69.6 347.1h0M274.5 347.1h0M85.8 347.1h0M182.1 347.2h0M244.4 347.3h0M291.2 347.4h0M265.8 347.4h0M274.2 347.5h0M75.1 347.5h0M276.1 347.5h0M229.6 347.5h0M242.7 347.6h0M314.4 347.7h0M142.9 347.8h0M65.1 347.8h0M153 347.9h0M53.1 347.9h0M182.6 348h0M205.3 348.1h0M233.1 348.2h0M262.9 348.2h0M120.1 348.2h0M262.1 348.3h0M238.3 348.5h0M214.2 348.6h0M227.4 348.7h0M297 349h0M227.8 349h0M125.1 349.1h0M131.4 349.1h0M219.1 349.3h0M170.5 349.6h0M288.9 349.7h0M212 349.7h0M159 349.7h0M204.4 349.9h0M182.8 349.9h0M222 350h0M256.7 350h0M255.9 350.1h0M111.2 350.1h0M285.9 350.2h0M152.3 350.3h0M170.9 350.3h0M289.5 350.4h0M203.3 350.5h0M65.2 350.6h0M305.3 350.7h0M280 350.8h0M281.4 350.9h0M135.4 350.9h0M133.1 351.2h0M94.9 351.3h0M102.4 351.3h0M44.2 351.4h0M189.7 351.5h0M108.8 351.6h0M178.2 351.8h0M51.4 351.9h0M257.5 351.9h0M236.9 352h0M203.1 352.1h0M322.6 352.1h0M46.6 352.2h0M261.4 352.2h0M176.8 352.3h0M303.4 352.4h0M150.2 352.4h0M81 352.4h0M90.6 352.5h0M301.1 352.5h0M32.3 352.7h0M166.6 352.8h0M267.7 353h0M159.7 353h0M100.6 353h0M69.2 353.1h0M66 353.2h0M108.9 353.2h0M36 353.4h0M117.4 353.5h0M303.3 353.5h0M182.2 353.6h0M114.7 353.8h0M107.3 353.9h0M56.9 354h0M194.1 354.1h0M229.6 354.2h0M68 354.2h0M236.5 354.3h0M321.1 354.4h0M123.3 354.5h0M309.3 354.6h0M283.5 354.6h0M105 354.7h0M277.3 354.8h0M234.3 354.8h0M225.8 355h0M92.4 355.3h0M204.2 355.3h0M223.8 355.3h0M154.1 355.3h0M242.3 355.4h0M162 355.5h0M313.9 355.6h0M93.1 355.7h0M318.1 355.7h0M264.4 356.2h0M298.3 356.2h0M149.8 356.3h0M28.4 356.5h0M253.4 356.9h0M59.7 357h0M127.2 357h0M127.1 357h0M54.2 357h0M87.9 357h0M66.9 357h0M261.9 357.3h0M94.3 357.3h0M299.6 357.3h0M111.1 357.3h0M248.6 357.3h0M37.5 357.4h0M176.6 357.4h0M142.6 357.5h0M48 357.6h0M273.4 357.6h0M158 357.7h0M65 357.7h0M189.9 357.8h0M113.2 357.8h0M159.5 358.1h0M51.2 358.1h0M193.7 358.1h0M287.4 358.3h0M230.9 358.4h0M201.1 358.4h0M90.8 358.5h0M309.8 358.7h0M228.3 358.7h0M76.9 358.8h0M54.3 358.9h0M151.2 359h0M88.7 359.1h0M110.6 359.2h0M94.5 359.3h0M79.2 359.4h0M314.9 359.5h0M106.1 359.5h0M295.6 359.6h0M281.5 359.6h0M273.8 359.7h0M318.5 359.7h0M275.5 359.7h0M200.3 359.8h0M286.8 359.8h0M279.3 359.9h0M284.6 359.9h0M124 359.9h0M121 360.2h0M322.7 360.3h0M301.3 360.4h0M180.5 360.5h0M69.5 360.6h0M99 360.6h0M231 360.6h0M142.8 360.8h0M93.4 360.8h0M226.1 360.8h0M223.7 360.9h0M241.3 361.3h0M95.2 361.4h0M82 361.5h0M223.1 361.6h0M244.7 361.6h0M132.9 361.6h0M25.7 361.6h0M254.6 361.7h0M188.3 361.8h0M292.6 362h0M285.9 362.1h0M278 362.1h0M267.2 362.2h0M46.1 362.2h0M142.2 362.3h0M269.2 362.4h0M74.2 362.5h0M253.4 362.6h0M232 362.6h0M35.9 362.7h0M51.5 362.9h0M147.8 363h0M127.3 363.1h0M188.2 363.2h0M132.9 363.2h0M198.4 363.3h0M128.8 363.4h0M32.7 363.4h0M154 363.5h0M279.7 363.5h0M228.7 363.6h0M45.9 363.6h0M311.7 363.7h0M265.5 363.8h0M138.5 363.8h0M293 363.8h0M300.4 363.8h0M121.9 363.9h0M35.6 363.9h0M193.5 364h0M73.9 364h0M305 364.1h0M85.7 364.1h0M236.6 364.1h0M238.2 364.3h0M63.4 364.3h0M128.9 364.3h0M309.4 364.4h0M321.4 364.4h0M247 364.6h0M323.3 364.7h0M198.5 364.8h0M40.6 364.8h0M242.8 364.9h0M129.3 364.9h0M54.9 364.9h0M34.7 365h0M300.2 365.1h0M211.7 365.1h0M297.7 365.1h0M89 365.1h0M281.1 365.2h0M83.9 365.4h0M52.5 365.4h0M205 365.5h0M72 365.6h0M132.3 365.7h0M264.3 365.7h0M221.4 365.8h0M71.2 365.8h0M72.2 365.9h0M172.3 366h0M79.9 366.1h0M304.3 366.2h0M293.2 366.3h0M308.1 366.3h0M116.1 366.3h0M60.9 366.4h0M42.7 366.4h0M277.5 366.4h0M199.9 366.5h0M113.3 366.5h0M158.7 366.5h0M253.8 366.5h0M103.6 366.6h0M75.3 366.7h0M146.8 366.7h0M87.1 366.8h0M272.2 366.9h0M103.2 367h0M318.9 367h0M242.9 367.1h0M147.7 367.1h0M224.7 367.2h0M195.8 367.3h0M321.6 367.4h0M294.7 367.4h0M264.3 367.5h0M234.9 367.5h0M33 367.7h0M71.3 367.8h0M101.6 367.9h0M286.7 368.1h0M39.8 368.2h0M266.4 368.2h0M238.9 368.3h0M170.7 368.4h0M278.4 368.5h0M72.6 368.5h0M123 368.5h0M27.7 368.7h0M270.6 368.8h0M226.3 369h0M213.8 369h0M191.5 369h0M192.2 369.1h0M68 369.1h0M293 369.1h0M228.4 369.2h0M61 369.2h0M40.9 369.4h0M317.6 369.4h0M221.5 369.5h0M233.4 369.5h0M307.3 369.6h0M112 369.6h0M201 369.6h0M179.7 369.7h0M250.9 370h0M213.9 370h0M34.4 370.1h0M184.6 370.1h0M114.4 370.1h0M27.2 370.3h0M61.6 370.5h0M107.1 370.5h0M144.5 370.5h0M71.2 370.6h0M186.5 370.6h0M216.6 370.7h0M203.4 370.7h0M248.8 370.8h0M123.9 370.8h0M275.8 370.9h0M29.3 371h0M260.4 371h0M249.8 371.2h0M31.2 371.2h0M205.9 371.2h0M222.7 371.3h0M245.5 371.5h0M225.6 371.5h0M196.7 371.6h0M140.7 371.7h0M178.3 371.7h0M117.9 371.7h0M294.2 371.8h0M147.6 371.9h0M287.2 371.9h0M234.6 372h0M208.4 372.1h0M305.9 372.2h0M129.7 372.2h0M34.7 372.3h0M250.1 372.4h0M137.6 372.7h0M219.7 372.8h0M46.9 373h0M213 373.1h0M101 373.1h0M59.9 373.1h0M85.4 373.3h0M53.6 373.3h0M273.1 373.3h0M37.8 373.4h0M243 373.4h0M39.4 373.4h0M56.5 373.8h0M214.1 373.9h0M249.9 374h0M104.4 374.6h0M47.4 374.6h0M287.3 374.6h0M48.6 374.9h0M208.3 375h0M258.2 375.1h0M127.8 375.2h0M56.5 375.4h0M107 375.4h0M319.4 375.5h0M64.6 375.5h0M187.4 375.5h0M282 375.5h0M261.5 375.6h0M301 375.6h0M315.4 375.8h0M255 375.8h0M30.4 376.2h0M119.8 376.2h0M265.1 376.3h0M186.5 376.3h0M262.7 376.4h0M59 376.5h0M248.4 376.6h0M249.9 376.7h0M312 376.8h0M129.4 376.8h0M87.1 376.9h0M149.4 376.9h0M180.2 377.1h0M41.6 377.1h0M58.7 377.2h0M55.4 377.2h0M189 377.3h0M259.3 377.3h0M181.3 377.5h0M203.8 377.6h0M234.3 377.6h0M251 377.7h0M62.3 377.8h0M293.2 377.9h0M148.6 378h0M177.3 378h0M74.2 378h0M178.2 378.1h0M309.7 378.3h0M145.1 378.3h0M176.2 378.4h0M143.5 378.5h0M69 378.6h0M140.6 378.8h0M166.9 378.9h0M73.8 379.1h0M218.9 379.1h0M40.4 379.2h0M176 379.3h0M138.3 379.3h0M278 379.4h0M295.1 379.5h0M102.8 379.5h0M262.6 379.5h0M66.1 379.5h0M82.1 379.6h0M27.1 379.6h0M319.2 379.6h0M225.5 379.7h0M192.9 379.8h0M268.9 379.8h0M55.5 380.1h0M47.8 380.1h0M304.1 380.2h0M64.4 380.2h0M152.5 380.2h0M108.9 380.3h0M57.9 380.4h0M86.6 380.5h0M255.1 380.5h0M151.7 380.6h0M323.9 380.7h0M168.9 380.7h0M146.3 380.7h0M97.1 380.7h0M116.8 380.7h0M100.1 380.8h0M122 380.8h0M227.5 380.9h0M264.4 381h0M130.3 381h0M275.5 381h0M92.9 381.1h0M260.9 381.2h0M129.2 381.2h0M49.9 381.4h0M220 381.6h0M322.5 381.6h0M298.7 381.6h0M179.1 381.8h0M253.3 381.8h0M76.6 381.8h0M83.9 381.9h0M199.6 381.9h0M66.3 381.9h0M313.4 381.9h0M59.3 382.1h0M129.5 382.2h0M37.4 382.5h0M75.8 382.6h0M54 382.9h0M122.2 382.9h0M238.1 383h0M47.3 383.1h0M170.2 383.3h0M183.2 383.5h0M225.4 383.6h0M298.2 383.6h0M32.9 383.6h0M165.9 383.6h0M60.6 383.6h0M253 383.7h0M311.3 383.7h0M263.9 383.7h0M313.7 383.8h0M51.3 383.9h0M215.6 383.9h0M117.3 384h0M197.4 384h0M237.8 384h0M237.1 384.1h0M321.2 384.1h0M247.7 384.4h0M168.5 384.5h0M234.9 384.8h0M205.9 385h0M179.8 385.2h0M92.6 385.3h0M148.4 385.3h0M292.3 385.5h0M241.2 385.6h0M233.4 385.6h0M84.5 385.8h0M58 385.8h0M146.4 385.8h0M207.7 385.8h0M106.2 385.9h0M308.8 385.9h0M316.4 386h0M260.6 386h0M123.5 386h0M78.7 386h0M311.2 386h0M62.6 386.1h0M299.3 386.2h0M241.9 386.2h0M157.4 386.4h0M252.2 386.4h0M313.9 386.5h0M233.5 386.6h0M265 386.7h0M123 386.7h0M37.7 386.8h0M212.3 386.8h0M191.9 387h0M283.6 387h0M302.5 387.2h0M122.6 387.2h0M139.4 387.2h0M261.1 387.3h0M224.6 387.3h0M129.8 387.3h0M150.9 387.4h0M162.8 387.4h0M201 387.4h0M101.9 387.5h0M98.8 387.5h0M184.9 387.6h0M76.8 387.7h0M191.1 387.7h0M170 387.8h0M246.6 387.8h0M50 387.9h0M253.4 387.9h0M147.2 388h0M45.9 388h0M67.6 388.1h0M264.8 388.1h0M274.3 388.1h0M224.4 388.4h0M258.1 388.4h0M84 388.4h0M164.2 388.6h0M63.5 388.7h0M260.4 388.9h0M320.4 388.9h0M310.6 389h0M260.9 389.1h0M57.9 389.1h0M164.1 389.1h0M216.8 389.1h0M187.2 389.2h0M68.4 389.2h0M77.5 389.3h0M156 389.3h0M141.2 389.4h0M139.9 389.4h0M184.1 389.5h0M249.2 389.5h0M270.9 389.6h0M81.3 389.6h0M44.1 389.6h0M97.2 389.6h0M263 389.7h0M235.9 389.7h0M33.5 389.8h0M231.9 390h0M225.9 390h0M81.4 390.2h0M203.1 390.2h0M50.2 390.2h0M199.5 390.3h0M122.2 390.3h0M233.5 390.3h0M81.9 390.4h0M200.1 390.5h0M89.5 390.6h0M256.6 390.6h0M77.7 390.6h0M119.3 391.1h0M221.5 391.1h0M251.4 391.1h0M87.9 391.1h0M62 391.3h0M188.9 391.3h0M204 391.4h0M165.2 391.4h0M212.7 391.4h0M172.6 391.4h0M158.4 391.4h0M112.3 391.4h0M45.7 391.5h0M209 391.5h0M28.8 391.5h0M245.8 391.5h0M274.7 391.6h0M79.4 391.7h0M195.6 391.7h0M180.9 391.9h0M66.2 392h0M273.4 392.1h0M45.2 392.1h0M304.4 392.1h0M205 392.2h0M317.6 392.2h0M306.2 392.6h0M95.9 392.7h0M287.3 392.7h0M37.3 392.8h0M154.8 392.8h0M312.1 392.9h0M294.5 393h0M287.6 393h0M108.8 393.1h0M238.5 393.1h0M234.5 393.1h0M164.9 393.2h0M72.7 393.2h0M297.3 393.2h0M165.3 393.4h0M203.2 393.5h0M215.8 393.6h0M200.1 393.7h0M79.7 393.8h0M249.7 393.9h0M117.6 393.9h0M117.8 394h0M45.2 394.1h0M35 394.1h0M132 394.1h0M147.7 394.2h0M83.2 394.2h0M171 394.2h0M203 394.3h0M57.1 394.6h0M217.5 394.7h0M232.4 394.7h0M51.2 394.8h0M161.3 394.9h0M100.8 395h0M166.3 395.2h0M131.8 395.2h0M202.9 395.2h0M243.7 395.6h0M163.1 395.6h0M280.3 395.6h0M175.8 395.9h0M31 395.9h0M267.8 395.9h0M292 396h0M194.9 396.2h0M229.9 396.2h0M138.9 396.3h0M28 396.3h0M86.9 396.3h0M155.1 396.4h0M100.9 396.4h0M147 396.4h0M140.3 396.4h0M225.3 396.5h0M159.5 396.5h0M160.4 396.6h0M141.7 396.6h0M112.5 396.9h0M78.4 396.9h0M89.7 397h0M46.7 397h0M111.9 397.1h0M180.8 397.1h0M298.6 397.1h0M150.5 397.2h0M247.1 397.2h0M123.8 397.2h0M141.6 397.3h0M285.3 397.4h0M261.3 397.4h0M231.5 397.4h0M117.1 397.4h0M291 397.5h0M69.8 397.6h0M108.5 397.6h0M196.4 397.7h0M201.2 397.8h0M34.9 397.8h0M227.1 397.8h0M304.5 397.8h0M174.4 398.1h0M159.5 398.1h0M109.3 398.2h0M53.7 398.3h0M80.1 398.3h0M31.9 398.4h0M293.5 398.4h0M235.6 398.5h0M273.8 398.8h0M159.9 399h0M223.5 399h0M60 399.2h0M320.8 399.2h0M281 399.2h0M275.1 399.3h0M296.2 399.6h0M241.6 399.6h0M210.7 399.7h0M189.3 399.8h0M26 399.9h0M291.6 400.1h0M177.8 400.1h0M108.7 400.3h0M306.4 400.3h0M165 400.3h0M57.9 400.4h0M121.1 400.5h0M48.1 400.6h0M212.3 400.8h0M194.1 400.8h0M35.2 400.8h0M167.1 400.9h0M287.8 401h0M227.9 401.1h0M119 401.2h0M201.8 401.3h0M320.4 401.4h0M290.3 401.5h0M253.7 401.6h0M185.6 401.7h0M237.8 401.9h0M134.3 401.9h0M174.8 401.9h0M262.5 401.9h0M188.6 401.9h0M207.8 402h0M221.9 402.1h0M268.9 402.1h0M116.6 402.2h0M47.8 402.3h0M296.9 402.5h0M160.2 402.6h0M171 402.7h0M52.3 402.8h0M247.4 402.8h0M254.9 402.9h0M210.8 402.9h0M283.8 402.9h0M184.6 402.9h0M274.6 402.9h0M260.3 403h0M132.6 403h0M136.5 403h0M301 403h0M157.7 403.1h0M174.5 403.1h0M191.2 403.2h0M142.8 403.3h0M142.5 403.3h0M99.7 403.4h0M160.7 403.5h0M177.2 403.6h0M55.3 403.6h0M262.1 403.8h0M308.9 403.9h0M167.5 403.9h0M106.6 403.9h0M237.6 404h0M136.5 404.1h0M68.8 404.4h0M211.5 404.4h0M132.4 404.5h0M61.1 404.7h0M293.1 404.7h0M142.8 404.7h0M165.9 404.7h0M226.2 404.9h0M38.8 405h0M300.7 405h0M183.2 405h0M312.2 405h0M297.4 405.2h0M65.6 405.2h0M87.1 405.2h0M317.8 405.4h0M106.9 405.6h0M205.7 405.8h0M36 405.8h0M104.5 405.8h0M138.1 405.8h0M294 405.8h0M275 405.9h0M68.8 406h0M215.1 406h0M158.4 406h0M241.3 406.1h0M208.1 406.1h0M261.6 406.2h0M42.3 406.2h0M145.1 406.3h0M148.6 406.4h0M186.7 406.4h0M123.4 406.5h0M208.2 406.9h0M157.5 407.1h0M47.2 407.1h0M99.9 407.2h0M196.4 407.2h0M32.7 407.3h0M100.1 407.5h0M110.2 407.5h0M289.1 407.8h0M101.2 407.9h0M148.3 407.9h0M296.4 408h0M38.5 408.2h0M97.6 408.2h0M234.2 408.4h0M215.6 408.7h0M119.9 408.8h0M218.4 408.9h0M315.9 408.9h0M60.9 409h0M200.3 409h0M248.8 409h0M218 409.1h0M156.5 409.2h0M191.7 409.3h0M106.4 409.4h0M78.7 409.4h0M317.4 409.5h0M204.1 409.5h0M93.7 409.5h0M27.7 409.6h0M238.2 409.6h0M120.6 409.7h0M95.1 409.8h0M134.3 409.8h0M116.1 409.9h0M313.8 410.2h0M194.8 410.5h0M298 410.5h0M321.1 410.5h0M139.1 410.6h0M183.9 410.6h0M169.1 410.6h0M204.9 410.8h0M168.5 410.8h0M44.7 410.9h0M264.1 410.9h0M313.7 410.9h0M175.2 411.2h0M79.2 411.2h0M105.8 411.2h0M294 411.3h0M53.9 411.3h0M92.9 411.6h0M68.1 411.6h0M119.3 411.6h0M220 411.6h0M284.8 411.7h0M208.5 411.9h0M116.7 411.9h0M27.8 411.9h0M177 412h0M159.5 412.1h0M34.8 412.3h0M182.7 412.4h0M140.9 412.4h0M178 412.5h0M228.8 412.5h0M273.3 412.6h0M201.8 412.6h0M275.7 412.6h0M269.9 412.7h0M62.1 412.7h0M73.2 412.7h0M54.3 412.8h0M180.3 412.8h0M36.1 412.8h0M210.3 412.9h0M210.6 412.9h0M90.7 413h0M228 413.1h0M252.3 413.2h0M59.4 413.4h0M196.6 413.5h0M174.2 413.5h0M112.2 413.6h0M81.1 413.8h0M37.9 414h0M112.4 414.1h0M273.5 414.5h0M121 414.7h0M175.6 414.7h0M33.6 414.9h0M155.8 414.9h0M26.6 414.9h0M147.8 414.9h0M307.8 414.9h0M93.9 415h0M123.1 415h0M39.1 415.1h0M134.1 415.2h0M172.2 415.3h0M322.7 415.4h0M319.5 415.5h0M122.8 415.5h0M300.6 415.6h0M114.9 415.7h0M235.5 415.7h0M172.2 415.7h0M257.7 415.7h0M211.3 415.7h0M198.5 415.8h0M74.1 415.8h0M234.4 415.9h0M119.1 416h0M157.9 416h0M109 416.1h0M137.2 416.1h0M318.6 416.1h0M251.6 416.2h0M265.9 416.2h0M91.6 416.6h0M289.6 416.6h0M61.1 416.7h0M188.1 416.8h0M150.3 416.9h0M33.9 417h0M246.3 417h0M70.3 417h0M54.6 417.1h0M77.7 417.3h0M32.8 417.4h0M121 417.4h0M177.6 417.5h0M77.6 417.6h0M274.9 417.6h0M129.4 417.6h0" stroke="#52ff34" stroke-width="1.4" stroke-linecap="square" fill="none"/>
</g>
<g id="panel-d">
<rect x="243" y="396.9" width="64.7" height="5.6" fill="#fff"/>
<text transform="translate(275.4 385.4) scale(0.9 1)" font-size="17.2" font-weight="bold" text-anchor="middle" fill="#fff">10 µm</text>
<text transform="translate(175.6 236.0) scale(0.86 1)" font-size="19.5" font-weight="bold" text-anchor="middle" fill="#fff">O</text>
<text x="1.7" y="238.7" font-size="26.2" text-anchor="start" fill="#111" stroke="#111" stroke-width="0.05">d</text>
</g>
<g id="panel-e-map">
<rect x="371" y="213" width="300" height="205.4" fill="#000"/>
<path d="M486.3 214.1h0M433.9 214.6h0M614.3 214.7h0M495.2 214.8h0M522.4 215.1h0M618.5 215.2h0M477.8 215.7h0M619 215.9h0M581.6 216.1h0M377.2 216.5h0M534.4 217.3h0M637.4 217.6h0M495.6 217.9h0M422.8 218h0M495.5 218.3h0M425.3 218.5h0M613.9 219.3h0M576.6 219.4h0M417.7 219.6h0M390.7 220.1h0M497.4 221.4h0M617.2 221.6h0M443.9 221.7h0M445.2 221.8h0M496.8 223.9h0M655.9 224h0M475.8 224.6h0M575.5 224.7h0M578.9 225.6h0M415.9 225.9h0M637.7 226.3h0M495.7 226.3h0M594.6 226.7h0M435.3 227.4h0M636.2 227.4h0M470.2 228.2h0M490.9 228.4h0M518.8 228.6h0M396.9 228.7h0M661.1 228.9h0M478.8 229.5h0M664.6 230h0M558.6 230.2h0M544 230.3h0M442.8 230.6h0M593.4 230.8h0M539.2 231h0M662 231.4h0M659.6 231.5h0M455.5 231.8h0M611.6 232.2h0M376.5 232.3h0M388.7 232.3h0M567 232.5h0M660.5 232.9h0M594.1 233.1h0M594.2 234h0M461.6 234.1h0M596.2 234.4h0M514.3 234.4h0M448.4 235h0M562.5 235.1h0M563.2 235.4h0M537.3 236.2h0M565.6 236.5h0M572.4 236.7h0M580.2 237.2h0M503.2 237.9h0M534 238.2h0M531.4 238.7h0M591.6 238.9h0M596.9 239.3h0M403.9 239.3h0M417.7 239.8h0M453 240.5h0M627.9 240.8h0M439.4 241.3h0M545.6 241.3h0M403.4 241.7h0M602.1 242.3h0M453.4 242.4h0M379.8 242.9h0M470.5 243.9h0M630.1 244.2h0M377.9 244.3h0M632.5 244.3h0M607.6 244.6h0M604.5 245h0M377.8 245.2h0M537.6 245.4h0M605.3 246h0M594.4 246.6h0M511.2 246.7h0M644.7 246.7h0M530.1 247.1h0M628.6 247.9h0M454.5 248h0M376.3 248.5h0M552.9 248.5h0M512.4 248.6h0M389.3 248.9h0M561 249.9h0M647.6 250h0M452.5 250h0M414.7 250h0M423.5 250.7h0M420 250.7h0M397.9 250.7h0M513.2 251.3h0M446.9 252.1h0M381.6 252.6h0M553.6 252.7h0M489.5 253h0M582.2 253.5h0M557.2 253.9h0M425.1 253.9h0M562.3 254.3h0M663.6 254.6h0M589.3 254.7h0M526.2 255h0M627.8 255.2h0M653.8 255.2h0M583.8 255.3h0M397.7 255.8h0M660.3 257.1h0M450.4 258.2h0M516.7 258.8h0M408.8 258.8h0M484.5 258.8h0M560.9 259.2h0M596.6 259.3h0M618.8 259.4h0M435.9 259.9h0M606.2 260h0M517.1 260.2h0M626.6 260.5h0M389.4 261h0M572.5 261.2h0M402.1 261.5h0M519.1 261.7h0M445.2 263.3h0M647.2 263.7h0M603.8 263.7h0M529.2 263.8h0M392.7 263.9h0M662.4 264.4h0M605.4 264.9h0M615.5 265.2h0M396.6 265.5h0M472.7 265.7h0M532.1 266h0M549 266.1h0M648.2 266.1h0M408.5 266.2h0M448.6 266.2h0M571.6 266.3h0M638.7 266.6h0M396.1 267.2h0M661.9 267.2h0M479.7 267.9h0M577.5 268h0M549.1 268.6h0M381 269.3h0M668.4 269.5h0M611 269.5h0M622.5 269.8h0M529.5 270.8h0M442.3 271h0M614.7 271.7h0M558.2 272.2h0M635.7 272.8h0M544.4 273.1h0M628.9 273.3h0M521.6 273.4h0M539.5 273.6h0M580.3 273.7h0M668.4 273.9h0M604.8 275.1h0M423.2 275.2h0M544.7 275.5h0M586.2 275.7h0M486.2 275.9h0M533.6 276.2h0M465.2 276.3h0M575.8 276.7h0M515.6 276.8h0M624.5 276.9h0M574.9 277.3h0M482.4 277.4h0M566.8 278.6h0M432 278.7h0M619.2 278.9h0M545.3 279.2h0M437.8 279.4h0M380 279.4h0M504.9 279.6h0M503.9 279.9h0M578.9 280.1h0M446.8 280.5h0M613.7 280.8h0M628.6 281.2h0M474.6 281.3h0M571 281.4h0M624.4 281.5h0M447.4 282.1h0M436.6 282.3h0M544 282.4h0M591.5 282.8h0M509.7 283.1h0M618 283.2h0M409.5 283.5h0M454.3 283.5h0M543.6 283.7h0M487.6 283.7h0M434.1 283.8h0M503.2 284h0M582.2 285.2h0M462.6 285.3h0M516.7 285.6h0M466.4 285.7h0M608.5 286.8h0M405.4 286.9h0M421.4 287.3h0M464 287.3h0M439.9 287.6h0M476.9 288.4h0M641.3 289.1h0M435.2 289.7h0M561.1 290.4h0M447.1 290.5h0M541.5 291.2h0M533 291.4h0M405.7 291.6h0M524.6 292h0M572.7 292.7h0M628.2 293.2h0M434.6 293.8h0M380.8 294.4h0M538.8 294.5h0M521.7 295.1h0M598.3 295.8h0M646.6 296h0M606.6 296h0M426.6 296.2h0M498.3 296.8h0M404.8 297.3h0M632.9 297.3h0M660.4 297.7h0M507.7 298.3h0M492.5 298.5h0M504.7 299.6h0M533 299.9h0M379.1 299.9h0M563.8 300.9h0M525.2 301h0M447.4 301.1h0M410.3 301.2h0M594.5 301.6h0M555.4 301.8h0M461.8 302h0M656.7 302.1h0M470.7 302.4h0M393.7 302.7h0M522.1 302.8h0M414.8 302.9h0M619.8 303.2h0M514.9 303.9h0M648.3 304.2h0M387.1 304.3h0M420.4 305.4h0M641.9 305.5h0M579.1 305.7h0M665.1 305.8h0M605.3 305.9h0M514.3 307.8h0M584.5 307.9h0M533.9 308.1h0M652.5 308.5h0M513.8 309h0M507.5 309.2h0M511.8 309.4h0M425.9 309.6h0M558.2 310.2h0M401 311.6h0M421.1 311.7h0M552.7 312.3h0M661.8 312.5h0M512.3 312.9h0M473.6 314.1h0M585.3 314.1h0M410.9 314.3h0M433.3 314.3h0M540.8 314.5h0M457.4 314.8h0M429.7 315h0M541.6 315.7h0M583.1 315.8h0M526.6 315.8h0M383.8 316.2h0M389.5 316.6h0M604.7 317h0M628.3 317.2h0M532.9 317.5h0M626.9 318.1h0M410.4 318.3h0M489 318.4h0M548.8 318.4h0M481.3 319.2h0M511.1 319.8h0M414.1 320.5h0M616 320.7h0M539 320.8h0M505.2 321.2h0M603.2 322.3h0M433.2 322.4h0M571 322.7h0M457.8 323h0M490.8 323.5h0M565.4 323.7h0M458.9 324h0M624.9 324.4h0M516.1 324.5h0M481.4 325h0M618.9 325.7h0M658.6 326.4h0M669.5 326.4h0M386.7 326.7h0M663.2 326.7h0M376 326.8h0M428.4 327h0M441.4 327.6h0M401.8 328.3h0M540.2 328.5h0M555 328.6h0M412.7 329.5h0M458.8 329.6h0M592.5 329.7h0M507.5 330.2h0M455.4 330.9h0M578.9 332.1h0M651 332.2h0M620.5 332.6h0M550.9 332.7h0M558.1 332.7h0M571.8 332.7h0M512.3 332.7h0M584.8 333.5h0M379.6 333.7h0M436.9 334.4h0M535 336.1h0M612.8 336.9h0M598.5 337h0M470.3 337.5h0M596.7 337.7h0M511.4 337.7h0M537.1 338.2h0M612.7 338.5h0M629.5 338.7h0M611.8 339h0M526.4 339.8h0M584.5 340.1h0M578.4 340.1h0M440 340.2h0M636.1 340.4h0M652.7 341.2h0M489.7 341.7h0M534.4 341.9h0M548.5 343.1h0M587.8 343.1h0M528.9 343.2h0M462.8 343.5h0M599.9 344h0M542.1 344.1h0M406.3 344.4h0M575.3 344.5h0M414.4 344.6h0M393.7 344.9h0M529.4 345.2h0M455.5 345.9h0M459.8 345.9h0M426.1 345.9h0M389 347h0M575.1 347.3h0M523.6 347.6h0M487.9 347.8h0M533.2 348.1h0M626.5 348.4h0M391.5 348.6h0M485.6 348.8h0M475.3 348.9h0M668.8 349.2h0M519.6 349.4h0M628.1 349.6h0M581.4 349.7h0M596.9 350h0M638.7 350.9h0M593.2 351.1h0M419.6 351.5h0M642.5 351.5h0M664.5 352.4h0M515.9 352.9h0M458.3 353.4h0M436.8 353.5h0M565.4 353.7h0M522.2 353.9h0M573.8 354.8h0M603.6 355.2h0M595.7 356.1h0M488 356.3h0M542.7 356.3h0M442.3 356.9h0M658.4 357h0M505.9 357.8h0M440.4 357.9h0M585.6 358.6h0M455.9 358.8h0M655.5 359.3h0M599.8 359.3h0M441.2 359.4h0M398.4 359.8h0M407.3 359.8h0M592.7 360h0M655.8 361.6h0M594.7 361.7h0M443.7 362.7h0M424.8 362.9h0M463.6 363.3h0M394.5 363.8h0M465.2 363.9h0M638 364.9h0M582.4 365h0M453.4 365.1h0M496 365.4h0M520.4 365.8h0M457.8 366.3h0M409.2 366.6h0M482.7 366.9h0M616.6 367.2h0M502.3 367.4h0M565.6 367.6h0M382.7 367.9h0M646.3 368h0M660.3 368h0M414.5 368.1h0M447.4 368.4h0M600.5 368.6h0M374 368.8h0M636.8 369.1h0M596 369.8h0M652 369.9h0M484.5 370h0M572.5 370.2h0M437 370.4h0M374.7 370.6h0M404.5 371.4h0M636 371.6h0M641 371.7h0M474.4 373h0M536.3 373h0M510.6 373.1h0M466.3 373.4h0M566.7 374.3h0M571.6 374.3h0M631.8 374.3h0M662.8 374.4h0M557.9 375.1h0M619.5 375.4h0M570.6 375.6h0M488.8 376h0M650.6 377.2h0M425.4 377.3h0M427.9 378.5h0M468.3 379.9h0M475.8 380h0M489.9 380.5h0M487.1 382.1h0M577.2 382.8h0M625.8 383h0M560.8 384.5h0M520.3 384.6h0M616.4 384.8h0M423.2 385.1h0M667.9 385.1h0M396.5 385.6h0M446.2 386h0M410.2 386.6h0M537 387.8h0M559.8 388.1h0M444.1 388.2h0M440.2 388.5h0M571.4 389h0M393.2 389.4h0M518.3 389.5h0M377.2 391h0M375.6 391.5h0M409.2 392.2h0M594.3 392.6h0M561.6 392.7h0M477.2 392.9h0M553.3 393.3h0M619.8 394.2h0M513.7 394.7h0M582.4 394.9h0M396.2 395.5h0M397.9 395.8h0M642.5 396h0M595.5 396.7h0M502.3 397.3h0M547.5 398.3h0M658.6 398.4h0M383.1 398.8h0M419.2 398.8h0M422.8 399.8h0M464 399.8h0M643.6 400h0M635.7 400.4h0M501.4 400.7h0M401.1 401.2h0M632.7 401.6h0M500.8 401.8h0M484.5 401.9h0M550.9 402h0M559.6 403h0M519.4 403.4h0M454 403.5h0M390.1 403.8h0M506.3 403.9h0M390.9 403.9h0M656.2 404.1h0M651.4 405.1h0M623 405.1h0M455.7 405.3h0M532.2 405.8h0M618.5 406h0M549.2 406.8h0M462.8 407.1h0M476 407.4h0M508.3 407.8h0M515.6 408.4h0M523.5 408.8h0M419.6 409.1h0M462.9 409.1h0M594.7 409.1h0M390.9 409.3h0M479.1 409.7h0M601.2 409.7h0M547.6 409.7h0M529.7 409.7h0M627.3 410h0M569.6 411.6h0M400.6 412.6h0M585.4 412.9h0M561.2 413h0M558.6 413.1h0M590.7 413.2h0M573.3 414h0M618.2 415.3h0M475.8 415.6h0M620.9 415.6h0M453.5 416h0M558.3 416.2h0M415.4 416.4h0M434.8 416.9h0M541.7 417.2h0M629.4 417.3h0M512.8 417.5h0" stroke="#4cc4b3" stroke-width="1.6" stroke-linecap="square" fill="none"/>
<path d="M533.2 214h0M631.1 214.4h0M497.3 214.5h0M502.3 215.1h0M463.5 215.4h0M606.8 215.5h0M454.6 215.6h0M550.8 215.8h0M438.8 216h0M429.1 216.1h0M412.3 216.5h0M545.2 216.9h0M663.3 217.5h0M519.7 218.1h0M629.6 218.5h0M484.3 218.7h0M546.5 219.3h0M464 219.5h0M544.6 219.5h0M497.7 219.7h0M560.4 220h0M409.7 220.3h0M638.5 220.4h0M501.7 220.7h0M598.7 222.4h0M438.3 222.7h0M523 223.4h0M625 223.6h0M595.4 223.7h0M430.2 224.8h0M446 225.1h0M405.6 225.4h0M408.3 226.3h0M409.8 226.4h0M489.3 226.4h0M596.1 226.5h0M468.9 226.8h0M460.1 226.8h0M618.5 226.9h0M455.6 227.2h0M553.1 227.4h0M470.6 227.6h0M625.7 227.7h0M593 228.1h0M494.4 230.2h0M597.6 230.2h0M570.7 230.3h0M664.6 230.5h0M436.7 230.9h0M399.7 231h0M572.7 231.6h0M430.9 231.6h0M468.2 232h0M594.2 232h0M546.2 232.7h0M494.2 233.1h0M565.2 233.3h0M542.6 234.7h0M463.3 235.3h0M386.4 236.4h0M398.1 237.5h0M377.2 237.7h0M500.3 237.7h0M534.1 238.4h0M481.6 238.4h0M434.2 238.5h0M374.6 238.8h0M452.3 239.4h0M520.6 239.8h0M454.5 240.6h0M443.7 240.6h0M478.9 240.8h0M459 242h0M489 242.6h0M500.9 242.6h0M625.4 243.4h0M404.2 243.7h0M579.9 243.7h0M635.9 243.8h0M633.6 244h0M556 244.2h0M650.3 244.3h0M560.7 244.6h0M475.8 244.8h0M611.2 245.8h0M558.4 245.8h0M607.7 246.4h0M593.7 246.9h0M564.9 247.1h0M625.9 247.1h0M569.4 247.8h0M445.2 248.3h0M434.1 248.6h0M605.9 248.8h0M505.4 248.8h0M398.9 249.1h0M401.6 249.1h0M491 249.2h0M421.3 249.2h0M527.6 249.3h0M461.6 249.4h0M431.7 250.6h0M523.8 250.8h0M650 250.9h0M412.7 251.3h0M620.5 252.7h0M593.7 253.5h0M374.7 253.7h0M533.8 254.5h0M497.2 254.7h0M538.2 255.5h0M556.2 255.5h0M493.3 255.7h0M445.5 256.4h0M392.9 256.5h0M388.9 256.8h0M619.5 257.2h0M587.2 257.5h0M526.4 257.6h0M403.8 258.4h0M478.8 258.4h0M587.1 258.6h0M383.9 258.8h0M527.3 258.9h0M526.8 259h0M607.4 259.3h0M583.3 259.4h0M471.6 259.8h0M504.9 260.1h0M384 260.4h0M482.1 260.7h0M433.9 261.6h0M643.2 261.8h0M425.4 262.4h0M469.1 263.9h0M637.2 263.9h0M373.5 264.2h0M408.7 264.3h0M552.6 264.7h0M538.9 264.8h0M431.4 264.9h0M526.3 265h0M534.2 265.7h0M596.7 266.3h0M423 266.6h0M587.6 267.2h0M449.1 267.4h0M651.9 268.1h0M582.9 268.8h0M509.6 268.9h0M423.7 269h0M454.5 269.9h0M472.8 270.7h0M460.9 270.9h0M493.7 270.9h0M444.2 271.1h0M619.1 271.6h0M464.7 271.7h0M521.1 272.3h0M465.6 272.8h0M405.3 272.9h0M580 273.2h0M533.7 273.7h0M547.4 273.8h0M462.7 274h0M507.7 274.1h0M613.1 274.3h0M575.6 274.4h0M415.4 275.1h0M519.1 275.4h0M432.1 276.7h0M561.7 276.8h0M466.1 276.9h0M539 277.2h0M657.5 278.1h0M494.4 278.4h0M475.5 278.6h0M392.7 279.1h0M576.2 279.2h0M372.1 279.5h0M383.1 279.6h0M447.1 280.6h0M429.9 280.7h0M426.4 282.3h0M442.1 283.1h0M447.3 283.3h0M670.1 283.6h0M500.3 284.2h0M641.8 285.7h0M400.7 286.3h0M508.3 286.4h0M583 286.4h0M647.7 286.5h0M596.5 286.6h0M511.4 287.1h0M599 287.6h0M640.7 287.8h0M539 288.1h0M457.4 288.5h0M425.8 288.9h0M546.1 288.9h0M663.8 289.3h0M646.6 290.7h0M508.7 291.9h0M483.8 292.3h0M395.5 292.6h0M635.4 292.7h0M408 293.1h0M601.2 293.7h0M619.4 294.8h0M632.1 294.8h0M623 295.7h0M512.8 295.9h0M441.3 297.8h0M394.1 298.2h0M408.5 298.4h0M371.9 298.6h0M534.9 298.7h0M450.3 298.7h0M578.3 299.1h0M529.9 299.2h0M485.5 299.7h0M617.9 299.9h0M527.8 300.7h0M603 301.1h0M447.6 301.8h0M412 302.1h0M530.1 302.7h0M539.3 302.9h0M506.2 303.2h0M623.5 303.2h0M641.3 303.5h0M381.1 303.6h0M641 304.1h0M467.8 304.2h0M425.9 304.4h0M461.5 304.4h0M613.2 304.7h0M437.8 304.7h0M510.3 305h0M606.1 305.6h0M578.1 306.3h0M448.4 306.4h0M477.9 307.1h0M579.6 307.2h0M625.2 308.6h0M528.8 309.1h0M516.6 309.1h0M419.3 309.2h0M532 310.7h0M595.7 310.7h0M380.8 310.9h0M650.6 311.1h0M567.7 311.2h0M585.5 311.6h0M523.5 312.2h0M630.4 313.1h0M419 313.3h0M644.1 314h0M549 314.1h0M545.1 314.2h0M427.3 314.3h0M517 314.4h0M417 315h0M555 315.1h0M373.5 315.1h0M487.9 315.3h0M382.7 315.4h0M544.1 315.6h0M626.8 315.9h0M482.4 316.4h0M547.3 316.9h0M404.8 317.4h0M563.7 317.6h0M470.8 317.6h0M585.6 317.8h0M558.9 317.8h0M469.3 318.5h0M507.9 319.3h0M479.4 319.4h0M617.5 320.7h0M477.9 320.9h0M382 321.5h0M499.4 323.5h0M626.5 323.7h0M635.3 323.7h0M633.9 324h0M485.9 324h0M610.4 324.2h0M552.3 324.5h0M495.9 324.6h0M448.5 324.9h0M467.6 327h0M393.4 327h0M399.8 327.1h0M431 327.2h0M625.2 327.4h0M455 327.5h0M602 328h0M515.1 328.5h0M501.9 329.4h0M574.9 330h0M597.2 330.8h0M482.5 331h0M636.4 332.3h0M513.1 333.7h0M492.3 333.8h0M599.9 335.4h0M580.5 335.5h0M644.8 336h0M543.1 336h0M653.5 336.1h0M389.3 336.3h0M583.9 337.2h0M485.8 337.3h0M545 338.4h0M453 338.6h0M470.5 338.7h0M445.8 338.9h0M618.1 339.3h0M591.8 339.4h0M555 340h0M398.8 340h0M534.2 340.1h0M503.2 340.1h0M441.3 340.4h0M601.9 341h0M622.6 342h0M390.5 342h0M424.5 342.3h0M571.5 342.5h0M577.6 342.9h0M488.2 343.4h0M448.7 344.2h0M529.1 344.9h0M618.5 345.5h0M618.2 345.9h0M410.5 346.6h0M629.7 346.9h0M526.3 347.1h0M484.6 347.1h0M467.4 347.6h0M596.7 348h0M619.3 348.2h0M575.3 348.3h0M396 348.5h0M568.4 349.2h0M436.6 349.5h0M456.9 349.5h0M506.3 349.9h0M657.3 349.9h0M595.4 349.9h0M508 350.5h0M410.5 350.5h0M569.7 350.5h0M388.8 350.7h0M650.5 350.9h0M643 351.5h0M508.1 352.3h0M557.1 352.9h0M401.2 353.5h0M496.7 353.7h0M641 353.9h0M642.1 354h0M436.1 354.5h0M608.4 354.9h0M471.8 355.4h0M425.8 355.4h0M576.9 355.5h0M438.8 355.7h0M546.8 355.8h0M641.4 356h0M513.2 356.1h0M446 356.3h0M445.5 356.5h0M566.3 357.4h0M414 358.4h0M648.7 358.6h0M564.4 359h0M500.6 359.7h0M481.4 360.8h0M484.6 360.9h0M480.5 361h0M652.3 361h0M402.7 361.1h0M441.2 361.3h0M607.4 361.6h0M380.7 362.1h0M622.2 362.1h0M484.8 362.3h0M421 362.4h0M388.1 362.8h0M550.3 363.2h0M535.4 363.4h0M510 363.6h0M524.9 363.7h0M540.8 364.5h0M584.1 365.4h0M515.4 366.3h0M604.9 366.4h0M529.5 366.7h0M600 366.8h0M498.2 366.8h0M648.8 367.4h0M598.7 367.8h0M504.8 368.6h0M619.1 368.7h0M410.8 368.7h0M548 368.9h0M554.1 370.5h0M498.6 371h0M619.9 371.1h0M648.9 372.1h0M453.7 372.2h0M597 372.5h0M501.5 372.5h0M461.9 372.7h0M588.4 373.8h0M504.8 373.9h0M597.4 374.1h0M494.6 374.8h0M441.5 374.9h0M619.4 375.3h0M659.3 375.8h0M399.8 376.9h0M650.5 377.5h0M556.2 377.9h0M492 377.9h0M498.2 378.1h0M412.3 378.2h0M456.9 378.3h0M627.4 378.4h0M504.7 378.5h0M627.8 379.7h0M504.7 379.8h0M552.4 380.4h0M372.6 380.5h0M541.4 380.9h0M622.9 381.1h0M523.5 381.9h0M496.9 382.1h0M455 382.4h0M479.4 382.5h0M546.9 382.6h0M387.1 382.8h0M427.2 383h0M567.9 383.3h0M616.3 383.9h0M540.1 384.1h0M520.1 384.5h0M414.4 384.8h0M529 384.9h0M506.2 385.2h0M436.4 385.2h0M413.7 385.4h0M393.2 385.4h0M428.2 385.8h0M569.4 385.9h0M575.2 386h0M479.8 386.5h0M629.3 386.6h0M489 386.7h0M616.8 387h0M439.2 387h0M659.4 387.2h0M523.1 387.2h0M543.8 387.6h0M600.9 388.8h0M394.5 389.3h0M580 389.4h0M436.7 390h0M385.5 390.1h0M599.1 390.6h0M609.7 390.7h0M605.6 390.9h0M654.6 391.1h0M426.4 391.7h0M622.6 391.7h0M452.2 391.8h0M480.9 392.4h0M563.2 392.8h0M537 392.9h0M551.3 393.1h0M388.3 393.3h0M500.5 393.3h0M415.8 393.4h0M446.5 394h0M669.9 394.2h0M611.6 394.7h0M556.3 395.7h0M628 396.5h0M605.7 396.8h0M521 397h0M518 397h0M510.4 397.2h0M380.1 397.2h0M415.8 397.2h0M420.8 397.5h0M563.1 397.8h0M382.5 398h0M546.6 398.5h0M563.2 398.9h0M527.7 399.1h0M414 399.6h0M376.6 399.6h0M501.2 399.7h0M550.8 400.3h0M544.2 400.7h0M460.4 400.7h0M649.5 401.2h0M625.9 402h0M399.8 402.9h0M561.8 402.9h0M658.4 403h0M549.1 403.3h0M584.6 403.4h0M517.4 403.6h0M478.4 404.1h0M602.7 404.1h0M546.5 404.4h0M581.2 404.4h0M420.1 404.5h0M597.4 405.1h0M459.9 405.2h0M488.4 405.2h0M546.1 405.4h0M507.4 405.4h0M387.6 405.6h0M494.8 405.7h0M522.9 406h0M494 406.1h0M557 406.2h0M420.4 406.2h0M510 406.4h0M664.5 406.5h0M472.2 406.6h0M474.7 407.2h0M619.5 408.7h0M656.9 408.8h0M654.7 409h0M449.4 409h0M532.6 410.1h0M651.7 410.5h0M554.1 410.8h0M480.8 411.1h0M539.6 411.4h0M656.1 412.1h0M484.7 412.2h0M495.9 412.6h0M476.3 412.6h0M564.2 412.6h0M378.1 412.9h0M450 413h0M455.6 413h0M394.1 413.3h0M561.3 414h0M629.1 414.2h0M523.1 414.3h0M603 414.4h0M411.4 415.1h0M376.7 415.3h0M625.1 415.5h0M561.7 416.6h0M384.8 416.7h0M590.4 417.1h0M586 417.4h0" stroke="#58d8c6" stroke-width="1.6" stroke-linecap="square" fill="none"/>
<path d="M391.2 213.9h0M518.7 214h0M402.2 214.3h0M622 215.1h0M456.8 215.2h0M639.9 215.3h0M424.8 215.6h0M571.3 215.7h0M620.8 215.7h0M582.6 216h0M536 216.2h0M538.9 216.3h0M564.2 216.8h0M577.8 216.8h0M519.2 217.1h0M619.1 217.5h0M653.3 218h0M620 218.5h0M437.8 219.6h0M406.6 220.5h0M403.1 220.6h0M483.2 221.1h0M441.1 221.3h0M462.9 223.3h0M552.6 223.4h0M391.7 223.9h0M412 224.2h0M666.1 224.4h0M518.8 224.5h0M418 225h0M415 225.4h0M403.7 225.5h0M617.4 225.8h0M449.5 226h0M582.6 227.2h0M585.3 227.3h0M566.1 227.7h0M387.7 228h0M413.3 228.5h0M610.4 228.9h0M453.8 230.7h0M521.7 230.8h0M582.5 230.8h0M607 231.1h0M374.8 231.3h0M565.5 231.6h0M627.7 231.7h0M547.2 232.3h0M606.3 232.3h0M459 232.5h0M654.3 233.7h0M625.6 234.1h0M633.5 234.2h0M423.6 234.9h0M546.8 235h0M561.2 236.2h0M622.9 236.7h0M473.7 236.8h0M534.7 237.2h0M635.6 238.2h0M555.9 238.5h0M546.8 238.9h0M603.1 239h0M653.6 239h0M641.7 239.1h0M554.2 239.2h0M521.9 239.8h0M431.3 240.3h0M480.7 240.5h0M441.2 241.4h0M463.2 241.5h0M450.1 241.7h0M464 242.2h0M438 242.2h0M486.6 242.7h0M520.8 243.1h0M499.4 243.4h0M431.2 243.7h0M437.8 243.7h0M387.5 244.1h0M618.4 244.2h0M486.5 245h0M604.4 245h0M567.9 245.2h0M379.8 245.2h0M602.3 245.8h0M630.2 245.8h0M623.4 246.3h0M372 247.2h0M592 247.5h0M468.5 247.8h0M462.3 248h0M442 248.3h0M663.7 248.9h0M437.5 249.7h0M630.5 250h0M584.8 250.3h0M668.6 250.7h0M412.2 251.3h0M631.7 251.4h0M572.3 251.5h0M496.9 252.4h0M565.1 253.1h0M394.5 253.2h0M648.2 253.4h0M372.8 253.6h0M414.1 254h0M480.5 254.3h0M520 255.6h0M578.1 256.3h0M634.4 256.6h0M385.2 256.9h0M450.7 257.4h0M624 257.7h0M570 258.1h0M486.3 258.1h0M414.5 258.2h0M550.4 258.5h0M470.7 258.5h0M569.8 258.5h0M558 258.7h0M647.4 258.7h0M505.5 258.9h0M479.7 259.1h0M384 260h0M485.9 260h0M614.9 260.4h0M501.6 260.8h0M452.4 261h0M548.1 261h0M512.9 261.2h0M547.3 262.1h0M549.9 263.1h0M637.3 263.2h0M517.1 263.4h0M422.3 263.8h0M565.4 264.1h0M507.4 264.4h0M530.6 264.8h0M607.9 265.1h0M517.6 265.7h0M659.2 266.2h0M471.5 266.3h0M483.5 266.8h0M531.1 268h0M584.6 268.3h0M476.9 268.8h0M545.6 268.8h0M463.6 269.2h0M601.8 270.1h0M517.1 270.8h0M577.3 270.9h0M531.5 271.2h0M506.1 271.4h0M581.7 271.4h0M591.1 272.3h0M429.4 272.5h0M660.3 273h0M381.7 273.3h0M620.4 273.6h0M560.6 273.9h0M420.5 273.9h0M439.2 274.5h0M379 274.5h0M457.2 274.6h0M517 274.6h0M552.6 275.3h0M535.1 275.7h0M381.6 276.1h0M573.2 276.9h0M594 277.5h0M393.9 277.9h0M530.1 278h0M475.2 278.3h0M527.4 278.4h0M384.3 278.7h0M407.6 278.8h0M436.7 279.7h0M566.3 279.7h0M518 279.9h0M636.9 280.1h0M666.6 280.8h0M482.3 281.1h0M551.9 281.6h0M647.1 281.7h0M387.6 281.8h0M460.5 282h0M533.4 282.3h0M439.2 282.5h0M509.4 282.6h0M628.5 283.2h0M648.5 283.4h0M579.3 283.5h0M435.5 283.8h0M417.7 283.9h0M648.5 284.5h0M519.1 284.5h0M469.5 284.6h0M615.6 285.1h0M605.7 285.4h0M502.4 285.6h0M659.2 286h0M528.7 286.1h0M614.7 286.5h0M637.7 286.6h0M458.9 286.7h0M498 286.7h0M407.4 287h0M558.2 287.2h0M457.6 287.3h0M539 287.6h0M426.8 287.7h0M649.1 288.4h0M615.9 288.5h0M424.8 288.6h0M551 289.4h0M653.1 289.5h0M383.1 289.9h0M667.9 289.9h0M587.6 290.3h0M591.8 290.3h0M648.5 290.6h0M606.4 290.6h0M495.2 290.9h0M578.7 290.9h0M414 291.3h0M418.6 291.7h0M415.6 292h0M490.7 292.4h0M462.3 292.9h0M403.2 293h0M597.4 293.6h0M394.9 293.8h0M446.7 294.1h0M564.3 294.2h0M490.7 294.5h0M436.1 294.7h0M531.8 294.8h0M669.3 294.9h0M372.5 295.6h0M450.2 295.7h0M604.3 296h0M406.3 296h0M549.8 296.2h0M644 297h0M624.3 297.6h0M481.4 298.1h0M517.9 298.3h0M379 298.3h0M408.1 298.3h0M530.3 298.5h0M517.5 298.7h0M606.5 299.2h0M386.9 299.3h0M396.4 299.4h0M643.9 300h0M418.6 300.1h0M381.5 300.2h0M402.8 300.2h0M627.5 301h0M371.8 301h0M460.4 301.1h0M610.6 302h0M612.8 302h0M483.1 302.5h0M651 303.3h0M457.1 304.2h0M612.7 304.2h0M628.1 304.6h0M582.4 304.9h0M574.6 305.7h0M667.9 305.9h0M592.4 306h0M548.5 306.5h0M414.4 306.6h0M401.4 306.6h0M490.3 307h0M518.3 307.3h0M669.6 307.7h0M560.8 307.8h0M560.7 308.4h0M392.9 308.9h0M406.5 309.1h0M527.2 310h0M607.4 310.1h0M536.4 310.1h0M556.4 310.3h0M373.5 310.4h0M590.4 310.6h0M463.3 310.9h0M493.8 311h0M459.3 311h0M503 311h0M521.8 311.3h0M631.2 312h0M466.3 312.7h0M621.8 313.6h0M572.6 313.6h0M659.2 313.8h0M516.4 314.4h0M539.9 314.6h0M581.1 314.8h0M611 315h0M649.9 315h0M412.1 315h0M566.1 315.3h0M596.1 315.4h0M484.5 315.6h0M504 315.9h0M519.1 316h0M432.2 316.1h0M473.1 316.4h0M561 316.8h0M598.8 317.1h0M601.1 317.7h0M408.3 317.9h0M552.7 318.7h0M402.1 318.8h0M591.3 319.4h0M571.2 321.1h0M588.5 321.1h0M567.5 321.1h0M640.9 321.3h0M406.9 321.4h0M509.5 323.1h0M470.9 323.6h0M538.7 323.6h0M610.4 323.7h0M384.5 324.5h0M608.3 325.4h0M455.6 327.2h0M667.7 327.5h0M561.8 327.6h0M571.8 327.8h0M469.9 327.9h0M623.3 328.8h0M436.4 329h0M447.5 331.7h0M412.9 331.7h0M606.8 331.8h0M399 332h0M427.9 332.3h0M568.8 332.4h0M646.1 333.2h0M482.5 333.3h0M485.9 333.6h0M423.7 333.8h0M520.1 334.1h0M396.6 335h0M434.8 335h0M533.5 335.1h0M418.7 335.8h0M454.9 336.2h0M419.9 336.6h0M481.8 336.9h0M585.6 337.3h0M385.2 337.4h0M631.5 337.4h0M594.3 337.6h0M615 338.8h0M407.6 338.9h0M664.8 339.3h0M543.2 339.6h0M587 339.9h0M642.2 340h0M621.9 341.5h0M519.3 341.7h0M554.9 341.9h0M572.6 342.3h0M465.2 342.3h0M423.7 343h0M371.9 343.1h0M581.7 343.4h0M385 343.9h0M601.4 344h0M421.5 344.1h0M666.4 344.1h0M633.5 344.3h0M612.8 344.6h0M463 344.9h0M402.1 345h0M633.9 345h0M625.2 345.1h0M528.7 345.3h0M562.9 345.6h0M575.9 346.9h0M640.7 347h0M565.7 347h0M541.2 347.7h0M529 348.2h0M670.1 348.2h0M578.4 348.2h0M532.7 348.3h0M480.3 348.9h0M391.6 349.4h0M572.8 349.4h0M410.4 349.5h0M417.2 349.6h0M547.3 350.7h0M413.5 350.8h0M548.7 350.9h0M543.6 351.3h0M638.5 351.6h0M594.5 351.8h0M441.4 352.7h0M423.7 352.8h0M660.5 352.8h0M605.8 353h0M566.5 353.1h0M373.5 353.9h0M575.3 354h0M502.7 354.1h0M464.3 354.6h0M478 354.8h0M431.9 355h0M451.7 355.4h0M558.1 356.6h0M482.4 357h0M466 357h0M666.7 357.7h0M480.9 358.2h0M541 358.4h0M525.1 358.8h0M658.8 358.9h0M374.8 358.9h0M557.6 359.3h0M606.7 359.4h0M379.1 359.5h0M378.4 359.5h0M382.2 360h0M446.7 360.1h0M488.3 360.6h0M595.3 361h0M435.1 361.6h0M588.8 362.3h0M489 362.4h0M650.7 362.4h0M655.3 363.2h0M394.6 363.6h0M640.7 363.8h0M550.6 364.9h0M388.2 364.9h0M410.8 365.2h0M504 365.5h0M389.8 366.1h0M642.8 366.1h0M631.4 366.9h0M590.9 367.3h0M547 367.4h0M468.6 367.7h0M617.1 368.7h0M659.8 369h0M516.8 369.8h0M600.9 369.9h0M601.1 370.6h0M479.3 370.7h0M450.9 371.5h0M560.1 371.6h0M428.3 371.9h0M641.8 372h0M571.9 372.3h0M658.1 372.5h0M377.9 372.8h0M456.7 372.9h0M471.9 372.9h0M627.8 373h0M481.2 373.2h0M399.3 373.5h0M395 373.6h0M502.3 375.4h0M575.9 377h0M491.6 377.1h0M657.2 379.8h0M533.2 380.4h0M636.1 380.5h0M416.3 380.8h0M450.7 380.9h0M472.3 381.4h0M577.3 381.5h0M505.6 381.7h0M629.2 381.7h0M539.1 381.9h0M446.2 383.1h0M653.7 383.1h0M604 383.5h0M440.8 384.4h0M461.9 384.6h0M516.1 384.6h0M531.5 384.9h0M578.9 385.1h0M653.8 385.4h0M452.8 385.5h0M555.8 385.6h0M487.7 386h0M450 386.4h0M586.1 386.4h0M561.2 386.7h0M435.7 387h0M461.1 387.3h0M443.8 387.4h0M482.6 387.5h0M403.4 387.5h0M422.2 388.1h0M618.5 388.2h0M618.7 388.7h0M419.6 389.7h0M581.8 389.8h0M543.3 389.9h0M442.9 390.7h0M494.1 391.6h0M546.5 391.9h0M373.7 392h0M553.8 392.2h0M419.6 393h0M618.3 393.8h0M620 393.9h0M603.8 394h0M662.2 394.9h0M662.6 395.4h0M541 396.1h0M645.9 396.4h0M558.7 397.8h0M609.1 398.8h0M453.8 398.9h0M447.8 399.4h0M519.7 399.8h0M523.2 400.6h0M513.2 400.6h0M503 400.8h0M417.7 402.1h0M497.4 402.2h0M592.1 402.6h0M577 403.2h0M437 403.4h0M501.2 404h0M469.9 404.8h0M374.2 406.5h0M539.8 406.8h0M581 406.9h0M387.9 407.4h0M636 407.5h0M372.5 407.6h0M629 408.7h0M521.8 409.2h0M542.3 410.7h0M585.2 410.8h0M523.4 411.3h0M380.6 411.4h0M433.2 412.3h0M442.6 413h0M571.7 413h0M397.9 413.1h0M525.4 413.1h0M533.6 413.1h0M395.8 413.2h0M419.3 413.3h0M464.7 413.3h0M622.8 413.5h0M559.8 413.8h0M578.5 414.1h0M416.7 414.5h0M540.7 415.2h0M625.1 415.8h0M415.4 416.2h0M520.2 416.5h0M552.3 417.2h0" stroke="#66ecd8" stroke-width="1.6" stroke-linecap="square" fill="none"/>
</g>
<g id="panel-e">
<rect x="590.9" y="396.9" width="64.6" height="5.6" fill="#fff"/>
<text transform="translate(623.2 386.5) scale(0.9 1)" font-size="17.2" font-weight="bold" text-anchor="middle" fill="#fff">10 µm</text>
<text transform="translate(521.4 234.8) scale(0.8 1)" font-size="19" font-weight="bold" text-anchor="middle" fill="#fff">Ga</text>
<text x="352.6" y="240.2" font-size="26.2" text-anchor="start" fill="#111" stroke="#111" stroke-width="0.05">e</text>
</g>
<g id="panel-f">
<polyline points="33.5,624.3 41.3,623.5 49.1,624 56.9,624.4 64.7,624.3 72.5,624.3 80.3,624.3 88.1,624.3 95.9,624.2 103.7,624 111.5,623.4 119.3,622.5 127.1,621.6 134.9,620.3 142.7,617.5 150.4,614.9 158.2,612.2 166,610.3 173.8,608.7 181.6,605.7 189.4,601.6 197.2,595.5 205,586 212.8,565.2 220.6,543.6 228.4,521.1 236.2,494.4 244,469 251.8,453.3 259.6,450.6" fill="none" stroke="#e8231a" stroke-width="1.6" stroke-linejoin="round"/>
<path d="M236.1 503.6L194.3 624.7" stroke="#111" stroke-width="2.1" stroke-dasharray="9.4 5.4" fill="none"/>
<path d="M64.5 624.7V518.2" stroke="#111" stroke-width="2.1" stroke-dasharray="8.75 6.15" fill="none"/>
<path d="M193.3 624.7V518.6" stroke="#e8231a" stroke-width="2.1" stroke-dasharray="8.75 6.15" fill="none"/>
<path d="M70 567.7H187.8" stroke="#e8231a" stroke-width="1.7" fill="none"/>
<path d="M65.3 567.7l6.6 -3v6zM192.5 567.7l-6.6 -3v6z" fill="#e8231a"/>
<rect x="25.7" y="437" width="233.9" height="187.7" fill="none" stroke="#111" stroke-width="1.3"/>
<path d="M25.7 624.7v3.6M64.7 624.7v3.6M103.7 624.7v3.6M142.7 624.7v3.6M181.6 624.7v3.6M220.6 624.7v3.6M259.6 624.7v3.6" stroke="#111" stroke-width="1.2" fill="none"/>
<path d="M45.2 624.7v2.2M84.2 624.7v2.2M123.2 624.7v2.2M162.1 624.7v2.2M201.1 624.7v2.2M240.1 624.7v2.2" stroke="#111" stroke-width="1.2" fill="none"/>
<text x="24.3" y="641.4" font-size="12.5" text-anchor="middle" fill="#111" stroke="#111" stroke-width="0.15">-1</text>
<text x="64.7" y="641.4" font-size="12.5" text-anchor="middle" fill="#111" stroke="#111" stroke-width="0.15">0</text>
<text x="103.7" y="641.4" font-size="12.5" text-anchor="middle" fill="#111" stroke="#111" stroke-width="0.15">1</text>
<text x="142.7" y="641.4" font-size="12.5" text-anchor="middle" fill="#111" stroke="#111" stroke-width="0.15">2</text>
<text x="181.6" y="641.4" font-size="12.5" text-anchor="middle" fill="#111" stroke="#111" stroke-width="0.15">3</text>
<text x="220.6" y="641.4" font-size="12.5" text-anchor="middle" fill="#111" stroke="#111" stroke-width="0.15">4</text>
<text x="259.6" y="641.4" font-size="12.5" text-anchor="middle" fill="#111" stroke="#111" stroke-width="0.15">5</text>
<text x="143" y="654.9" font-size="13.4" text-anchor="middle" fill="#111" stroke="#111" stroke-width="0.3">Binding Energy (eV)</text>
<text transform="translate(16.5 531) rotate(-90)" font-size="13.35" text-anchor="middle" fill="#111" stroke="#111" stroke-width="0.15">Intensity (a.u.)</text>
<text x="72.6" y="517.6" font-size="16" text-anchor="start" fill="#111" stroke="#111" stroke-width="0.3">E<tspan font-size="11" dy="3.6">f</tspan></text>
<text x="169.9" y="517.4" font-size="16" text-anchor="start" fill="#e8231a" stroke="#e8231a" stroke-width="0.3">E<tspan font-size="11" dy="3.6">v</tspan></text>
<text x="133.5" y="558.6" font-size="16.8" text-anchor="middle" fill="#e8231a" stroke="#e8231a" stroke-width="0.3">3.30 eV</text>
<text x="2.9" y="464.9" font-size="26.2" text-anchor="start" fill="#111" stroke="#111" stroke-width="0.05">f</text>
</g>
<g id="panel-g">
<polyline points="307.5,437.2 307.6,500 307.7,560 308.3,567.2 309,566.8 309.1,573.6 309.5,575.5 309.5,575.5 310.1,578.9 310.8,582.7 311.4,587.4 312.1,592.3 312.7,596.3 313.4,599.7 314,602.8 314.7,605.5 315.3,607.6 316,609.5 316.6,611.2 317.2,612.6 317.9,613.9 318.5,615 319.2,615.9 319.8,616.7 320.5,617.5 321.1,618.2 321.8,618.7 322.4,619.2 323.1,619.5 323.7,619.8 324.4,620 325,620.3 325.6,620.5 326.3,620.7 326.9,620.8 327.6,621 328.2,621.1 328.9,621.2 329.5,621.3 330.2,621.3 330.8,621.4 331.5,621.4 332.1,621.5 332.7,621.5 333.4,621.5 334,621.6 334.7,621.6 335.3,621.7 336,621.7 336.6,621.7 337.3,621.8 337.9,621.8 338.6,621.8 339.2,621.8 339.9,621.9 340.5,621.9 341.1,621.9 341.8,621.9 342.4,621.9 343.1,622 343.7,622 344.4,622 345,622 345.7,622 346.3,622 347,622 347.6,622 400,622.2 506,622.3" fill="none" stroke="#e8231a" stroke-width="1.5" stroke-linejoin="round"/>
<rect x="293.6" y="437.2" width="231.8" height="186.4" fill="none" stroke="#111" stroke-width="1.5"/>
<path d="M312.5 623.6v3.6M351.2 623.6v3.6M389.9 623.6v3.6M428.7 623.6v3.6M467.4 623.6v3.6M506.1 623.6v3.6" stroke="#111" stroke-width="1.3" fill="none"/>
<path d="M293.1 623.6v2.2M331.9 623.6v2.2M370.6 623.6v2.2M409.3 623.6v2.2M448 623.6v2.2M486.7 623.6v2.2M525.5 623.6v2.2" stroke="#111" stroke-width="1.3" fill="none"/>
<text x="312.5" y="641" font-size="12.6" text-anchor="middle" fill="#111" stroke="#111" stroke-width="0.2">300</text>
<text x="351.2" y="641" font-size="12.6" text-anchor="middle" fill="#111" stroke="#111" stroke-width="0.2">400</text>
<text x="389.9" y="641" font-size="12.6" text-anchor="middle" fill="#111" stroke="#111" stroke-width="0.2">500</text>
<text x="428.7" y="641" font-size="12.6" text-anchor="middle" fill="#111" stroke="#111" stroke-width="0.2">600</text>
<text x="467.4" y="641" font-size="12.6" text-anchor="middle" fill="#111" stroke="#111" stroke-width="0.2">700</text>
<text x="506.1" y="641" font-size="12.6" text-anchor="middle" fill="#111" stroke="#111" stroke-width="0.2">800</text>
<text x="409.4" y="657.4" font-size="13" text-anchor="middle" fill="#111" stroke="#111" stroke-width="0.3">Wavelength (nm)</text>
<text transform="translate(283.4 530.8) rotate(-90)" font-size="13" text-anchor="middle" fill="#111" stroke="#111" stroke-width="0.3">Absorption (a.u.)</text>
<text x="269" y="465.4" font-size="26.2" text-anchor="start" fill="#111" stroke="#111" stroke-width="0.05">g</text>
<polyline points="365,585.3 366.2,585.3 367.3,585.3 368.5,585.3 369.6,585.3 370.8,585.3 371.9,585.3 373.1,585.2 374.2,585.2 375.4,585.2 376.5,585.2 377.7,585.2 378.8,585.2 380,585.2 381.1,585.2 382.3,585.2 383.4,585.2 384.6,585.2 385.7,585.2 386.9,585.2 388,585.1 389.2,585.1 390.3,585.1 391.5,585.1 392.6,585.1 393.8,585.1 394.9,585.1 396.1,585.1 397.2,585.1 398.4,585.1 399.5,585.1 400.7,585 401.8,585 403,585 404.1,585 405.3,585 406.4,585 407.6,585 408.7,585 409.9,585 411.1,585 412.2,585 413.4,585 414.5,584.9 415.7,584.9 416.8,584.9 418,584.9 419.1,584.9 420.3,584.9 421.4,584.9 422.6,584.9 423.7,584.9 424.9,584.9 426,584.9 427.2,584.8 428.3,584.8 429.5,584.8 430.6,584.8 431.8,584.8 432.9,584.8 434.1,584.8 435.2,584.8 436.4,584.8 437.5,584.8 438.7,584.8 439.8,584.8 441,584.7 442.1,584.7 443.3,584.7 444.4,584.7 445.6,584.7 446.7,584.7 447.9,584.7 449,584.7 450.2,584.7 451.3,584.6 452.5,584.6 453.6,584.6 454.8,584.6 455.9,584.6 457.1,584.6 458.3,584.5 459.4,584.5 460.6,584.5 461.7,584.5 462.9,584.4 464,584.4 465.2,584.4 466.3,584.3 467.5,584.3 468.6,584.2 469.8,584.1 470.9,584 472.1,583.9 473.2,583.8 474.4,583.6 475.5,583.4 476.7,583 477.8,582.7 479,582.2 480.1,581.7 481.3,581.2 482.4,580.4 483.6,579.6 484.7,578.7 485.9,577.7 487,576.6 488.2,575.4 489.3,574 490.5,572.5 491.6,570.9 492.8,569.1 493.9,567.2 495.1,565.1 496.2,562.8 497.4,560.1 498.5,557.1 499.7,553.6 500.8,549.4 502,544 502.6,541.6 503.2,545.4 503.7,538 504.4,520 504.8,446" fill="none" stroke="#e8231a" stroke-width="1.2" stroke-linejoin="round"/>
<path d="M500.7 586.2L509.8 452.1" stroke="#111" stroke-width="1.2" stroke-dasharray="4.6 3" fill="none"/>
<path d="M470.8 551.9L500.7 586" stroke="#111" stroke-width="1.2" fill="none"/>
<rect x="338.3" y="446" width="175" height="140.2" fill="none" stroke="#222" stroke-width="1.0"/>
<path d="M338.3 586.2v2.8M363.3 586.2v2.8M388.3 586.2v2.8M413.3 586.2v2.8M438.3 586.2v2.8M463.3 586.2v2.8M488.3 586.2v2.8M513.3 586.2v2.8" stroke="#111" stroke-width="1.0" fill="none"/>
<path d="M350.8 586.2v1.6M375.8 586.2v1.6M400.8 586.2v1.6M425.8 586.2v1.6M450.8 586.2v1.6M475.8 586.2v1.6M500.8 586.2v1.6" stroke="#111" stroke-width="1.0" fill="none"/>
<text x="338.3" y="599" font-size="9.6" text-anchor="middle" fill="#111" stroke="#111" stroke-width="0.12">1.0</text>
<text x="363.3" y="599" font-size="9.6" text-anchor="middle" fill="#111" stroke="#111" stroke-width="0.12">1.5</text>
<text x="388.3" y="599" font-size="9.6" text-anchor="middle" fill="#111" stroke="#111" stroke-width="0.12">2.0</text>
<text x="413.3" y="599" font-size="9.6" text-anchor="middle" fill="#111" stroke="#111" stroke-width="0.12">2.5</text>
<text x="438.3" y="599" font-size="9.6" text-anchor="middle" fill="#111" stroke="#111" stroke-width="0.12">3.0</text>
<text x="463.3" y="599" font-size="9.6" text-anchor="middle" fill="#111" stroke="#111" stroke-width="0.12">3.5</text>
<text x="488.3" y="599" font-size="9.6" text-anchor="middle" fill="#111" stroke="#111" stroke-width="0.12">4.0</text>
<text x="513.3" y="599" font-size="9.6" text-anchor="middle" fill="#111" stroke="#111" stroke-width="0.12">4.5</text>
<text x="425.8" y="610" font-size="10.2" text-anchor="middle" fill="#111" stroke="#111" stroke-width="0.12">Energy (eV)</text>
<text transform="translate(332 516) rotate(-90)" font-size="10" text-anchor="middle" fill="#111" stroke="#111" stroke-width="0.1">(αhν)<tspan font-size="7" dy="-3.6">2</tspan><tspan dy="3.6"> (a.u.)</tspan></text>
<text x="407.8" y="549.2" font-size="13.4" text-anchor="start" fill="#e8231a" stroke="#e8231a" stroke-width="0.3">E<tspan font-size="9.3" dy="3">g</tspan><tspan dy="-3">=4.26 eV</tspan></text>
</g>
<g id="panel-h">
<defs><linearGradient id="gcb" x1="0" y1="0" x2="0" y2="1"><stop offset="0" stop-color="#f0bba6"/><stop offset="1" stop-color="#e89c82"/></linearGradient><linearGradient id="gvb" x1="0" y1="0" x2="0" y2="1"><stop offset="0" stop-color="#aab6e3"/><stop offset="1" stop-color="#8c9ed7"/></linearGradient></defs>
<rect x="561.2" y="435.5" width="109.1" height="46" fill="url(#gcb)"/>
<rect x="561.2" y="616.3" width="109.1" height="44.2" fill="url(#gvb)"/>
<path d="M562.4 481.5V616.3" stroke="#111" stroke-width="1.9" fill="none"/>
<path d="M670 520.8V616.3" stroke="#4472c4" stroke-width="1.5" fill="none"/>
<path d="M562.4 521.5H670.3" stroke="#4472c4" stroke-width="1.6" stroke-dasharray="5.6 2.1" fill="none"/>
<text x="615.6" y="465.9" font-size="18.4" text-anchor="middle" fill="#111" stroke="#111" stroke-width="0.3">CB</text>
<text x="615.9" y="646" font-size="18.4" text-anchor="middle" fill="#111" stroke="#111" stroke-width="0.3">VB</text>
<text x="568.2" y="498.8" font-size="14.2" text-anchor="start" fill="#111" stroke="#111" stroke-width="0.3">E<tspan font-size="9.5" dy="3">g</tspan><tspan dy="-3"> = 4.26 eV</tspan></text>
<text x="569" y="541.2" font-size="14.2" text-anchor="start" fill="#4472c4" stroke="#4472c4" stroke-width="0.3">E<tspan font-size="9.5" dy="3">v</tspan><tspan dy="-3"> = 3.30 eV</tspan></text>
<text x="531.9" y="465.2" font-size="26.2" text-anchor="start" fill="#111" stroke="#111" stroke-width="0.05">h</text>
</g>
</svg></body></html>
